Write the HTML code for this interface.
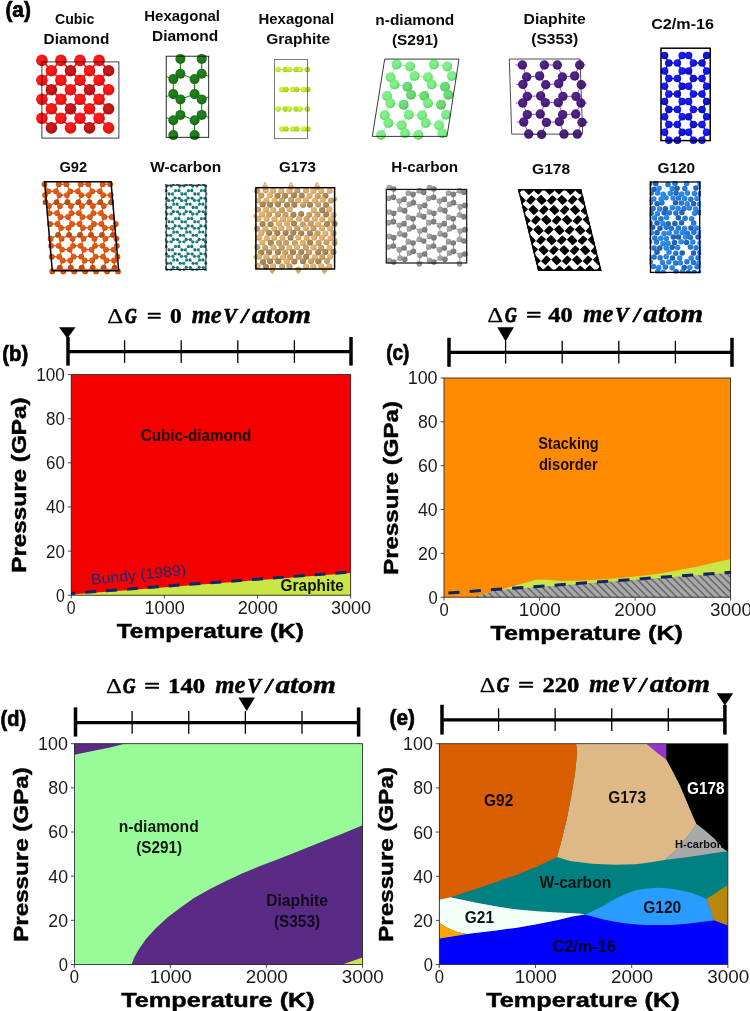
<!DOCTYPE html>
<html lang="en"><head><meta charset="utf-8"><title>Carbon phase diagrams</title>
<style>html,body{margin:0;padding:0;background:#fff;}svg{display:block;will-change:transform;}</style></head><body>
<svg width="750" height="1011" viewBox="0 0 750 1011">
<rect width="750" height="1011" fill="#fff"/>
<defs>
<pattern id="hatch" width="5.2" height="5.2" patternUnits="userSpaceOnUse" patternTransform="rotate(45)"><rect width="5.2" height="5.2" fill="#a9a9a9"/><rect x="0" y="0" width="5.2" height="1.5" fill="#666"/></pattern>
<radialGradient id="g0" cx="0.42" cy="0.38" r="0.62"><stop offset="0" stop-color="#fb2222"/><stop offset="0.55" stop-color="#fb1414"/><stop offset="1" stop-color="#d21010"/></radialGradient><radialGradient id="g1" cx="0.42" cy="0.38" r="0.62"><stop offset="0" stop-color="#c72222"/><stop offset="0.55" stop-color="#c41414"/><stop offset="1" stop-color="#a41010"/></radialGradient><radialGradient id="g2" cx="0.42" cy="0.38" r="0.62"><stop offset="0" stop-color="#298124"/><stop offset="0.55" stop-color="#1c7a17"/><stop offset="1" stop-color="#176613"/></radialGradient><radialGradient id="g3" cx="0.42" cy="0.38" r="0.62"><stop offset="0" stop-color="#c9f536"/><stop offset="0.55" stop-color="#c6f52a"/><stop offset="1" stop-color="#a6cd23"/></radialGradient><radialGradient id="g4" cx="0.42" cy="0.38" r="0.62"><stop offset="0" stop-color="#b8e130"/><stop offset="0.55" stop-color="#b4e023"/><stop offset="1" stop-color="#97bc1d"/></radialGradient><radialGradient id="g5" cx="0.42" cy="0.38" r="0.62"><stop offset="0" stop-color="#7cef84"/><stop offset="0.55" stop-color="#74ee7d"/><stop offset="1" stop-color="#61c769"/></radialGradient><radialGradient id="g6" cx="0.42" cy="0.38" r="0.62"><stop offset="0" stop-color="#68db73"/><stop offset="0.55" stop-color="#5fd96b"/><stop offset="1" stop-color="#4fb659"/></radialGradient><radialGradient id="g7" cx="0.42" cy="0.38" r="0.62"><stop offset="0" stop-color="#562a89"/><stop offset="0.55" stop-color="#4c1d82"/><stop offset="1" stop-color="#3f186d"/></radialGradient><radialGradient id="g8" cx="0.42" cy="0.38" r="0.62"><stop offset="0" stop-color="#1d1dd2"/><stop offset="0.55" stop-color="#0f0fd0"/><stop offset="1" stop-color="#0c0cae"/></radialGradient><radialGradient id="g9" cx="0.42" cy="0.38" r="0.62"><stop offset="0" stop-color="#2222f0"/><stop offset="0.55" stop-color="#1414f0"/><stop offset="1" stop-color="#1010c9"/></radialGradient><radialGradient id="g10" cx="0.42" cy="0.38" r="0.62"><stop offset="0" stop-color="#e3601a"/><stop offset="0.55" stop-color="#e2560c"/><stop offset="1" stop-color="#bd480a"/></radialGradient><radialGradient id="g11" cx="0.42" cy="0.38" r="0.62"><stop offset="0" stop-color="#c05420"/><stop offset="0.55" stop-color="#bd4a12"/><stop offset="1" stop-color="#9e3e0f"/></radialGradient><radialGradient id="g12" cx="0.42" cy="0.38" r="0.62"><stop offset="0" stop-color="#197678"/><stop offset="0.55" stop-color="#0b6e70"/><stop offset="1" stop-color="#095c5e"/></radialGradient><radialGradient id="g13" cx="0.42" cy="0.38" r="0.62"><stop offset="0" stop-color="#208786"/><stop offset="0.55" stop-color="#12807f"/><stop offset="1" stop-color="#0f6b6a"/></radialGradient><radialGradient id="g14" cx="0.42" cy="0.38" r="0.62"><stop offset="0" stop-color="#cca56c"/><stop offset="0.55" stop-color="#c9a063"/><stop offset="1" stop-color="#a88653"/></radialGradient><radialGradient id="g15" cx="0.42" cy="0.38" r="0.62"><stop offset="0" stop-color="#e4b472"/><stop offset="0.55" stop-color="#e3b06a"/><stop offset="1" stop-color="#be9359"/></radialGradient><radialGradient id="g16" cx="0.42" cy="0.38" r="0.62"><stop offset="0" stop-color="#ae8c5d"/><stop offset="0.55" stop-color="#a98553"/><stop offset="1" stop-color="#8d6f45"/></radialGradient><radialGradient id="g17" cx="0.42" cy="0.38" r="0.62"><stop offset="0" stop-color="#a5a5a5"/><stop offset="0.55" stop-color="#a0a0a0"/><stop offset="1" stop-color="#868686"/></radialGradient><radialGradient id="g18" cx="0.42" cy="0.38" r="0.62"><stop offset="0" stop-color="#878787"/><stop offset="0.55" stop-color="#808080"/><stop offset="1" stop-color="#6b6b6b"/></radialGradient><radialGradient id="g19" cx="0.42" cy="0.38" r="0.62"><stop offset="0" stop-color="#2e7fda"/><stop offset="0.55" stop-color="#2177d8"/><stop offset="1" stop-color="#1b63b5"/></radialGradient><radialGradient id="g20" cx="0.42" cy="0.38" r="0.62"><stop offset="0" stop-color="#296cbc"/><stop offset="0.55" stop-color="#1c63b8"/><stop offset="1" stop-color="#17539a"/></radialGradient><radialGradient id="g21" cx="0.42" cy="0.38" r="0.62"><stop offset="0" stop-color="#338def"/><stop offset="0.55" stop-color="#2686ee"/><stop offset="1" stop-color="#1f70c7"/></radialGradient>
</defs>
<text x="5.4" y="16.5" font-family="'Liberation Sans', sans-serif" font-size="22" font-weight="bold" font-style="normal" fill="#000" textLength="25.45" lengthAdjust="spacingAndGlyphs" stroke="#000" stroke-width="0.7">(a)</text>
<text x="55" y="24" font-family="'Liberation Sans', sans-serif" font-size="15.5" font-weight="bold" font-style="normal" fill="#0a0a0a" textLength="39.27" lengthAdjust="spacingAndGlyphs">Cubic</text>
<text x="43.6" y="44.3" font-family="'Liberation Sans', sans-serif" font-size="15.5" font-weight="bold" font-style="normal" fill="#0a0a0a" textLength="65.67" lengthAdjust="spacingAndGlyphs">Diamond</text>
<text x="144.3" y="20.7" font-family="'Liberation Sans', sans-serif" font-size="15.5" font-weight="bold" font-style="normal" fill="#0a0a0a" textLength="75.73" lengthAdjust="spacingAndGlyphs">Hexagonal</text>
<text x="152" y="41" font-family="'Liberation Sans', sans-serif" font-size="15.5" font-weight="bold" font-style="normal" fill="#0a0a0a" textLength="66.27" lengthAdjust="spacingAndGlyphs">Diamond</text>
<text x="258.5" y="24" font-family="'Liberation Sans', sans-serif" font-size="15.5" font-weight="bold" font-style="normal" fill="#0a0a0a" textLength="75.53" lengthAdjust="spacingAndGlyphs">Hexagonal</text>
<text x="266.2" y="44.3" font-family="'Liberation Sans', sans-serif" font-size="15.5" font-weight="bold" font-style="normal" fill="#0a0a0a" textLength="63.83" lengthAdjust="spacingAndGlyphs">Graphite</text>
<text x="375.3" y="25" font-family="'Liberation Sans', sans-serif" font-size="15.5" font-weight="bold" font-style="normal" fill="#0a0a0a" textLength="79.01" lengthAdjust="spacingAndGlyphs">n-diamond</text>
<text x="391.9" y="45" font-family="'Liberation Sans', sans-serif" font-size="15.5" font-weight="bold" font-style="normal" fill="#0a0a0a" textLength="46.33" lengthAdjust="spacingAndGlyphs">(S291)</text>
<text x="523.6" y="24" font-family="'Liberation Sans', sans-serif" font-size="15.5" font-weight="bold" font-style="normal" fill="#0a0a0a" textLength="62.1" lengthAdjust="spacingAndGlyphs">Diaphite</text>
<text x="531.2" y="44.3" font-family="'Liberation Sans', sans-serif" font-size="15.5" font-weight="bold" font-style="normal" fill="#0a0a0a" textLength="47.03" lengthAdjust="spacingAndGlyphs">(S353)</text>
<text x="651.2" y="29.3" font-family="'Liberation Sans', sans-serif" font-size="15.5" font-weight="bold" font-style="normal" fill="#0a0a0a" textLength="62.81" lengthAdjust="spacingAndGlyphs">C2/m-16</text>
<text x="59.4" y="172" font-family="'Liberation Sans', sans-serif" font-size="15.5" font-weight="bold" font-style="normal" fill="#0a0a0a" textLength="27.8" lengthAdjust="spacingAndGlyphs">G92</text>
<text x="150.2" y="172" font-family="'Liberation Sans', sans-serif" font-size="15.5" font-weight="bold" font-style="normal" fill="#0a0a0a" textLength="71.01" lengthAdjust="spacingAndGlyphs">W-carbon</text>
<text x="279" y="172" font-family="'Liberation Sans', sans-serif" font-size="15.5" font-weight="bold" font-style="normal" fill="#0a0a0a" textLength="37.02" lengthAdjust="spacingAndGlyphs">G173</text>
<text x="391.3" y="172" font-family="'Liberation Sans', sans-serif" font-size="15.5" font-weight="bold" font-style="normal" fill="#0a0a0a" textLength="66.89" lengthAdjust="spacingAndGlyphs">H-carbon</text>
<text x="532" y="174" font-family="'Liberation Sans', sans-serif" font-size="15.5" font-weight="bold" font-style="normal" fill="#0a0a0a" textLength="38.22" lengthAdjust="spacingAndGlyphs">G178</text>
<text x="657.5" y="172.5" font-family="'Liberation Sans', sans-serif" font-size="15.5" font-weight="bold" font-style="normal" fill="#0a0a0a" textLength="37.52" lengthAdjust="spacingAndGlyphs">G120</text>
<g id="cubic-diamond">
<line x1="41.9" y1="60.4" x2="51.4" y2="70.7" stroke="#ee1c1c" stroke-width="1.7"/>
<line x1="60.9" y1="60.4" x2="51.4" y2="70.7" stroke="#ee1c1c" stroke-width="1.7"/>
<line x1="60.9" y1="60.4" x2="70.5" y2="70.7" stroke="#ee1c1c" stroke-width="1.7"/>
<line x1="80" y1="60.4" x2="70.5" y2="70.7" stroke="#ee1c1c" stroke-width="1.7"/>
<line x1="80" y1="60.4" x2="89.5" y2="70.7" stroke="#ee1c1c" stroke-width="1.7"/>
<line x1="99.1" y1="60.4" x2="89.5" y2="70.7" stroke="#ee1c1c" stroke-width="1.7"/>
<line x1="99.1" y1="60.4" x2="108.6" y2="70.7" stroke="#ee1c1c" stroke-width="1.7"/>
<line x1="51.4" y1="70.7" x2="41.9" y2="80.2" stroke="#ee1c1c" stroke-width="1.7"/>
<line x1="51.4" y1="70.7" x2="60.9" y2="80.2" stroke="#ee1c1c" stroke-width="1.7"/>
<line x1="70.5" y1="70.7" x2="60.9" y2="80.2" stroke="#ee1c1c" stroke-width="1.7"/>
<line x1="70.5" y1="70.7" x2="80" y2="80.2" stroke="#ee1c1c" stroke-width="1.7"/>
<line x1="89.5" y1="70.7" x2="80" y2="80.2" stroke="#ee1c1c" stroke-width="1.7"/>
<line x1="89.5" y1="70.7" x2="99.1" y2="80.2" stroke="#ee1c1c" stroke-width="1.7"/>
<line x1="108.6" y1="70.7" x2="99.1" y2="80.2" stroke="#ee1c1c" stroke-width="1.7"/>
<line x1="41.9" y1="80.2" x2="51.4" y2="89.7" stroke="#ee1c1c" stroke-width="1.7"/>
<line x1="60.9" y1="80.2" x2="51.4" y2="89.7" stroke="#ee1c1c" stroke-width="1.7"/>
<line x1="60.9" y1="80.2" x2="70.5" y2="89.7" stroke="#ee1c1c" stroke-width="1.7"/>
<line x1="80" y1="80.2" x2="70.5" y2="89.7" stroke="#ee1c1c" stroke-width="1.7"/>
<line x1="80" y1="80.2" x2="89.5" y2="89.7" stroke="#ee1c1c" stroke-width="1.7"/>
<line x1="99.1" y1="80.2" x2="89.5" y2="89.7" stroke="#ee1c1c" stroke-width="1.7"/>
<line x1="99.1" y1="80.2" x2="108.6" y2="89.7" stroke="#ee1c1c" stroke-width="1.7"/>
<line x1="51.4" y1="89.7" x2="41.9" y2="99.3" stroke="#ee1c1c" stroke-width="1.7"/>
<line x1="51.4" y1="89.7" x2="60.9" y2="99.3" stroke="#ee1c1c" stroke-width="1.7"/>
<line x1="70.5" y1="89.7" x2="60.9" y2="99.3" stroke="#ee1c1c" stroke-width="1.7"/>
<line x1="70.5" y1="89.7" x2="80" y2="99.3" stroke="#ee1c1c" stroke-width="1.7"/>
<line x1="89.5" y1="89.7" x2="80" y2="99.3" stroke="#ee1c1c" stroke-width="1.7"/>
<line x1="89.5" y1="89.7" x2="99.1" y2="99.3" stroke="#ee1c1c" stroke-width="1.7"/>
<line x1="108.6" y1="89.7" x2="99.1" y2="99.3" stroke="#ee1c1c" stroke-width="1.7"/>
<line x1="41.9" y1="99.3" x2="51.4" y2="108.8" stroke="#ee1c1c" stroke-width="1.7"/>
<line x1="60.9" y1="99.3" x2="51.4" y2="108.8" stroke="#ee1c1c" stroke-width="1.7"/>
<line x1="60.9" y1="99.3" x2="70.5" y2="108.8" stroke="#ee1c1c" stroke-width="1.7"/>
<line x1="80" y1="99.3" x2="70.5" y2="108.8" stroke="#ee1c1c" stroke-width="1.7"/>
<line x1="80" y1="99.3" x2="89.5" y2="108.8" stroke="#ee1c1c" stroke-width="1.7"/>
<line x1="99.1" y1="99.3" x2="89.5" y2="108.8" stroke="#ee1c1c" stroke-width="1.7"/>
<line x1="99.1" y1="99.3" x2="108.6" y2="108.8" stroke="#ee1c1c" stroke-width="1.7"/>
<line x1="51.4" y1="108.8" x2="41.9" y2="118.3" stroke="#ee1c1c" stroke-width="1.7"/>
<line x1="51.4" y1="108.8" x2="60.9" y2="118.3" stroke="#ee1c1c" stroke-width="1.7"/>
<line x1="70.5" y1="108.8" x2="60.9" y2="118.3" stroke="#ee1c1c" stroke-width="1.7"/>
<line x1="70.5" y1="108.8" x2="80" y2="118.3" stroke="#ee1c1c" stroke-width="1.7"/>
<line x1="89.5" y1="108.8" x2="80" y2="118.3" stroke="#ee1c1c" stroke-width="1.7"/>
<line x1="89.5" y1="108.8" x2="99.1" y2="118.3" stroke="#ee1c1c" stroke-width="1.7"/>
<line x1="108.6" y1="108.8" x2="99.1" y2="118.3" stroke="#ee1c1c" stroke-width="1.7"/>
<line x1="41.9" y1="118.3" x2="51.4" y2="127.9" stroke="#ee1c1c" stroke-width="1.7"/>
<line x1="60.9" y1="118.3" x2="51.4" y2="127.9" stroke="#ee1c1c" stroke-width="1.7"/>
<line x1="60.9" y1="118.3" x2="70.5" y2="127.9" stroke="#ee1c1c" stroke-width="1.7"/>
<line x1="80" y1="118.3" x2="70.5" y2="127.9" stroke="#ee1c1c" stroke-width="1.7"/>
<line x1="80" y1="118.3" x2="89.5" y2="127.9" stroke="#ee1c1c" stroke-width="1.7"/>
<line x1="99.1" y1="118.3" x2="89.5" y2="127.9" stroke="#ee1c1c" stroke-width="1.7"/>
<line x1="99.1" y1="118.3" x2="108.6" y2="127.9" stroke="#ee1c1c" stroke-width="1.7"/>
<circle cx="41.9" cy="60.4" r="5.8" fill="url(#g0)"/>
<circle cx="60.9" cy="60.4" r="5.8" fill="url(#g0)"/>
<circle cx="80" cy="60.4" r="5.8" fill="url(#g0)"/>
<circle cx="99.1" cy="60.4" r="5.8" fill="url(#g0)"/>
<circle cx="51.4" cy="70.7" r="5.8" fill="url(#g0)"/>
<circle cx="70.5" cy="70.7" r="5.8" fill="url(#g1)"/>
<circle cx="89.5" cy="70.7" r="5.8" fill="url(#g0)"/>
<circle cx="108.6" cy="70.7" r="5.8" fill="url(#g1)"/>
<circle cx="41.9" cy="80.2" r="5.8" fill="url(#g0)"/>
<circle cx="60.9" cy="80.2" r="5.8" fill="url(#g0)"/>
<circle cx="80" cy="80.2" r="5.8" fill="url(#g0)"/>
<circle cx="99.1" cy="80.2" r="5.8" fill="url(#g0)"/>
<circle cx="51.4" cy="89.7" r="5.8" fill="url(#g1)"/>
<circle cx="70.5" cy="89.7" r="5.8" fill="url(#g0)"/>
<circle cx="89.5" cy="89.7" r="5.8" fill="url(#g1)"/>
<circle cx="108.6" cy="89.7" r="5.8" fill="url(#g0)"/>
<circle cx="41.9" cy="99.3" r="5.8" fill="url(#g0)"/>
<circle cx="60.9" cy="99.3" r="5.8" fill="url(#g0)"/>
<circle cx="80" cy="99.3" r="5.8" fill="url(#g0)"/>
<circle cx="99.1" cy="99.3" r="5.8" fill="url(#g0)"/>
<circle cx="51.4" cy="108.8" r="5.8" fill="url(#g0)"/>
<circle cx="70.5" cy="108.8" r="5.8" fill="url(#g1)"/>
<circle cx="89.5" cy="108.8" r="5.8" fill="url(#g0)"/>
<circle cx="108.6" cy="108.8" r="5.8" fill="url(#g1)"/>
<circle cx="41.9" cy="118.3" r="5.8" fill="url(#g0)"/>
<circle cx="60.9" cy="118.3" r="5.8" fill="url(#g0)"/>
<circle cx="80" cy="118.3" r="5.8" fill="url(#g0)"/>
<circle cx="99.1" cy="118.3" r="5.8" fill="url(#g0)"/>
<circle cx="51.4" cy="127.9" r="5.8" fill="url(#g1)"/>
<circle cx="70.5" cy="127.9" r="5.8" fill="url(#g0)"/>
<circle cx="89.5" cy="127.9" r="5.8" fill="url(#g1)"/>
<circle cx="108.6" cy="127.9" r="5.8" fill="url(#g0)"/>
<rect x="41.9" y="61.9" width="77" height="76.2" fill="none" stroke="#111" stroke-width="0.9" stroke-opacity="0.9"/>
</g>
<g id="hex-diamond">
<line x1="180.4" y1="58.9" x2="180.4" y2="73.8" stroke="#1c7a17" stroke-width="1.1"/>
<line x1="201.7" y1="58.9" x2="201.7" y2="73.8" stroke="#1c7a17" stroke-width="1.1"/>
<line x1="173.3" y1="79.1" x2="173.3" y2="94.1" stroke="#1c7a17" stroke-width="1.1"/>
<line x1="194.6" y1="79.1" x2="194.6" y2="94.1" stroke="#1c7a17" stroke-width="1.1"/>
<line x1="180.4" y1="99.4" x2="180.4" y2="114.9" stroke="#1c7a17" stroke-width="1.1"/>
<line x1="201.7" y1="99.4" x2="201.7" y2="114.9" stroke="#1c7a17" stroke-width="1.1"/>
<line x1="173.3" y1="120.2" x2="173.3" y2="135.1" stroke="#1c7a17" stroke-width="1.1"/>
<line x1="194.6" y1="120.2" x2="194.6" y2="135.1" stroke="#1c7a17" stroke-width="1.1"/>
<line x1="180.4" y1="73.8" x2="173.3" y2="79.1" stroke="#1c7a17" stroke-width="1"/>
<line x1="180.4" y1="73.8" x2="194.6" y2="79.1" stroke="#1c7a17" stroke-width="1"/>
<line x1="201.7" y1="73.8" x2="194.6" y2="79.1" stroke="#1c7a17" stroke-width="1"/>
<line x1="173.3" y1="94.1" x2="180.4" y2="99.4" stroke="#1c7a17" stroke-width="1"/>
<line x1="194.6" y1="94.1" x2="180.4" y2="99.4" stroke="#1c7a17" stroke-width="1"/>
<line x1="194.6" y1="94.1" x2="201.7" y2="99.4" stroke="#1c7a17" stroke-width="1"/>
<line x1="180.4" y1="114.9" x2="173.3" y2="120.2" stroke="#1c7a17" stroke-width="1"/>
<line x1="180.4" y1="114.9" x2="194.6" y2="120.2" stroke="#1c7a17" stroke-width="1"/>
<line x1="201.7" y1="114.9" x2="194.6" y2="120.2" stroke="#1c7a17" stroke-width="1"/>
<line x1="201.7" y1="73.8" x2="208.7" y2="76.3" stroke="#1c7a17" stroke-width="1"/>
<line x1="166.2" y1="76.6" x2="173.3" y2="79.1" stroke="#1c7a17" stroke-width="1"/>
<line x1="201.7" y1="114.9" x2="208.7" y2="117.4" stroke="#1c7a17" stroke-width="1"/>
<line x1="166.2" y1="117.7" x2="173.3" y2="120.2" stroke="#1c7a17" stroke-width="1"/>
<line x1="166.2" y1="96.6" x2="173.3" y2="94.1" stroke="#1c7a17" stroke-width="1"/>
<line x1="201.7" y1="99.4" x2="208.7" y2="96.9" stroke="#1c7a17" stroke-width="1"/>
<circle cx="180.4" cy="58.9" r="5" fill="url(#g2)"/>
<circle cx="201.7" cy="58.9" r="5" fill="url(#g2)"/>
<circle cx="180.4" cy="73.8" r="5" fill="url(#g2)"/>
<circle cx="201.7" cy="73.8" r="5" fill="url(#g2)"/>
<circle cx="173.3" cy="79.1" r="5" fill="url(#g2)"/>
<circle cx="194.6" cy="79.1" r="5" fill="url(#g2)"/>
<circle cx="173.3" cy="94.1" r="5" fill="url(#g2)"/>
<circle cx="194.6" cy="94.1" r="5" fill="url(#g2)"/>
<circle cx="180.4" cy="99.4" r="5" fill="url(#g2)"/>
<circle cx="201.7" cy="99.4" r="5" fill="url(#g2)"/>
<circle cx="180.4" cy="114.9" r="5" fill="url(#g2)"/>
<circle cx="201.7" cy="114.9" r="5" fill="url(#g2)"/>
<circle cx="173.3" cy="120.2" r="5" fill="url(#g2)"/>
<circle cx="194.6" cy="120.2" r="5" fill="url(#g2)"/>
<circle cx="173.3" cy="135.1" r="5" fill="url(#g2)"/>
<circle cx="194.6" cy="135.1" r="5" fill="url(#g2)"/>
<rect x="166.2" y="56.2" width="42.5" height="81.1" fill="none" stroke="#111" stroke-width="0.9"/>
</g>
<g id="hex-graphite">
<line x1="278.1" y1="69.5" x2="307.3" y2="69.5" stroke="#b7e62a" stroke-width="0.8"/>
<circle cx="278.1" cy="69.5" r="2.65" fill="url(#g3)"/>
<circle cx="285.3" cy="69.5" r="2.65" fill="url(#g4)"/>
<circle cx="289.3" cy="69.5" r="2.65" fill="url(#g3)"/>
<circle cx="296.1" cy="69.5" r="2.65" fill="url(#g4)"/>
<circle cx="300" cy="69.5" r="2.65" fill="url(#g3)"/>
<circle cx="307.3" cy="69.5" r="2.65" fill="url(#g4)"/>
<line x1="281.7" y1="89.5" x2="307.8" y2="89.5" stroke="#b7e62a" stroke-width="0.8"/>
<circle cx="281.7" cy="89.5" r="2.65" fill="url(#g3)"/>
<circle cx="285.9" cy="89.5" r="2.65" fill="url(#g4)"/>
<circle cx="292.5" cy="89.5" r="2.65" fill="url(#g3)"/>
<circle cx="296.6" cy="89.5" r="2.65" fill="url(#g4)"/>
<circle cx="303.5" cy="89.5" r="2.65" fill="url(#g3)"/>
<circle cx="307.8" cy="89.5" r="2.65" fill="url(#g4)"/>
<line x1="278.1" y1="109" x2="307.3" y2="109" stroke="#b7e62a" stroke-width="0.8"/>
<circle cx="278.1" cy="109" r="2.65" fill="url(#g3)"/>
<circle cx="285.3" cy="109" r="2.65" fill="url(#g4)"/>
<circle cx="289.3" cy="109" r="2.65" fill="url(#g3)"/>
<circle cx="296.1" cy="109" r="2.65" fill="url(#g4)"/>
<circle cx="300" cy="109" r="2.65" fill="url(#g3)"/>
<circle cx="307.3" cy="109" r="2.65" fill="url(#g4)"/>
<line x1="281.7" y1="128.9" x2="307.8" y2="128.9" stroke="#b7e62a" stroke-width="0.8"/>
<circle cx="281.7" cy="128.9" r="2.65" fill="url(#g3)"/>
<circle cx="285.9" cy="128.9" r="2.65" fill="url(#g4)"/>
<circle cx="292.5" cy="128.9" r="2.65" fill="url(#g3)"/>
<circle cx="296.6" cy="128.9" r="2.65" fill="url(#g4)"/>
<circle cx="303.5" cy="128.9" r="2.65" fill="url(#g3)"/>
<circle cx="307.8" cy="128.9" r="2.65" fill="url(#g4)"/>
<rect x="274.4" y="59.4" width="33.1" height="79.3" fill="none" stroke="#444" stroke-width="0.7"/>
</g>
<g id="n-diamond">
<line x1="396.6" y1="64.4" x2="410.07" y2="66.4" stroke="#8fe89a" stroke-width="0.8"/>
<line x1="396.6" y1="64.4" x2="390.6" y2="77.33" stroke="#8fe89a" stroke-width="0.8"/>
<line x1="410.07" y1="66.4" x2="414.6" y2="76" stroke="#8fe89a" stroke-width="0.8"/>
<line x1="433.93" y1="64.4" x2="447.27" y2="66.4" stroke="#8fe89a" stroke-width="0.8"/>
<line x1="433.93" y1="64.4" x2="427.93" y2="77.33" stroke="#8fe89a" stroke-width="0.8"/>
<line x1="447.27" y1="66.4" x2="451.93" y2="76" stroke="#8fe89a" stroke-width="0.8"/>
<line x1="414.6" y1="76" x2="427.93" y2="77.33" stroke="#8fe89a" stroke-width="0.8"/>
<line x1="414.6" y1="76" x2="407.4" y2="86.67" stroke="#8fe89a" stroke-width="0.8"/>
<line x1="451.93" y1="76" x2="445" y2="86.67" stroke="#8fe89a" stroke-width="0.8"/>
<line x1="394.6" y1="84.4" x2="407.4" y2="86.67" stroke="#8fe89a" stroke-width="0.8"/>
<line x1="394.6" y1="84.4" x2="387" y2="96" stroke="#8fe89a" stroke-width="0.8"/>
<line x1="431.67" y1="84.4" x2="445" y2="86.67" stroke="#8fe89a" stroke-width="0.8"/>
<line x1="431.67" y1="84.4" x2="424.33" y2="96" stroke="#8fe89a" stroke-width="0.8"/>
<line x1="411" y1="94.67" x2="424.33" y2="96" stroke="#8fe89a" stroke-width="0.8"/>
<line x1="411" y1="94.67" x2="403.67" y2="104.67" stroke="#8fe89a" stroke-width="0.8"/>
<line x1="448.33" y1="94.67" x2="441" y2="104.67" stroke="#8fe89a" stroke-width="0.8"/>
<line x1="390.33" y1="103.33" x2="403.67" y2="104.67" stroke="#8fe89a" stroke-width="0.8"/>
<line x1="390.33" y1="103.33" x2="384.73" y2="115.33" stroke="#8fe89a" stroke-width="0.8"/>
<line x1="403.67" y1="104.67" x2="408.73" y2="114.67" stroke="#8fe89a" stroke-width="0.8"/>
<line x1="427.93" y1="103.33" x2="441" y2="104.67" stroke="#8fe89a" stroke-width="0.8"/>
<line x1="427.93" y1="103.33" x2="422.07" y2="115.33" stroke="#8fe89a" stroke-width="0.8"/>
<line x1="441" y1="104.67" x2="446.07" y2="114.67" stroke="#8fe89a" stroke-width="0.8"/>
<line x1="408.73" y1="114.67" x2="422.07" y2="115.33" stroke="#8fe89a" stroke-width="0.8"/>
<line x1="408.73" y1="114.67" x2="401.67" y2="125.33" stroke="#8fe89a" stroke-width="0.8"/>
<line x1="446.07" y1="114.67" x2="439" y2="125.33" stroke="#8fe89a" stroke-width="0.8"/>
<line x1="388.33" y1="123.07" x2="401.67" y2="125.33" stroke="#8fe89a" stroke-width="0.8"/>
<line x1="388.33" y1="123.07" x2="381" y2="135.07" stroke="#8fe89a" stroke-width="0.8"/>
<line x1="425.67" y1="123.07" x2="439" y2="125.33" stroke="#8fe89a" stroke-width="0.8"/>
<line x1="425.67" y1="123.07" x2="418.33" y2="135.07" stroke="#8fe89a" stroke-width="0.8"/>
<line x1="405" y1="133.33" x2="418.33" y2="135.07" stroke="#8fe89a" stroke-width="0.8"/>
<circle cx="396.6" cy="64.4" r="5" fill="url(#g5)" fill-opacity="0.95"/>
<circle cx="410.07" cy="66.4" r="5" fill="url(#g5)" fill-opacity="0.95"/>
<circle cx="433.93" cy="64.4" r="5" fill="url(#g5)" fill-opacity="0.95"/>
<circle cx="447.27" cy="66.4" r="5" fill="url(#g5)" fill-opacity="0.95"/>
<circle cx="390.6" cy="77.33" r="5" fill="url(#g5)" fill-opacity="0.95"/>
<circle cx="414.6" cy="76" r="5" fill="url(#g5)" fill-opacity="0.95"/>
<circle cx="427.93" cy="77.33" r="5" fill="url(#g5)" fill-opacity="0.95"/>
<circle cx="451.93" cy="76" r="5" fill="url(#g5)" fill-opacity="0.95"/>
<circle cx="394.6" cy="84.4" r="5" fill="url(#g5)" fill-opacity="0.95"/>
<circle cx="407.4" cy="86.67" r="5" fill="url(#g6)" fill-opacity="0.95"/>
<circle cx="431.67" cy="84.4" r="5" fill="url(#g5)" fill-opacity="0.95"/>
<circle cx="445" cy="86.67" r="5" fill="url(#g6)" fill-opacity="0.95"/>
<circle cx="387" cy="96" r="5" fill="url(#g5)" fill-opacity="0.95"/>
<circle cx="411" cy="94.67" r="5" fill="url(#g6)" fill-opacity="0.95"/>
<circle cx="424.33" cy="96" r="5" fill="url(#g6)" fill-opacity="0.95"/>
<circle cx="448.33" cy="94.67" r="5" fill="url(#g6)" fill-opacity="0.95"/>
<circle cx="390.33" cy="103.33" r="5" fill="url(#g5)" fill-opacity="0.95"/>
<circle cx="403.67" cy="104.67" r="5" fill="url(#g6)" fill-opacity="0.95"/>
<circle cx="427.93" cy="103.33" r="5" fill="url(#g5)" fill-opacity="0.95"/>
<circle cx="441" cy="104.67" r="5" fill="url(#g6)" fill-opacity="0.95"/>
<circle cx="384.73" cy="115.33" r="5" fill="url(#g5)" fill-opacity="0.95"/>
<circle cx="408.73" cy="114.67" r="5" fill="url(#g5)" fill-opacity="0.95"/>
<circle cx="422.07" cy="115.33" r="5" fill="url(#g5)" fill-opacity="0.95"/>
<circle cx="446.07" cy="114.67" r="5" fill="url(#g5)" fill-opacity="0.95"/>
<circle cx="388.33" cy="123.07" r="5" fill="url(#g5)" fill-opacity="0.95"/>
<circle cx="401.67" cy="125.33" r="5" fill="url(#g5)" fill-opacity="0.95"/>
<circle cx="425.67" cy="123.07" r="5" fill="url(#g5)" fill-opacity="0.95"/>
<circle cx="439" cy="125.33" r="5" fill="url(#g5)" fill-opacity="0.95"/>
<circle cx="381" cy="135.07" r="5" fill="url(#g5)" fill-opacity="0.95"/>
<circle cx="405" cy="133.33" r="5" fill="url(#g5)" fill-opacity="0.95"/>
<circle cx="418.33" cy="135.07" r="5" fill="url(#g5)" fill-opacity="0.95"/>
<circle cx="442.33" cy="133.33" r="5" fill="url(#g5)" fill-opacity="0.95"/>
<polygon points="384.7,59.1 459,59.1 447,136.4 372.3,136.4" fill="none" stroke="#222" stroke-width="0.9"/>
</g>
<g id="diaphite">
<line x1="522.4" y1="65" x2="526.67" y2="77" stroke="#6a3aa8" stroke-width="0.8"/>
<line x1="544.4" y1="65" x2="557.33" y2="65" stroke="#6a3aa8" stroke-width="0.8"/>
<line x1="544.4" y1="65" x2="539.6" y2="75.93" stroke="#6a3aa8" stroke-width="0.8"/>
<line x1="557.33" y1="65" x2="562.4" y2="77" stroke="#6a3aa8" stroke-width="0.8"/>
<line x1="579.73" y1="65" x2="574.67" y2="75.93" stroke="#6a3aa8" stroke-width="0.8"/>
<line x1="526.67" y1="77" x2="539.6" y2="75.93" stroke="#6a3aa8" stroke-width="0.8"/>
<line x1="539.6" y1="75.93" x2="545.73" y2="84.73" stroke="#6a3aa8" stroke-width="0.8"/>
<line x1="562.4" y1="77" x2="574.67" y2="75.93" stroke="#6a3aa8" stroke-width="0.8"/>
<line x1="574.67" y1="75.93" x2="581.33" y2="84.73" stroke="#6a3aa8" stroke-width="0.8"/>
<line x1="522.93" y1="84.33" x2="527.33" y2="96.33" stroke="#6a3aa8" stroke-width="0.8"/>
<line x1="545.73" y1="84.73" x2="558.67" y2="83.67" stroke="#6a3aa8" stroke-width="0.8"/>
<line x1="545.73" y1="84.73" x2="540.67" y2="95.93" stroke="#6a3aa8" stroke-width="0.8"/>
<line x1="558.67" y1="83.67" x2="562.93" y2="96.33" stroke="#6a3aa8" stroke-width="0.8"/>
<line x1="581.33" y1="84.73" x2="576" y2="96.33" stroke="#6a3aa8" stroke-width="0.8"/>
<line x1="527.33" y1="96.33" x2="540.67" y2="95.93" stroke="#6a3aa8" stroke-width="0.8"/>
<line x1="562.93" y1="96.33" x2="576" y2="96.33" stroke="#6a3aa8" stroke-width="0.8"/>
<line x1="522.67" y1="103" x2="527.33" y2="114.6" stroke="#6a3aa8" stroke-width="0.8"/>
<line x1="545.33" y1="102.6" x2="558.27" y2="102.6" stroke="#6a3aa8" stroke-width="0.8"/>
<line x1="545.33" y1="102.6" x2="540.27" y2="114.07" stroke="#6a3aa8" stroke-width="0.8"/>
<line x1="558.27" y1="102.6" x2="562.67" y2="114.6" stroke="#6a3aa8" stroke-width="0.8"/>
<line x1="580.93" y1="103" x2="575.73" y2="114.07" stroke="#6a3aa8" stroke-width="0.8"/>
<line x1="527.33" y1="114.6" x2="540.27" y2="114.07" stroke="#6a3aa8" stroke-width="0.8"/>
<line x1="540.27" y1="114.07" x2="546.4" y2="122.33" stroke="#6a3aa8" stroke-width="0.8"/>
<line x1="562.67" y1="114.6" x2="575.73" y2="114.07" stroke="#6a3aa8" stroke-width="0.8"/>
<line x1="575.73" y1="114.07" x2="582" y2="122.33" stroke="#6a3aa8" stroke-width="0.8"/>
<line x1="523.73" y1="122.07" x2="528.67" y2="134.07" stroke="#6a3aa8" stroke-width="0.8"/>
<line x1="546.4" y1="122.33" x2="559.33" y2="121.67" stroke="#6a3aa8" stroke-width="0.8"/>
<line x1="546.4" y1="122.33" x2="541.6" y2="134.33" stroke="#6a3aa8" stroke-width="0.8"/>
<line x1="559.33" y1="121.67" x2="564" y2="134.07" stroke="#6a3aa8" stroke-width="0.8"/>
<line x1="582" y1="122.33" x2="577.33" y2="134.07" stroke="#6a3aa8" stroke-width="0.8"/>
<line x1="528.67" y1="134.07" x2="541.6" y2="134.33" stroke="#6a3aa8" stroke-width="0.8"/>
<line x1="564" y1="134.07" x2="577.33" y2="134.07" stroke="#6a3aa8" stroke-width="0.8"/>
<line x1="515.4" y1="65" x2="522.4" y2="65" stroke="#6a3aa8" stroke-width="0.8"/>
<line x1="579.73" y1="65" x2="585.73" y2="65" stroke="#6a3aa8" stroke-width="0.8"/>
<line x1="515.93" y1="84.33" x2="522.93" y2="84.33" stroke="#6a3aa8" stroke-width="0.8"/>
<line x1="581.33" y1="84.73" x2="587.33" y2="84.73" stroke="#6a3aa8" stroke-width="0.8"/>
<line x1="515.67" y1="103" x2="522.67" y2="103" stroke="#6a3aa8" stroke-width="0.8"/>
<line x1="580.93" y1="103" x2="586.93" y2="103" stroke="#6a3aa8" stroke-width="0.8"/>
<line x1="516.73" y1="122.07" x2="523.73" y2="122.07" stroke="#6a3aa8" stroke-width="0.8"/>
<line x1="582" y1="122.33" x2="588" y2="122.33" stroke="#6a3aa8" stroke-width="0.8"/>
<circle cx="522.4" cy="65" r="4.7" fill="url(#g7)"/>
<circle cx="544.4" cy="65" r="4.7" fill="url(#g7)"/>
<circle cx="557.33" cy="65" r="4.7" fill="url(#g7)"/>
<circle cx="579.73" cy="65" r="4.7" fill="url(#g7)"/>
<circle cx="526.67" cy="77" r="4.7" fill="url(#g7)"/>
<circle cx="539.6" cy="75.93" r="4.7" fill="url(#g7)"/>
<circle cx="562.4" cy="77" r="4.7" fill="url(#g7)"/>
<circle cx="574.67" cy="75.93" r="4.7" fill="url(#g7)"/>
<circle cx="522.93" cy="84.33" r="4.7" fill="url(#g7)"/>
<circle cx="545.73" cy="84.73" r="4.7" fill="url(#g7)"/>
<circle cx="558.67" cy="83.67" r="4.7" fill="url(#g7)"/>
<circle cx="581.33" cy="84.73" r="4.7" fill="url(#g7)"/>
<circle cx="527.33" cy="96.33" r="4.7" fill="url(#g7)"/>
<circle cx="540.67" cy="95.93" r="4.7" fill="url(#g7)"/>
<circle cx="562.93" cy="96.33" r="4.7" fill="url(#g7)"/>
<circle cx="576" cy="96.33" r="4.7" fill="url(#g7)"/>
<circle cx="522.67" cy="103" r="4.7" fill="url(#g7)"/>
<circle cx="545.33" cy="102.6" r="4.7" fill="url(#g7)"/>
<circle cx="558.27" cy="102.6" r="4.7" fill="url(#g7)"/>
<circle cx="580.93" cy="103" r="4.7" fill="url(#g7)"/>
<circle cx="527.33" cy="114.6" r="4.7" fill="url(#g7)"/>
<circle cx="540.27" cy="114.07" r="4.7" fill="url(#g7)"/>
<circle cx="562.67" cy="114.6" r="4.7" fill="url(#g7)"/>
<circle cx="575.73" cy="114.07" r="4.7" fill="url(#g7)"/>
<circle cx="523.73" cy="122.07" r="4.7" fill="url(#g7)"/>
<circle cx="546.4" cy="122.33" r="4.7" fill="url(#g7)"/>
<circle cx="559.33" cy="121.67" r="4.7" fill="url(#g7)"/>
<circle cx="582" cy="122.33" r="4.7" fill="url(#g7)"/>
<circle cx="528.67" cy="134.07" r="4.7" fill="url(#g7)"/>
<circle cx="541.6" cy="134.33" r="4.7" fill="url(#g7)"/>
<circle cx="564" cy="134.07" r="4.7" fill="url(#g7)"/>
<circle cx="577.33" cy="134.07" r="4.7" fill="url(#g7)"/>
<polygon points="509.3,59 580,59 582.7,134.1 511.7,134.1" fill="none" stroke="#222" stroke-width="0.8"/>
</g>
<g id="c2m16">
<line x1="664.6" y1="55.4" x2="668.8" y2="63" stroke="#1515e0" stroke-width="1.5"/>
<line x1="682.2" y1="55.4" x2="688.6" y2="55.4" stroke="#1515e0" stroke-width="1.5"/>
<line x1="682.2" y1="55.4" x2="677.4" y2="63" stroke="#1515e0" stroke-width="1.5"/>
<line x1="688.6" y1="55.4" x2="693.4" y2="63" stroke="#1515e0" stroke-width="1.5"/>
<line x1="706.6" y1="55.4" x2="702" y2="63" stroke="#1515e0" stroke-width="1.5"/>
<line x1="664.6" y1="71" x2="668.8" y2="63" stroke="#1515e0" stroke-width="1.5"/>
<line x1="664.6" y1="71" x2="668.8" y2="78.6" stroke="#1515e0" stroke-width="1.5"/>
<line x1="682.2" y1="71" x2="688.6" y2="71" stroke="#1515e0" stroke-width="1.5"/>
<line x1="682.2" y1="71" x2="677.4" y2="63" stroke="#1515e0" stroke-width="1.5"/>
<line x1="682.2" y1="71" x2="677.4" y2="78.6" stroke="#1515e0" stroke-width="1.5"/>
<line x1="688.6" y1="71" x2="693.4" y2="63" stroke="#1515e0" stroke-width="1.5"/>
<line x1="688.6" y1="71" x2="693.4" y2="78.6" stroke="#1515e0" stroke-width="1.5"/>
<line x1="706.6" y1="71" x2="702" y2="63" stroke="#1515e0" stroke-width="1.5"/>
<line x1="706.6" y1="71" x2="702" y2="78.6" stroke="#1515e0" stroke-width="1.5"/>
<line x1="664.6" y1="86.2" x2="668.8" y2="78.6" stroke="#1515e0" stroke-width="1.5"/>
<line x1="664.6" y1="86.2" x2="668.8" y2="94" stroke="#1515e0" stroke-width="1.5"/>
<line x1="682.2" y1="86.2" x2="688.6" y2="86.2" stroke="#1515e0" stroke-width="1.5"/>
<line x1="682.2" y1="86.2" x2="677.4" y2="78.6" stroke="#1515e0" stroke-width="1.5"/>
<line x1="682.2" y1="86.2" x2="677.4" y2="94" stroke="#1515e0" stroke-width="1.5"/>
<line x1="688.6" y1="86.2" x2="693.4" y2="78.6" stroke="#1515e0" stroke-width="1.5"/>
<line x1="688.6" y1="86.2" x2="693.4" y2="94" stroke="#1515e0" stroke-width="1.5"/>
<line x1="706.6" y1="86.2" x2="702" y2="78.6" stroke="#1515e0" stroke-width="1.5"/>
<line x1="706.6" y1="86.2" x2="702" y2="94" stroke="#1515e0" stroke-width="1.5"/>
<line x1="664.6" y1="101.4" x2="668.8" y2="94" stroke="#1515e0" stroke-width="1.5"/>
<line x1="664.6" y1="101.4" x2="668.8" y2="109.4" stroke="#1515e0" stroke-width="1.5"/>
<line x1="682.2" y1="101.4" x2="688.6" y2="101.4" stroke="#1515e0" stroke-width="1.5"/>
<line x1="682.2" y1="101.4" x2="677.4" y2="94" stroke="#1515e0" stroke-width="1.5"/>
<line x1="682.2" y1="101.4" x2="677.4" y2="109.4" stroke="#1515e0" stroke-width="1.5"/>
<line x1="688.6" y1="101.4" x2="693.4" y2="94" stroke="#1515e0" stroke-width="1.5"/>
<line x1="688.6" y1="101.4" x2="693.4" y2="109.4" stroke="#1515e0" stroke-width="1.5"/>
<line x1="706.6" y1="101.4" x2="702" y2="94" stroke="#1515e0" stroke-width="1.5"/>
<line x1="706.6" y1="101.4" x2="702" y2="109.4" stroke="#1515e0" stroke-width="1.5"/>
<line x1="664.6" y1="116.8" x2="668.8" y2="109.4" stroke="#1515e0" stroke-width="1.5"/>
<line x1="664.6" y1="116.8" x2="668.8" y2="124.6" stroke="#1515e0" stroke-width="1.5"/>
<line x1="682.2" y1="116.8" x2="688.6" y2="116.8" stroke="#1515e0" stroke-width="1.5"/>
<line x1="682.2" y1="116.8" x2="677.4" y2="109.4" stroke="#1515e0" stroke-width="1.5"/>
<line x1="682.2" y1="116.8" x2="677.4" y2="124.6" stroke="#1515e0" stroke-width="1.5"/>
<line x1="688.6" y1="116.8" x2="693.4" y2="109.4" stroke="#1515e0" stroke-width="1.5"/>
<line x1="688.6" y1="116.8" x2="693.4" y2="124.6" stroke="#1515e0" stroke-width="1.5"/>
<line x1="706.6" y1="116.8" x2="702" y2="109.4" stroke="#1515e0" stroke-width="1.5"/>
<line x1="706.6" y1="116.8" x2="702" y2="124.6" stroke="#1515e0" stroke-width="1.5"/>
<line x1="664.6" y1="132.2" x2="668.8" y2="124.6" stroke="#1515e0" stroke-width="1.5"/>
<line x1="664.6" y1="132.2" x2="668.8" y2="140.2" stroke="#1515e0" stroke-width="1.5"/>
<line x1="682.2" y1="132.2" x2="688.6" y2="132.2" stroke="#1515e0" stroke-width="1.5"/>
<line x1="682.2" y1="132.2" x2="677.4" y2="124.6" stroke="#1515e0" stroke-width="1.5"/>
<line x1="682.2" y1="132.2" x2="677.4" y2="140.2" stroke="#1515e0" stroke-width="1.5"/>
<line x1="688.6" y1="132.2" x2="693.4" y2="124.6" stroke="#1515e0" stroke-width="1.5"/>
<line x1="688.6" y1="132.2" x2="693.4" y2="140.2" stroke="#1515e0" stroke-width="1.5"/>
<line x1="706.6" y1="132.2" x2="702" y2="124.6" stroke="#1515e0" stroke-width="1.5"/>
<line x1="706.6" y1="132.2" x2="702" y2="140.2" stroke="#1515e0" stroke-width="1.5"/>
<line x1="668.8" y1="63" x2="677.4" y2="63" stroke="#1515e0" stroke-width="1.5"/>
<line x1="693.4" y1="63" x2="702" y2="63" stroke="#1515e0" stroke-width="1.5"/>
<line x1="668.8" y1="78.6" x2="677.4" y2="78.6" stroke="#1515e0" stroke-width="1.5"/>
<line x1="693.4" y1="78.6" x2="702" y2="78.6" stroke="#1515e0" stroke-width="1.5"/>
<line x1="668.8" y1="94" x2="677.4" y2="94" stroke="#1515e0" stroke-width="1.5"/>
<line x1="693.4" y1="94" x2="702" y2="94" stroke="#1515e0" stroke-width="1.5"/>
<line x1="668.8" y1="109.4" x2="677.4" y2="109.4" stroke="#1515e0" stroke-width="1.5"/>
<line x1="693.4" y1="109.4" x2="702" y2="109.4" stroke="#1515e0" stroke-width="1.5"/>
<line x1="668.8" y1="124.6" x2="677.4" y2="124.6" stroke="#1515e0" stroke-width="1.5"/>
<line x1="693.4" y1="124.6" x2="702" y2="124.6" stroke="#1515e0" stroke-width="1.5"/>
<line x1="668.8" y1="140.2" x2="677.4" y2="140.2" stroke="#1515e0" stroke-width="1.5"/>
<line x1="693.4" y1="140.2" x2="702" y2="140.2" stroke="#1515e0" stroke-width="1.5"/>
<circle cx="664.6" cy="55.4" r="3.75" fill="url(#g8)"/>
<circle cx="682.2" cy="55.4" r="3.75" fill="url(#g9)"/>
<circle cx="688.6" cy="55.4" r="3.75" fill="url(#g9)"/>
<circle cx="706.6" cy="55.4" r="3.75" fill="url(#g8)"/>
<circle cx="664.6" cy="71" r="3.75" fill="url(#g9)"/>
<circle cx="682.2" cy="71" r="3.75" fill="url(#g9)"/>
<circle cx="688.6" cy="71" r="3.75" fill="url(#g8)"/>
<circle cx="706.6" cy="71" r="3.75" fill="url(#g9)"/>
<circle cx="664.6" cy="86.2" r="3.75" fill="url(#g9)"/>
<circle cx="682.2" cy="86.2" r="3.75" fill="url(#g8)"/>
<circle cx="688.6" cy="86.2" r="3.75" fill="url(#g9)"/>
<circle cx="706.6" cy="86.2" r="3.75" fill="url(#g9)"/>
<circle cx="664.6" cy="101.4" r="3.75" fill="url(#g8)"/>
<circle cx="682.2" cy="101.4" r="3.75" fill="url(#g9)"/>
<circle cx="688.6" cy="101.4" r="3.75" fill="url(#g9)"/>
<circle cx="706.6" cy="101.4" r="3.75" fill="url(#g8)"/>
<circle cx="664.6" cy="116.8" r="3.75" fill="url(#g9)"/>
<circle cx="682.2" cy="116.8" r="3.75" fill="url(#g9)"/>
<circle cx="688.6" cy="116.8" r="3.75" fill="url(#g8)"/>
<circle cx="706.6" cy="116.8" r="3.75" fill="url(#g9)"/>
<circle cx="664.6" cy="132.2" r="3.75" fill="url(#g9)"/>
<circle cx="682.2" cy="132.2" r="3.75" fill="url(#g8)"/>
<circle cx="688.6" cy="132.2" r="3.75" fill="url(#g9)"/>
<circle cx="706.6" cy="132.2" r="3.75" fill="url(#g9)"/>
<circle cx="668.8" cy="63" r="3.75" fill="url(#g8)"/>
<circle cx="677.4" cy="63" r="3.75" fill="url(#g9)"/>
<circle cx="693.4" cy="63" r="3.75" fill="url(#g9)"/>
<circle cx="702" cy="63" r="3.75" fill="url(#g8)"/>
<circle cx="668.8" cy="78.6" r="3.75" fill="url(#g9)"/>
<circle cx="677.4" cy="78.6" r="3.75" fill="url(#g9)"/>
<circle cx="693.4" cy="78.6" r="3.75" fill="url(#g8)"/>
<circle cx="702" cy="78.6" r="3.75" fill="url(#g9)"/>
<circle cx="668.8" cy="94" r="3.75" fill="url(#g9)"/>
<circle cx="677.4" cy="94" r="3.75" fill="url(#g8)"/>
<circle cx="693.4" cy="94" r="3.75" fill="url(#g9)"/>
<circle cx="702" cy="94" r="3.75" fill="url(#g9)"/>
<circle cx="668.8" cy="109.4" r="3.75" fill="url(#g8)"/>
<circle cx="677.4" cy="109.4" r="3.75" fill="url(#g9)"/>
<circle cx="693.4" cy="109.4" r="3.75" fill="url(#g9)"/>
<circle cx="702" cy="109.4" r="3.75" fill="url(#g8)"/>
<circle cx="668.8" cy="124.6" r="3.75" fill="url(#g9)"/>
<circle cx="677.4" cy="124.6" r="3.75" fill="url(#g9)"/>
<circle cx="693.4" cy="124.6" r="3.75" fill="url(#g8)"/>
<circle cx="702" cy="124.6" r="3.75" fill="url(#g9)"/>
<circle cx="668.8" cy="140.2" r="3.75" fill="url(#g9)"/>
<circle cx="677.4" cy="140.2" r="3.75" fill="url(#g8)"/>
<circle cx="693.4" cy="140.2" r="3.75" fill="url(#g9)"/>
<circle cx="702" cy="140.2" r="3.75" fill="url(#g9)"/>
<rect x="661" y="48.2" width="49.2" height="92.4" fill="none" stroke="#000" stroke-width="1.5"/>
</g>
<g id="g92">
<line x1="44.44" y1="184.2" x2="48.39" y2="191.3" stroke="#d9570f" stroke-width="1.3"/>
<line x1="58.8" y1="184.2" x2="66.36" y2="184.2" stroke="#d9570f" stroke-width="1.3"/>
<line x1="58.8" y1="184.2" x2="55.95" y2="191.3" stroke="#d9570f" stroke-width="1.3"/>
<line x1="66.36" y1="184.2" x2="70.31" y2="191.3" stroke="#d9570f" stroke-width="1.3"/>
<line x1="80.72" y1="184.2" x2="88.28" y2="184.2" stroke="#d9570f" stroke-width="1.3"/>
<line x1="80.72" y1="184.2" x2="77.87" y2="191.3" stroke="#d9570f" stroke-width="1.3"/>
<line x1="88.28" y1="184.2" x2="92.23" y2="191.3" stroke="#d9570f" stroke-width="1.3"/>
<line x1="102.64" y1="184.2" x2="110.2" y2="184.2" stroke="#d9570f" stroke-width="1.3"/>
<line x1="102.64" y1="184.2" x2="99.79" y2="191.3" stroke="#d9570f" stroke-width="1.3"/>
<line x1="48.39" y1="191.3" x2="55.95" y2="191.3" stroke="#d9570f" stroke-width="1.3"/>
<line x1="44.99" y1="195.1" x2="45.54" y2="202.2" stroke="#d9570f" stroke-width="1.3"/>
<line x1="59.35" y1="195.1" x2="66.91" y2="195.1" stroke="#d9570f" stroke-width="1.3"/>
<line x1="59.35" y1="195.1" x2="56.5" y2="202.2" stroke="#d9570f" stroke-width="1.3"/>
<line x1="70.31" y1="191.3" x2="77.87" y2="191.3" stroke="#d9570f" stroke-width="1.3"/>
<line x1="66.91" y1="195.1" x2="67.46" y2="202.2" stroke="#d9570f" stroke-width="1.3"/>
<line x1="81.27" y1="195.1" x2="88.83" y2="195.1" stroke="#d9570f" stroke-width="1.3"/>
<line x1="81.27" y1="195.1" x2="78.42" y2="202.2" stroke="#d9570f" stroke-width="1.3"/>
<line x1="92.23" y1="191.3" x2="99.79" y2="191.3" stroke="#d9570f" stroke-width="1.3"/>
<line x1="88.83" y1="195.1" x2="89.38" y2="202.2" stroke="#d9570f" stroke-width="1.3"/>
<line x1="103.19" y1="195.1" x2="110.75" y2="195.1" stroke="#d9570f" stroke-width="1.3"/>
<line x1="103.19" y1="195.1" x2="100.34" y2="202.2" stroke="#d9570f" stroke-width="1.3"/>
<line x1="110.75" y1="195.1" x2="111.3" y2="202.2" stroke="#d9570f" stroke-width="1.3"/>
<line x1="48.94" y1="206" x2="56.5" y2="202.2" stroke="#d9570f" stroke-width="1.3"/>
<line x1="48.94" y1="206" x2="49.49" y2="213.1" stroke="#d9570f" stroke-width="1.3"/>
<line x1="59.9" y1="206" x2="67.46" y2="202.2" stroke="#d9570f" stroke-width="1.3"/>
<line x1="59.9" y1="206" x2="57.05" y2="213.1" stroke="#d9570f" stroke-width="1.3"/>
<line x1="70.86" y1="206" x2="78.42" y2="202.2" stroke="#d9570f" stroke-width="1.3"/>
<line x1="70.86" y1="206" x2="71.41" y2="213.1" stroke="#d9570f" stroke-width="1.3"/>
<line x1="81.82" y1="206" x2="89.38" y2="202.2" stroke="#d9570f" stroke-width="1.3"/>
<line x1="81.82" y1="206" x2="78.97" y2="213.1" stroke="#d9570f" stroke-width="1.3"/>
<line x1="92.78" y1="206" x2="100.34" y2="202.2" stroke="#d9570f" stroke-width="1.3"/>
<line x1="92.78" y1="206" x2="93.33" y2="213.1" stroke="#d9570f" stroke-width="1.3"/>
<line x1="103.74" y1="206" x2="111.3" y2="202.2" stroke="#d9570f" stroke-width="1.3"/>
<line x1="103.74" y1="206" x2="100.89" y2="213.1" stroke="#d9570f" stroke-width="1.3"/>
<line x1="49.49" y1="213.1" x2="57.05" y2="213.1" stroke="#d9570f" stroke-width="1.3"/>
<line x1="60.45" y1="216.9" x2="68.01" y2="216.9" stroke="#d9570f" stroke-width="1.3"/>
<line x1="60.45" y1="216.9" x2="57.6" y2="224" stroke="#d9570f" stroke-width="1.3"/>
<line x1="71.41" y1="213.1" x2="78.97" y2="213.1" stroke="#d9570f" stroke-width="1.3"/>
<line x1="68.01" y1="216.9" x2="71.96" y2="224" stroke="#d9570f" stroke-width="1.3"/>
<line x1="82.37" y1="216.9" x2="89.93" y2="216.9" stroke="#d9570f" stroke-width="1.3"/>
<line x1="82.37" y1="216.9" x2="79.52" y2="224" stroke="#d9570f" stroke-width="1.3"/>
<line x1="93.33" y1="213.1" x2="100.89" y2="213.1" stroke="#d9570f" stroke-width="1.3"/>
<line x1="89.93" y1="216.9" x2="93.88" y2="224" stroke="#d9570f" stroke-width="1.3"/>
<line x1="104.29" y1="216.9" x2="111.85" y2="216.9" stroke="#d9570f" stroke-width="1.3"/>
<line x1="104.29" y1="216.9" x2="101.44" y2="224" stroke="#d9570f" stroke-width="1.3"/>
<line x1="111.85" y1="216.9" x2="115.8" y2="224" stroke="#d9570f" stroke-width="1.3"/>
<line x1="50.04" y1="224" x2="57.6" y2="224" stroke="#d9570f" stroke-width="1.3"/>
<line x1="61" y1="227.8" x2="68.56" y2="227.8" stroke="#d9570f" stroke-width="1.3"/>
<line x1="61" y1="227.8" x2="58.15" y2="234.9" stroke="#d9570f" stroke-width="1.3"/>
<line x1="71.96" y1="224" x2="79.52" y2="224" stroke="#d9570f" stroke-width="1.3"/>
<line x1="68.56" y1="227.8" x2="69.11" y2="234.9" stroke="#d9570f" stroke-width="1.3"/>
<line x1="82.92" y1="227.8" x2="90.48" y2="227.8" stroke="#d9570f" stroke-width="1.3"/>
<line x1="82.92" y1="227.8" x2="80.07" y2="234.9" stroke="#d9570f" stroke-width="1.3"/>
<line x1="93.88" y1="224" x2="101.44" y2="224" stroke="#d9570f" stroke-width="1.3"/>
<line x1="90.48" y1="227.8" x2="91.03" y2="234.9" stroke="#d9570f" stroke-width="1.3"/>
<line x1="104.84" y1="227.8" x2="112.4" y2="227.8" stroke="#d9570f" stroke-width="1.3"/>
<line x1="104.84" y1="227.8" x2="101.99" y2="234.9" stroke="#d9570f" stroke-width="1.3"/>
<line x1="112.4" y1="227.8" x2="112.95" y2="234.9" stroke="#d9570f" stroke-width="1.3"/>
<line x1="50.59" y1="238.7" x2="58.15" y2="234.9" stroke="#d9570f" stroke-width="1.3"/>
<line x1="50.59" y1="238.7" x2="51.14" y2="245.8" stroke="#d9570f" stroke-width="1.3"/>
<line x1="61.55" y1="238.7" x2="69.11" y2="234.9" stroke="#d9570f" stroke-width="1.3"/>
<line x1="61.55" y1="238.7" x2="58.7" y2="245.8" stroke="#d9570f" stroke-width="1.3"/>
<line x1="72.51" y1="238.7" x2="80.07" y2="234.9" stroke="#d9570f" stroke-width="1.3"/>
<line x1="72.51" y1="238.7" x2="73.06" y2="245.8" stroke="#d9570f" stroke-width="1.3"/>
<line x1="83.47" y1="238.7" x2="91.03" y2="234.9" stroke="#d9570f" stroke-width="1.3"/>
<line x1="83.47" y1="238.7" x2="80.62" y2="245.8" stroke="#d9570f" stroke-width="1.3"/>
<line x1="94.43" y1="238.7" x2="101.99" y2="234.9" stroke="#d9570f" stroke-width="1.3"/>
<line x1="94.43" y1="238.7" x2="94.98" y2="245.8" stroke="#d9570f" stroke-width="1.3"/>
<line x1="105.39" y1="238.7" x2="112.95" y2="234.9" stroke="#d9570f" stroke-width="1.3"/>
<line x1="105.39" y1="238.7" x2="102.54" y2="245.8" stroke="#d9570f" stroke-width="1.3"/>
<line x1="116.35" y1="238.7" x2="116.9" y2="245.8" stroke="#d9570f" stroke-width="1.3"/>
<line x1="51.14" y1="245.8" x2="58.7" y2="245.8" stroke="#d9570f" stroke-width="1.3"/>
<line x1="62.1" y1="249.6" x2="69.66" y2="249.6" stroke="#d9570f" stroke-width="1.3"/>
<line x1="62.1" y1="249.6" x2="59.25" y2="256.7" stroke="#d9570f" stroke-width="1.3"/>
<line x1="73.06" y1="245.8" x2="80.62" y2="245.8" stroke="#d9570f" stroke-width="1.3"/>
<line x1="69.66" y1="249.6" x2="73.61" y2="256.7" stroke="#d9570f" stroke-width="1.3"/>
<line x1="84.02" y1="249.6" x2="91.58" y2="249.6" stroke="#d9570f" stroke-width="1.3"/>
<line x1="84.02" y1="249.6" x2="81.17" y2="256.7" stroke="#d9570f" stroke-width="1.3"/>
<line x1="94.98" y1="245.8" x2="102.54" y2="245.8" stroke="#d9570f" stroke-width="1.3"/>
<line x1="91.58" y1="249.6" x2="95.53" y2="256.7" stroke="#d9570f" stroke-width="1.3"/>
<line x1="105.94" y1="249.6" x2="113.5" y2="249.6" stroke="#d9570f" stroke-width="1.3"/>
<line x1="105.94" y1="249.6" x2="103.09" y2="256.7" stroke="#d9570f" stroke-width="1.3"/>
<line x1="113.5" y1="249.6" x2="117.45" y2="256.7" stroke="#d9570f" stroke-width="1.3"/>
<line x1="51.69" y1="256.7" x2="59.25" y2="256.7" stroke="#d9570f" stroke-width="1.3"/>
<line x1="62.65" y1="260.5" x2="70.21" y2="260.5" stroke="#d9570f" stroke-width="1.3"/>
<line x1="62.65" y1="260.5" x2="59.8" y2="267.6" stroke="#d9570f" stroke-width="1.3"/>
<line x1="73.61" y1="256.7" x2="81.17" y2="256.7" stroke="#d9570f" stroke-width="1.3"/>
<line x1="70.21" y1="260.5" x2="70.76" y2="267.6" stroke="#d9570f" stroke-width="1.3"/>
<line x1="84.57" y1="260.5" x2="92.13" y2="260.5" stroke="#d9570f" stroke-width="1.3"/>
<line x1="84.57" y1="260.5" x2="81.72" y2="267.6" stroke="#d9570f" stroke-width="1.3"/>
<line x1="95.53" y1="256.7" x2="103.09" y2="256.7" stroke="#d9570f" stroke-width="1.3"/>
<line x1="92.13" y1="260.5" x2="92.68" y2="267.6" stroke="#d9570f" stroke-width="1.3"/>
<line x1="106.49" y1="260.5" x2="114.05" y2="260.5" stroke="#d9570f" stroke-width="1.3"/>
<line x1="106.49" y1="260.5" x2="103.64" y2="267.6" stroke="#d9570f" stroke-width="1.3"/>
<line x1="114.05" y1="260.5" x2="114.6" y2="267.6" stroke="#d9570f" stroke-width="1.3"/>
<line x1="52.24" y1="271.4" x2="59.8" y2="267.6" stroke="#d9570f" stroke-width="1.3"/>
<line x1="63.2" y1="271.4" x2="70.76" y2="267.6" stroke="#d9570f" stroke-width="1.3"/>
<line x1="74.16" y1="271.4" x2="81.72" y2="267.6" stroke="#d9570f" stroke-width="1.3"/>
<line x1="85.12" y1="271.4" x2="92.68" y2="267.6" stroke="#d9570f" stroke-width="1.3"/>
<line x1="96.08" y1="271.4" x2="103.64" y2="267.6" stroke="#d9570f" stroke-width="1.3"/>
<line x1="107.04" y1="271.4" x2="114.6" y2="267.6" stroke="#d9570f" stroke-width="1.3"/>
<circle cx="44.44" cy="184.2" r="2.9" fill="url(#g10)"/>
<circle cx="58.8" cy="184.2" r="2.9" fill="url(#g10)"/>
<circle cx="66.36" cy="184.2" r="2.9" fill="url(#g10)"/>
<circle cx="80.72" cy="184.2" r="2.9" fill="url(#g10)"/>
<circle cx="88.28" cy="184.2" r="2.9" fill="url(#g10)"/>
<circle cx="102.64" cy="184.2" r="2.9" fill="url(#g10)"/>
<circle cx="110.2" cy="184.2" r="2.9" fill="url(#g10)"/>
<circle cx="48.39" cy="191.3" r="2.9" fill="url(#g10)"/>
<circle cx="44.99" cy="195.1" r="2.9" fill="url(#g10)"/>
<circle cx="55.95" cy="191.3" r="2.9" fill="url(#g10)"/>
<circle cx="59.35" cy="195.1" r="2.9" fill="url(#g10)"/>
<circle cx="70.31" cy="191.3" r="2.9" fill="url(#g10)"/>
<circle cx="66.91" cy="195.1" r="2.9" fill="url(#g10)"/>
<circle cx="77.87" cy="191.3" r="2.9" fill="url(#g10)"/>
<circle cx="81.27" cy="195.1" r="2.9" fill="url(#g10)"/>
<circle cx="92.23" cy="191.3" r="2.9" fill="url(#g10)"/>
<circle cx="88.83" cy="195.1" r="2.9" fill="url(#g10)"/>
<circle cx="99.79" cy="191.3" r="2.9" fill="url(#g10)"/>
<circle cx="103.19" cy="195.1" r="2.9" fill="url(#g10)"/>
<circle cx="110.75" cy="195.1" r="2.9" fill="url(#g10)"/>
<circle cx="45.54" cy="202.2" r="2.9" fill="url(#g11)"/>
<circle cx="48.94" cy="206" r="2.9" fill="url(#g10)"/>
<circle cx="56.5" cy="202.2" r="2.9" fill="url(#g11)"/>
<circle cx="59.9" cy="206" r="2.9" fill="url(#g10)"/>
<circle cx="67.46" cy="202.2" r="2.9" fill="url(#g11)"/>
<circle cx="70.86" cy="206" r="2.9" fill="url(#g10)"/>
<circle cx="78.42" cy="202.2" r="2.9" fill="url(#g11)"/>
<circle cx="81.82" cy="206" r="2.9" fill="url(#g10)"/>
<circle cx="89.38" cy="202.2" r="2.9" fill="url(#g11)"/>
<circle cx="92.78" cy="206" r="2.9" fill="url(#g10)"/>
<circle cx="100.34" cy="202.2" r="2.9" fill="url(#g11)"/>
<circle cx="103.74" cy="206" r="2.9" fill="url(#g10)"/>
<circle cx="111.3" cy="202.2" r="2.9" fill="url(#g11)"/>
<circle cx="49.49" cy="213.1" r="2.9" fill="url(#g10)"/>
<circle cx="57.05" cy="213.1" r="2.9" fill="url(#g10)"/>
<circle cx="60.45" cy="216.9" r="2.9" fill="url(#g10)"/>
<circle cx="71.41" cy="213.1" r="2.9" fill="url(#g10)"/>
<circle cx="68.01" cy="216.9" r="2.9" fill="url(#g10)"/>
<circle cx="78.97" cy="213.1" r="2.9" fill="url(#g10)"/>
<circle cx="82.37" cy="216.9" r="2.9" fill="url(#g10)"/>
<circle cx="93.33" cy="213.1" r="2.9" fill="url(#g10)"/>
<circle cx="89.93" cy="216.9" r="2.9" fill="url(#g10)"/>
<circle cx="100.89" cy="213.1" r="2.9" fill="url(#g10)"/>
<circle cx="104.29" cy="216.9" r="2.9" fill="url(#g10)"/>
<circle cx="111.85" cy="216.9" r="2.9" fill="url(#g10)"/>
<circle cx="50.04" cy="224" r="2.9" fill="url(#g10)"/>
<circle cx="57.6" cy="224" r="2.9" fill="url(#g10)"/>
<circle cx="61" cy="227.8" r="2.9" fill="url(#g10)"/>
<circle cx="71.96" cy="224" r="2.9" fill="url(#g10)"/>
<circle cx="68.56" cy="227.8" r="2.9" fill="url(#g10)"/>
<circle cx="79.52" cy="224" r="2.9" fill="url(#g10)"/>
<circle cx="82.92" cy="227.8" r="2.9" fill="url(#g10)"/>
<circle cx="93.88" cy="224" r="2.9" fill="url(#g10)"/>
<circle cx="90.48" cy="227.8" r="2.9" fill="url(#g10)"/>
<circle cx="101.44" cy="224" r="2.9" fill="url(#g10)"/>
<circle cx="104.84" cy="227.8" r="2.9" fill="url(#g10)"/>
<circle cx="115.8" cy="224" r="2.9" fill="url(#g10)"/>
<circle cx="112.4" cy="227.8" r="2.9" fill="url(#g10)"/>
<circle cx="50.59" cy="238.7" r="2.9" fill="url(#g10)"/>
<circle cx="58.15" cy="234.9" r="2.9" fill="url(#g11)"/>
<circle cx="61.55" cy="238.7" r="2.9" fill="url(#g10)"/>
<circle cx="69.11" cy="234.9" r="2.9" fill="url(#g11)"/>
<circle cx="72.51" cy="238.7" r="2.9" fill="url(#g10)"/>
<circle cx="80.07" cy="234.9" r="2.9" fill="url(#g11)"/>
<circle cx="83.47" cy="238.7" r="2.9" fill="url(#g10)"/>
<circle cx="91.03" cy="234.9" r="2.9" fill="url(#g11)"/>
<circle cx="94.43" cy="238.7" r="2.9" fill="url(#g10)"/>
<circle cx="101.99" cy="234.9" r="2.9" fill="url(#g11)"/>
<circle cx="105.39" cy="238.7" r="2.9" fill="url(#g10)"/>
<circle cx="112.95" cy="234.9" r="2.9" fill="url(#g11)"/>
<circle cx="116.35" cy="238.7" r="2.9" fill="url(#g10)"/>
<circle cx="51.14" cy="245.8" r="2.9" fill="url(#g10)"/>
<circle cx="58.7" cy="245.8" r="2.9" fill="url(#g10)"/>
<circle cx="62.1" cy="249.6" r="2.9" fill="url(#g10)"/>
<circle cx="73.06" cy="245.8" r="2.9" fill="url(#g10)"/>
<circle cx="69.66" cy="249.6" r="2.9" fill="url(#g10)"/>
<circle cx="80.62" cy="245.8" r="2.9" fill="url(#g10)"/>
<circle cx="84.02" cy="249.6" r="2.9" fill="url(#g10)"/>
<circle cx="94.98" cy="245.8" r="2.9" fill="url(#g10)"/>
<circle cx="91.58" cy="249.6" r="2.9" fill="url(#g10)"/>
<circle cx="102.54" cy="245.8" r="2.9" fill="url(#g10)"/>
<circle cx="105.94" cy="249.6" r="2.9" fill="url(#g10)"/>
<circle cx="116.9" cy="245.8" r="2.9" fill="url(#g10)"/>
<circle cx="113.5" cy="249.6" r="2.9" fill="url(#g10)"/>
<circle cx="51.69" cy="256.7" r="2.9" fill="url(#g10)"/>
<circle cx="59.25" cy="256.7" r="2.9" fill="url(#g10)"/>
<circle cx="62.65" cy="260.5" r="2.9" fill="url(#g10)"/>
<circle cx="73.61" cy="256.7" r="2.9" fill="url(#g10)"/>
<circle cx="70.21" cy="260.5" r="2.9" fill="url(#g10)"/>
<circle cx="81.17" cy="256.7" r="2.9" fill="url(#g10)"/>
<circle cx="84.57" cy="260.5" r="2.9" fill="url(#g10)"/>
<circle cx="95.53" cy="256.7" r="2.9" fill="url(#g10)"/>
<circle cx="92.13" cy="260.5" r="2.9" fill="url(#g10)"/>
<circle cx="103.09" cy="256.7" r="2.9" fill="url(#g10)"/>
<circle cx="106.49" cy="260.5" r="2.9" fill="url(#g10)"/>
<circle cx="117.45" cy="256.7" r="2.9" fill="url(#g10)"/>
<circle cx="114.05" cy="260.5" r="2.9" fill="url(#g10)"/>
<circle cx="52.24" cy="271.4" r="2.9" fill="url(#g10)"/>
<circle cx="59.8" cy="267.6" r="2.9" fill="url(#g11)"/>
<circle cx="63.2" cy="271.4" r="2.9" fill="url(#g10)"/>
<circle cx="70.76" cy="267.6" r="2.9" fill="url(#g11)"/>
<circle cx="74.16" cy="271.4" r="2.9" fill="url(#g10)"/>
<circle cx="81.72" cy="267.6" r="2.9" fill="url(#g11)"/>
<circle cx="85.12" cy="271.4" r="2.9" fill="url(#g10)"/>
<circle cx="92.68" cy="267.6" r="2.9" fill="url(#g11)"/>
<circle cx="96.08" cy="271.4" r="2.9" fill="url(#g10)"/>
<circle cx="103.64" cy="267.6" r="2.9" fill="url(#g11)"/>
<circle cx="107.04" cy="271.4" r="2.9" fill="url(#g10)"/>
<circle cx="114.6" cy="267.6" r="2.9" fill="url(#g11)"/>
<circle cx="118" cy="271.4" r="2.9" fill="url(#g10)"/>
<polygon points="44.6,181.7 111,181.7 118.7,270.7 52.3,270.7" fill="none" stroke="#000" stroke-width="1.5"/>
</g>
<g id="w-carbon">
<clipPath id="cw"><rect x="164.9" y="183.9" width="42.3" height="86.9"/></clipPath>
<g clip-path="url(#cw)">
<line x1="166.84" y1="186" x2="171.14" y2="186" stroke="#1a8584" stroke-width="0.6"/>
<line x1="166.84" y1="186" x2="165.95" y2="190.6" stroke="#1a8584" stroke-width="0.6"/>
<line x1="173.34" y1="183.6" x2="177.54" y2="183.8" stroke="#1a8584" stroke-width="0.6"/>
<line x1="179.74" y1="186" x2="184.04" y2="186" stroke="#1a8584" stroke-width="0.6"/>
<line x1="179.74" y1="186" x2="178.85" y2="190.6" stroke="#1a8584" stroke-width="0.6"/>
<line x1="186.24" y1="183.6" x2="190.44" y2="183.8" stroke="#1a8584" stroke-width="0.6"/>
<line x1="192.64" y1="186" x2="196.94" y2="186" stroke="#1a8584" stroke-width="0.6"/>
<line x1="192.64" y1="186" x2="191.75" y2="190.6" stroke="#1a8584" stroke-width="0.6"/>
<line x1="199.14" y1="183.6" x2="203.34" y2="183.8" stroke="#1a8584" stroke-width="0.6"/>
<line x1="205.54" y1="186" x2="204.65" y2="190.6" stroke="#1a8584" stroke-width="0.6"/>
<line x1="165.95" y1="190.6" x2="169.1" y2="193.9" stroke="#1a8584" stroke-width="0.6"/>
<line x1="168.6" y1="200.4" x2="172.9" y2="200.4" stroke="#1a8584" stroke-width="0.6"/>
<line x1="175.55" y1="190.6" x2="172.4" y2="193.9" stroke="#1a8584" stroke-width="0.6"/>
<line x1="178.85" y1="190.6" x2="182" y2="193.9" stroke="#1a8584" stroke-width="0.6"/>
<line x1="172.4" y1="193.9" x2="175.1" y2="198" stroke="#1a8584" stroke-width="0.6"/>
<line x1="172.9" y1="200.4" x2="173.79" y2="204.1" stroke="#1a8584" stroke-width="0.6"/>
<line x1="175.1" y1="198" x2="179.3" y2="198.2" stroke="#1a8584" stroke-width="0.6"/>
<line x1="181.5" y1="200.4" x2="185.8" y2="200.4" stroke="#1a8584" stroke-width="0.6"/>
<line x1="188.45" y1="190.6" x2="185.3" y2="193.9" stroke="#1a8584" stroke-width="0.6"/>
<line x1="191.75" y1="190.6" x2="194.9" y2="193.9" stroke="#1a8584" stroke-width="0.6"/>
<line x1="185.3" y1="193.9" x2="188" y2="198" stroke="#1a8584" stroke-width="0.6"/>
<line x1="185.8" y1="200.4" x2="186.69" y2="204.1" stroke="#1a8584" stroke-width="0.6"/>
<line x1="188" y1="198" x2="192.2" y2="198.2" stroke="#1a8584" stroke-width="0.6"/>
<line x1="194.4" y1="200.4" x2="198.7" y2="200.4" stroke="#1a8584" stroke-width="0.6"/>
<line x1="201.35" y1="190.6" x2="198.2" y2="193.9" stroke="#1a8584" stroke-width="0.6"/>
<line x1="204.65" y1="190.6" x2="207.8" y2="193.9" stroke="#1a8584" stroke-width="0.6"/>
<line x1="198.2" y1="193.9" x2="200.9" y2="198" stroke="#1a8584" stroke-width="0.6"/>
<line x1="198.7" y1="200.4" x2="199.59" y2="204.1" stroke="#1a8584" stroke-width="0.6"/>
<line x1="200.9" y1="198" x2="205.1" y2="198.2" stroke="#1a8584" stroke-width="0.6"/>
<line x1="164.19" y1="204.1" x2="167.34" y2="207.4" stroke="#1a8584" stroke-width="0.6"/>
<line x1="166.84" y1="213.9" x2="171.14" y2="213.9" stroke="#1a8584" stroke-width="0.6"/>
<line x1="166.84" y1="213.9" x2="165.95" y2="218.5" stroke="#1a8584" stroke-width="0.6"/>
<line x1="173.79" y1="204.1" x2="170.64" y2="207.4" stroke="#1a8584" stroke-width="0.6"/>
<line x1="177.09" y1="204.1" x2="180.24" y2="207.4" stroke="#1a8584" stroke-width="0.6"/>
<line x1="170.64" y1="207.4" x2="173.34" y2="211.5" stroke="#1a8584" stroke-width="0.6"/>
<line x1="173.34" y1="211.5" x2="177.54" y2="211.7" stroke="#1a8584" stroke-width="0.6"/>
<line x1="179.74" y1="213.9" x2="184.04" y2="213.9" stroke="#1a8584" stroke-width="0.6"/>
<line x1="179.74" y1="213.9" x2="178.85" y2="218.5" stroke="#1a8584" stroke-width="0.6"/>
<line x1="186.69" y1="204.1" x2="183.54" y2="207.4" stroke="#1a8584" stroke-width="0.6"/>
<line x1="189.99" y1="204.1" x2="193.14" y2="207.4" stroke="#1a8584" stroke-width="0.6"/>
<line x1="183.54" y1="207.4" x2="186.24" y2="211.5" stroke="#1a8584" stroke-width="0.6"/>
<line x1="186.24" y1="211.5" x2="190.44" y2="211.7" stroke="#1a8584" stroke-width="0.6"/>
<line x1="192.64" y1="213.9" x2="196.94" y2="213.9" stroke="#1a8584" stroke-width="0.6"/>
<line x1="192.64" y1="213.9" x2="191.75" y2="218.5" stroke="#1a8584" stroke-width="0.6"/>
<line x1="199.59" y1="204.1" x2="196.44" y2="207.4" stroke="#1a8584" stroke-width="0.6"/>
<line x1="202.89" y1="204.1" x2="206.04" y2="207.4" stroke="#1a8584" stroke-width="0.6"/>
<line x1="196.44" y1="207.4" x2="199.14" y2="211.5" stroke="#1a8584" stroke-width="0.6"/>
<line x1="199.14" y1="211.5" x2="203.34" y2="211.7" stroke="#1a8584" stroke-width="0.6"/>
<line x1="205.54" y1="213.9" x2="204.65" y2="218.5" stroke="#1a8584" stroke-width="0.6"/>
<line x1="165.95" y1="218.5" x2="169.1" y2="221.8" stroke="#1a8584" stroke-width="0.6"/>
<line x1="168.6" y1="228.3" x2="172.9" y2="228.3" stroke="#1a8584" stroke-width="0.6"/>
<line x1="175.55" y1="218.5" x2="172.4" y2="221.8" stroke="#1a8584" stroke-width="0.6"/>
<line x1="178.85" y1="218.5" x2="182" y2="221.8" stroke="#1a8584" stroke-width="0.6"/>
<line x1="172.4" y1="221.8" x2="175.1" y2="225.9" stroke="#1a8584" stroke-width="0.6"/>
<line x1="172.9" y1="228.3" x2="173.79" y2="232" stroke="#1a8584" stroke-width="0.6"/>
<line x1="175.1" y1="225.9" x2="179.3" y2="226.1" stroke="#1a8584" stroke-width="0.6"/>
<line x1="181.5" y1="228.3" x2="185.8" y2="228.3" stroke="#1a8584" stroke-width="0.6"/>
<line x1="188.45" y1="218.5" x2="185.3" y2="221.8" stroke="#1a8584" stroke-width="0.6"/>
<line x1="191.75" y1="218.5" x2="194.9" y2="221.8" stroke="#1a8584" stroke-width="0.6"/>
<line x1="185.3" y1="221.8" x2="188" y2="225.9" stroke="#1a8584" stroke-width="0.6"/>
<line x1="185.8" y1="228.3" x2="186.69" y2="232" stroke="#1a8584" stroke-width="0.6"/>
<line x1="188" y1="225.9" x2="192.2" y2="226.1" stroke="#1a8584" stroke-width="0.6"/>
<line x1="194.4" y1="228.3" x2="198.7" y2="228.3" stroke="#1a8584" stroke-width="0.6"/>
<line x1="201.35" y1="218.5" x2="198.2" y2="221.8" stroke="#1a8584" stroke-width="0.6"/>
<line x1="204.65" y1="218.5" x2="207.8" y2="221.8" stroke="#1a8584" stroke-width="0.6"/>
<line x1="198.2" y1="221.8" x2="200.9" y2="225.9" stroke="#1a8584" stroke-width="0.6"/>
<line x1="198.7" y1="228.3" x2="199.59" y2="232" stroke="#1a8584" stroke-width="0.6"/>
<line x1="200.9" y1="225.9" x2="205.1" y2="226.1" stroke="#1a8584" stroke-width="0.6"/>
<line x1="164.19" y1="232" x2="167.34" y2="235.3" stroke="#1a8584" stroke-width="0.6"/>
<line x1="166.84" y1="241.8" x2="171.14" y2="241.8" stroke="#1a8584" stroke-width="0.6"/>
<line x1="166.84" y1="241.8" x2="165.95" y2="246.4" stroke="#1a8584" stroke-width="0.6"/>
<line x1="173.79" y1="232" x2="170.64" y2="235.3" stroke="#1a8584" stroke-width="0.6"/>
<line x1="177.09" y1="232" x2="180.24" y2="235.3" stroke="#1a8584" stroke-width="0.6"/>
<line x1="170.64" y1="235.3" x2="173.34" y2="239.4" stroke="#1a8584" stroke-width="0.6"/>
<line x1="173.34" y1="239.4" x2="177.54" y2="239.6" stroke="#1a8584" stroke-width="0.6"/>
<line x1="179.74" y1="241.8" x2="184.04" y2="241.8" stroke="#1a8584" stroke-width="0.6"/>
<line x1="179.74" y1="241.8" x2="178.85" y2="246.4" stroke="#1a8584" stroke-width="0.6"/>
<line x1="186.69" y1="232" x2="183.54" y2="235.3" stroke="#1a8584" stroke-width="0.6"/>
<line x1="189.99" y1="232" x2="193.14" y2="235.3" stroke="#1a8584" stroke-width="0.6"/>
<line x1="183.54" y1="235.3" x2="186.24" y2="239.4" stroke="#1a8584" stroke-width="0.6"/>
<line x1="186.24" y1="239.4" x2="190.44" y2="239.6" stroke="#1a8584" stroke-width="0.6"/>
<line x1="192.64" y1="241.8" x2="196.94" y2="241.8" stroke="#1a8584" stroke-width="0.6"/>
<line x1="192.64" y1="241.8" x2="191.75" y2="246.4" stroke="#1a8584" stroke-width="0.6"/>
<line x1="199.59" y1="232" x2="196.44" y2="235.3" stroke="#1a8584" stroke-width="0.6"/>
<line x1="202.89" y1="232" x2="206.04" y2="235.3" stroke="#1a8584" stroke-width="0.6"/>
<line x1="196.44" y1="235.3" x2="199.14" y2="239.4" stroke="#1a8584" stroke-width="0.6"/>
<line x1="199.14" y1="239.4" x2="203.34" y2="239.6" stroke="#1a8584" stroke-width="0.6"/>
<line x1="205.54" y1="241.8" x2="204.65" y2="246.4" stroke="#1a8584" stroke-width="0.6"/>
<line x1="165.95" y1="246.4" x2="169.1" y2="249.7" stroke="#1a8584" stroke-width="0.6"/>
<line x1="168.6" y1="256.2" x2="172.9" y2="256.2" stroke="#1a8584" stroke-width="0.6"/>
<line x1="175.55" y1="246.4" x2="172.4" y2="249.7" stroke="#1a8584" stroke-width="0.6"/>
<line x1="178.85" y1="246.4" x2="182" y2="249.7" stroke="#1a8584" stroke-width="0.6"/>
<line x1="172.4" y1="249.7" x2="175.1" y2="253.8" stroke="#1a8584" stroke-width="0.6"/>
<line x1="172.9" y1="256.2" x2="173.79" y2="259.9" stroke="#1a8584" stroke-width="0.6"/>
<line x1="175.1" y1="253.8" x2="179.3" y2="254" stroke="#1a8584" stroke-width="0.6"/>
<line x1="181.5" y1="256.2" x2="185.8" y2="256.2" stroke="#1a8584" stroke-width="0.6"/>
<line x1="188.45" y1="246.4" x2="185.3" y2="249.7" stroke="#1a8584" stroke-width="0.6"/>
<line x1="191.75" y1="246.4" x2="194.9" y2="249.7" stroke="#1a8584" stroke-width="0.6"/>
<line x1="185.3" y1="249.7" x2="188" y2="253.8" stroke="#1a8584" stroke-width="0.6"/>
<line x1="185.8" y1="256.2" x2="186.69" y2="259.9" stroke="#1a8584" stroke-width="0.6"/>
<line x1="188" y1="253.8" x2="192.2" y2="254" stroke="#1a8584" stroke-width="0.6"/>
<line x1="194.4" y1="256.2" x2="198.7" y2="256.2" stroke="#1a8584" stroke-width="0.6"/>
<line x1="201.35" y1="246.4" x2="198.2" y2="249.7" stroke="#1a8584" stroke-width="0.6"/>
<line x1="204.65" y1="246.4" x2="207.8" y2="249.7" stroke="#1a8584" stroke-width="0.6"/>
<line x1="198.2" y1="249.7" x2="200.9" y2="253.8" stroke="#1a8584" stroke-width="0.6"/>
<line x1="198.7" y1="256.2" x2="199.59" y2="259.9" stroke="#1a8584" stroke-width="0.6"/>
<line x1="200.9" y1="253.8" x2="205.1" y2="254" stroke="#1a8584" stroke-width="0.6"/>
<line x1="164.19" y1="259.9" x2="167.34" y2="263.2" stroke="#1a8584" stroke-width="0.6"/>
<line x1="166.84" y1="269.7" x2="171.14" y2="269.7" stroke="#1a8584" stroke-width="0.6"/>
<line x1="173.79" y1="259.9" x2="170.64" y2="263.2" stroke="#1a8584" stroke-width="0.6"/>
<line x1="177.09" y1="259.9" x2="180.24" y2="263.2" stroke="#1a8584" stroke-width="0.6"/>
<line x1="170.64" y1="263.2" x2="173.34" y2="267.3" stroke="#1a8584" stroke-width="0.6"/>
<line x1="173.34" y1="267.3" x2="177.54" y2="267.5" stroke="#1a8584" stroke-width="0.6"/>
<line x1="179.74" y1="269.7" x2="184.04" y2="269.7" stroke="#1a8584" stroke-width="0.6"/>
<line x1="186.69" y1="259.9" x2="183.54" y2="263.2" stroke="#1a8584" stroke-width="0.6"/>
<line x1="189.99" y1="259.9" x2="193.14" y2="263.2" stroke="#1a8584" stroke-width="0.6"/>
<line x1="183.54" y1="263.2" x2="186.24" y2="267.3" stroke="#1a8584" stroke-width="0.6"/>
<line x1="186.24" y1="267.3" x2="190.44" y2="267.5" stroke="#1a8584" stroke-width="0.6"/>
<line x1="192.64" y1="269.7" x2="196.94" y2="269.7" stroke="#1a8584" stroke-width="0.6"/>
<line x1="199.59" y1="259.9" x2="196.44" y2="263.2" stroke="#1a8584" stroke-width="0.6"/>
<line x1="202.89" y1="259.9" x2="206.04" y2="263.2" stroke="#1a8584" stroke-width="0.6"/>
<line x1="196.44" y1="263.2" x2="199.14" y2="267.3" stroke="#1a8584" stroke-width="0.6"/>
<line x1="199.14" y1="267.3" x2="203.34" y2="267.5" stroke="#1a8584" stroke-width="0.6"/>
<circle cx="164.64" cy="183.8" r="1.55" fill="url(#g12)"/>
<circle cx="166.84" cy="186" r="1.55" fill="url(#g13)"/>
<circle cx="171.14" cy="186" r="1.55" fill="url(#g13)"/>
<circle cx="173.34" cy="183.6" r="1.55" fill="url(#g12)"/>
<circle cx="177.54" cy="183.8" r="1.55" fill="url(#g12)"/>
<circle cx="179.74" cy="186" r="1.55" fill="url(#g13)"/>
<circle cx="184.04" cy="186" r="1.55" fill="url(#g13)"/>
<circle cx="186.24" cy="183.6" r="1.55" fill="url(#g12)"/>
<circle cx="190.44" cy="183.8" r="1.55" fill="url(#g12)"/>
<circle cx="192.64" cy="186" r="1.55" fill="url(#g13)"/>
<circle cx="196.94" cy="186" r="1.55" fill="url(#g13)"/>
<circle cx="199.14" cy="183.6" r="1.55" fill="url(#g12)"/>
<circle cx="203.34" cy="183.8" r="1.55" fill="url(#g12)"/>
<circle cx="205.54" cy="186" r="1.55" fill="url(#g13)"/>
<circle cx="165.95" cy="190.6" r="1.55" fill="url(#g12)"/>
<circle cx="166.4" cy="198.2" r="1.55" fill="url(#g12)"/>
<circle cx="168.6" cy="200.4" r="1.55" fill="url(#g13)"/>
<circle cx="175.55" cy="190.6" r="1.55" fill="url(#g13)"/>
<circle cx="178.85" cy="190.6" r="1.55" fill="url(#g12)"/>
<circle cx="169.1" cy="193.9" r="1.55" fill="url(#g12)"/>
<circle cx="172.4" cy="193.9" r="1.55" fill="url(#g13)"/>
<circle cx="172.9" cy="200.4" r="1.55" fill="url(#g13)"/>
<circle cx="175.1" cy="198" r="1.55" fill="url(#g12)"/>
<circle cx="179.3" cy="198.2" r="1.55" fill="url(#g12)"/>
<circle cx="181.5" cy="200.4" r="1.55" fill="url(#g13)"/>
<circle cx="188.45" cy="190.6" r="1.55" fill="url(#g13)"/>
<circle cx="191.75" cy="190.6" r="1.55" fill="url(#g12)"/>
<circle cx="182" cy="193.9" r="1.55" fill="url(#g12)"/>
<circle cx="185.3" cy="193.9" r="1.55" fill="url(#g13)"/>
<circle cx="185.8" cy="200.4" r="1.55" fill="url(#g13)"/>
<circle cx="188" cy="198" r="1.55" fill="url(#g12)"/>
<circle cx="192.2" cy="198.2" r="1.55" fill="url(#g12)"/>
<circle cx="194.4" cy="200.4" r="1.55" fill="url(#g13)"/>
<circle cx="201.35" cy="190.6" r="1.55" fill="url(#g13)"/>
<circle cx="204.65" cy="190.6" r="1.55" fill="url(#g12)"/>
<circle cx="194.9" cy="193.9" r="1.55" fill="url(#g12)"/>
<circle cx="198.2" cy="193.9" r="1.55" fill="url(#g13)"/>
<circle cx="198.7" cy="200.4" r="1.55" fill="url(#g13)"/>
<circle cx="200.9" cy="198" r="1.55" fill="url(#g12)"/>
<circle cx="205.1" cy="198.2" r="1.55" fill="url(#g12)"/>
<circle cx="207.3" cy="200.4" r="1.55" fill="url(#g13)"/>
<circle cx="207.8" cy="193.9" r="1.55" fill="url(#g12)"/>
<circle cx="164.19" cy="204.1" r="1.55" fill="url(#g12)"/>
<circle cx="164.64" cy="211.7" r="1.55" fill="url(#g12)"/>
<circle cx="166.84" cy="213.9" r="1.55" fill="url(#g13)"/>
<circle cx="173.79" cy="204.1" r="1.55" fill="url(#g13)"/>
<circle cx="177.09" cy="204.1" r="1.55" fill="url(#g12)"/>
<circle cx="167.34" cy="207.4" r="1.55" fill="url(#g12)"/>
<circle cx="170.64" cy="207.4" r="1.55" fill="url(#g13)"/>
<circle cx="171.14" cy="213.9" r="1.55" fill="url(#g13)"/>
<circle cx="173.34" cy="211.5" r="1.55" fill="url(#g12)"/>
<circle cx="177.54" cy="211.7" r="1.55" fill="url(#g12)"/>
<circle cx="179.74" cy="213.9" r="1.55" fill="url(#g13)"/>
<circle cx="186.69" cy="204.1" r="1.55" fill="url(#g13)"/>
<circle cx="189.99" cy="204.1" r="1.55" fill="url(#g12)"/>
<circle cx="180.24" cy="207.4" r="1.55" fill="url(#g12)"/>
<circle cx="183.54" cy="207.4" r="1.55" fill="url(#g13)"/>
<circle cx="184.04" cy="213.9" r="1.55" fill="url(#g13)"/>
<circle cx="186.24" cy="211.5" r="1.55" fill="url(#g12)"/>
<circle cx="190.44" cy="211.7" r="1.55" fill="url(#g12)"/>
<circle cx="192.64" cy="213.9" r="1.55" fill="url(#g13)"/>
<circle cx="199.59" cy="204.1" r="1.55" fill="url(#g13)"/>
<circle cx="202.89" cy="204.1" r="1.55" fill="url(#g12)"/>
<circle cx="193.14" cy="207.4" r="1.55" fill="url(#g12)"/>
<circle cx="196.44" cy="207.4" r="1.55" fill="url(#g13)"/>
<circle cx="196.94" cy="213.9" r="1.55" fill="url(#g13)"/>
<circle cx="199.14" cy="211.5" r="1.55" fill="url(#g12)"/>
<circle cx="203.34" cy="211.7" r="1.55" fill="url(#g12)"/>
<circle cx="205.54" cy="213.9" r="1.55" fill="url(#g13)"/>
<circle cx="206.04" cy="207.4" r="1.55" fill="url(#g12)"/>
<circle cx="165.95" cy="218.5" r="1.55" fill="url(#g12)"/>
<circle cx="166.4" cy="226.1" r="1.55" fill="url(#g12)"/>
<circle cx="168.6" cy="228.3" r="1.55" fill="url(#g13)"/>
<circle cx="175.55" cy="218.5" r="1.55" fill="url(#g13)"/>
<circle cx="178.85" cy="218.5" r="1.55" fill="url(#g12)"/>
<circle cx="169.1" cy="221.8" r="1.55" fill="url(#g12)"/>
<circle cx="172.4" cy="221.8" r="1.55" fill="url(#g13)"/>
<circle cx="172.9" cy="228.3" r="1.55" fill="url(#g13)"/>
<circle cx="175.1" cy="225.9" r="1.55" fill="url(#g12)"/>
<circle cx="179.3" cy="226.1" r="1.55" fill="url(#g12)"/>
<circle cx="181.5" cy="228.3" r="1.55" fill="url(#g13)"/>
<circle cx="188.45" cy="218.5" r="1.55" fill="url(#g13)"/>
<circle cx="191.75" cy="218.5" r="1.55" fill="url(#g12)"/>
<circle cx="182" cy="221.8" r="1.55" fill="url(#g12)"/>
<circle cx="185.3" cy="221.8" r="1.55" fill="url(#g13)"/>
<circle cx="185.8" cy="228.3" r="1.55" fill="url(#g13)"/>
<circle cx="188" cy="225.9" r="1.55" fill="url(#g12)"/>
<circle cx="192.2" cy="226.1" r="1.55" fill="url(#g12)"/>
<circle cx="194.4" cy="228.3" r="1.55" fill="url(#g13)"/>
<circle cx="201.35" cy="218.5" r="1.55" fill="url(#g13)"/>
<circle cx="204.65" cy="218.5" r="1.55" fill="url(#g12)"/>
<circle cx="194.9" cy="221.8" r="1.55" fill="url(#g12)"/>
<circle cx="198.2" cy="221.8" r="1.55" fill="url(#g13)"/>
<circle cx="198.7" cy="228.3" r="1.55" fill="url(#g13)"/>
<circle cx="200.9" cy="225.9" r="1.55" fill="url(#g12)"/>
<circle cx="205.1" cy="226.1" r="1.55" fill="url(#g12)"/>
<circle cx="207.3" cy="228.3" r="1.55" fill="url(#g13)"/>
<circle cx="207.8" cy="221.8" r="1.55" fill="url(#g12)"/>
<circle cx="164.19" cy="232" r="1.55" fill="url(#g12)"/>
<circle cx="164.64" cy="239.6" r="1.55" fill="url(#g12)"/>
<circle cx="166.84" cy="241.8" r="1.55" fill="url(#g13)"/>
<circle cx="173.79" cy="232" r="1.55" fill="url(#g13)"/>
<circle cx="177.09" cy="232" r="1.55" fill="url(#g12)"/>
<circle cx="167.34" cy="235.3" r="1.55" fill="url(#g12)"/>
<circle cx="170.64" cy="235.3" r="1.55" fill="url(#g13)"/>
<circle cx="171.14" cy="241.8" r="1.55" fill="url(#g13)"/>
<circle cx="173.34" cy="239.4" r="1.55" fill="url(#g12)"/>
<circle cx="177.54" cy="239.6" r="1.55" fill="url(#g12)"/>
<circle cx="179.74" cy="241.8" r="1.55" fill="url(#g13)"/>
<circle cx="186.69" cy="232" r="1.55" fill="url(#g13)"/>
<circle cx="189.99" cy="232" r="1.55" fill="url(#g12)"/>
<circle cx="180.24" cy="235.3" r="1.55" fill="url(#g12)"/>
<circle cx="183.54" cy="235.3" r="1.55" fill="url(#g13)"/>
<circle cx="184.04" cy="241.8" r="1.55" fill="url(#g13)"/>
<circle cx="186.24" cy="239.4" r="1.55" fill="url(#g12)"/>
<circle cx="190.44" cy="239.6" r="1.55" fill="url(#g12)"/>
<circle cx="192.64" cy="241.8" r="1.55" fill="url(#g13)"/>
<circle cx="199.59" cy="232" r="1.55" fill="url(#g13)"/>
<circle cx="202.89" cy="232" r="1.55" fill="url(#g12)"/>
<circle cx="193.14" cy="235.3" r="1.55" fill="url(#g12)"/>
<circle cx="196.44" cy="235.3" r="1.55" fill="url(#g13)"/>
<circle cx="196.94" cy="241.8" r="1.55" fill="url(#g13)"/>
<circle cx="199.14" cy="239.4" r="1.55" fill="url(#g12)"/>
<circle cx="203.34" cy="239.6" r="1.55" fill="url(#g12)"/>
<circle cx="205.54" cy="241.8" r="1.55" fill="url(#g13)"/>
<circle cx="206.04" cy="235.3" r="1.55" fill="url(#g12)"/>
<circle cx="165.95" cy="246.4" r="1.55" fill="url(#g12)"/>
<circle cx="166.4" cy="254" r="1.55" fill="url(#g12)"/>
<circle cx="168.6" cy="256.2" r="1.55" fill="url(#g13)"/>
<circle cx="175.55" cy="246.4" r="1.55" fill="url(#g13)"/>
<circle cx="178.85" cy="246.4" r="1.55" fill="url(#g12)"/>
<circle cx="169.1" cy="249.7" r="1.55" fill="url(#g12)"/>
<circle cx="172.4" cy="249.7" r="1.55" fill="url(#g13)"/>
<circle cx="172.9" cy="256.2" r="1.55" fill="url(#g13)"/>
<circle cx="175.1" cy="253.8" r="1.55" fill="url(#g12)"/>
<circle cx="179.3" cy="254" r="1.55" fill="url(#g12)"/>
<circle cx="181.5" cy="256.2" r="1.55" fill="url(#g13)"/>
<circle cx="188.45" cy="246.4" r="1.55" fill="url(#g13)"/>
<circle cx="191.75" cy="246.4" r="1.55" fill="url(#g12)"/>
<circle cx="182" cy="249.7" r="1.55" fill="url(#g12)"/>
<circle cx="185.3" cy="249.7" r="1.55" fill="url(#g13)"/>
<circle cx="185.8" cy="256.2" r="1.55" fill="url(#g13)"/>
<circle cx="188" cy="253.8" r="1.55" fill="url(#g12)"/>
<circle cx="192.2" cy="254" r="1.55" fill="url(#g12)"/>
<circle cx="194.4" cy="256.2" r="1.55" fill="url(#g13)"/>
<circle cx="201.35" cy="246.4" r="1.55" fill="url(#g13)"/>
<circle cx="204.65" cy="246.4" r="1.55" fill="url(#g12)"/>
<circle cx="194.9" cy="249.7" r="1.55" fill="url(#g12)"/>
<circle cx="198.2" cy="249.7" r="1.55" fill="url(#g13)"/>
<circle cx="198.7" cy="256.2" r="1.55" fill="url(#g13)"/>
<circle cx="200.9" cy="253.8" r="1.55" fill="url(#g12)"/>
<circle cx="205.1" cy="254" r="1.55" fill="url(#g12)"/>
<circle cx="207.3" cy="256.2" r="1.55" fill="url(#g13)"/>
<circle cx="207.8" cy="249.7" r="1.55" fill="url(#g12)"/>
<circle cx="164.19" cy="259.9" r="1.55" fill="url(#g12)"/>
<circle cx="164.64" cy="267.5" r="1.55" fill="url(#g12)"/>
<circle cx="166.84" cy="269.7" r="1.55" fill="url(#g13)"/>
<circle cx="173.79" cy="259.9" r="1.55" fill="url(#g13)"/>
<circle cx="177.09" cy="259.9" r="1.55" fill="url(#g12)"/>
<circle cx="167.34" cy="263.2" r="1.55" fill="url(#g12)"/>
<circle cx="170.64" cy="263.2" r="1.55" fill="url(#g13)"/>
<circle cx="171.14" cy="269.7" r="1.55" fill="url(#g13)"/>
<circle cx="173.34" cy="267.3" r="1.55" fill="url(#g12)"/>
<circle cx="177.54" cy="267.5" r="1.55" fill="url(#g12)"/>
<circle cx="179.74" cy="269.7" r="1.55" fill="url(#g13)"/>
<circle cx="186.69" cy="259.9" r="1.55" fill="url(#g13)"/>
<circle cx="189.99" cy="259.9" r="1.55" fill="url(#g12)"/>
<circle cx="180.24" cy="263.2" r="1.55" fill="url(#g12)"/>
<circle cx="183.54" cy="263.2" r="1.55" fill="url(#g13)"/>
<circle cx="184.04" cy="269.7" r="1.55" fill="url(#g13)"/>
<circle cx="186.24" cy="267.3" r="1.55" fill="url(#g12)"/>
<circle cx="190.44" cy="267.5" r="1.55" fill="url(#g12)"/>
<circle cx="192.64" cy="269.7" r="1.55" fill="url(#g13)"/>
<circle cx="199.59" cy="259.9" r="1.55" fill="url(#g13)"/>
<circle cx="202.89" cy="259.9" r="1.55" fill="url(#g12)"/>
<circle cx="193.14" cy="263.2" r="1.55" fill="url(#g12)"/>
<circle cx="196.44" cy="263.2" r="1.55" fill="url(#g13)"/>
<circle cx="196.94" cy="269.7" r="1.55" fill="url(#g13)"/>
<circle cx="199.14" cy="267.3" r="1.55" fill="url(#g12)"/>
<circle cx="203.34" cy="267.5" r="1.55" fill="url(#g12)"/>
<circle cx="205.54" cy="269.7" r="1.55" fill="url(#g13)"/>
<circle cx="206.04" cy="263.2" r="1.55" fill="url(#g12)"/>
</g>
<rect x="166.2" y="185.2" width="39.7" height="84.3" fill="none" stroke="#111" stroke-width="1.0"/>
</g>
<g id="g173">
<circle cx="257.09" cy="190.84" r="3.05" fill="url(#g14)"/>
<circle cx="265.61" cy="190.34" r="3.05" fill="url(#g15)"/>
<circle cx="273.11" cy="190.72" r="3.05" fill="url(#g15)"/>
<circle cx="281.27" cy="190.93" r="3.05" fill="url(#g15)"/>
<circle cx="289.48" cy="191.28" r="3.05" fill="url(#g15)"/>
<circle cx="297.35" cy="190.44" r="3.05" fill="url(#g14)"/>
<circle cx="305.98" cy="190.48" r="3.05" fill="url(#g15)"/>
<circle cx="313.45" cy="190.85" r="3.05" fill="url(#g15)"/>
<circle cx="321.25" cy="190.98" r="3.05" fill="url(#g15)"/>
<circle cx="329.7" cy="190.75" r="3.05" fill="url(#g15)"/>
<circle cx="261.29" cy="195.59" r="3.05" fill="url(#g14)"/>
<circle cx="269.88" cy="195.31" r="3.05" fill="url(#g15)"/>
<circle cx="277.5" cy="195.78" r="3.05" fill="url(#g16)"/>
<circle cx="285.05" cy="195.69" r="3.05" fill="url(#g16)"/>
<circle cx="294.05" cy="195.33" r="3.05" fill="url(#g16)"/>
<circle cx="301.7" cy="195.48" r="3.05" fill="url(#g16)"/>
<circle cx="309.57" cy="195.68" r="3.05" fill="url(#g15)"/>
<circle cx="317.78" cy="196.01" r="3.05" fill="url(#g14)"/>
<circle cx="325.46" cy="195.69" r="3.05" fill="url(#g16)"/>
<circle cx="257.97" cy="200.51" r="3.05" fill="url(#g15)"/>
<circle cx="266.37" cy="200.61" r="3.05" fill="url(#g15)"/>
<circle cx="274.56" cy="200.62" r="3.05" fill="url(#g15)"/>
<circle cx="282.23" cy="200.16" r="3.05" fill="url(#g14)"/>
<circle cx="291.05" cy="199.89" r="3.05" fill="url(#g14)"/>
<circle cx="298.18" cy="200.22" r="3.05" fill="url(#g15)"/>
<circle cx="305.9" cy="200.16" r="3.05" fill="url(#g15)"/>
<circle cx="315.04" cy="200.43" r="3.05" fill="url(#g15)"/>
<circle cx="322.71" cy="199.79" r="3.05" fill="url(#g15)"/>
<circle cx="330.95" cy="200.54" r="3.05" fill="url(#g14)"/>
<circle cx="262.66" cy="204.52" r="3.05" fill="url(#g16)"/>
<circle cx="270.09" cy="204.8" r="3.05" fill="url(#g16)"/>
<circle cx="278.08" cy="204.56" r="3.05" fill="url(#g16)"/>
<circle cx="286.95" cy="205.07" r="3.05" fill="url(#g16)"/>
<circle cx="294.32" cy="204.82" r="3.05" fill="url(#g16)"/>
<circle cx="303.09" cy="204.93" r="3.05" fill="url(#g14)"/>
<circle cx="310.02" cy="204.8" r="3.05" fill="url(#g16)"/>
<circle cx="318.09" cy="204.48" r="3.05" fill="url(#g14)"/>
<circle cx="326.08" cy="205" r="3.05" fill="url(#g16)"/>
<circle cx="257.84" cy="209.44" r="3.05" fill="url(#g14)"/>
<circle cx="265.93" cy="209.71" r="3.05" fill="url(#g15)"/>
<circle cx="273.27" cy="209.99" r="3.05" fill="url(#g15)"/>
<circle cx="281.97" cy="210" r="3.05" fill="url(#g14)"/>
<circle cx="289.62" cy="209.54" r="3.05" fill="url(#g15)"/>
<circle cx="313.83" cy="210.14" r="3.05" fill="url(#g15)"/>
<circle cx="322.19" cy="210.14" r="3.05" fill="url(#g16)"/>
<circle cx="329.27" cy="209.38" r="3.05" fill="url(#g15)"/>
<circle cx="262.01" cy="214.38" r="3.05" fill="url(#g15)"/>
<circle cx="269.1" cy="214.56" r="3.05" fill="url(#g14)"/>
<circle cx="277.9" cy="214.38" r="3.05" fill="url(#g14)"/>
<circle cx="285.4" cy="214.7" r="3.05" fill="url(#g14)"/>
<circle cx="293.48" cy="214.85" r="3.05" fill="url(#g16)"/>
<circle cx="301.15" cy="214.05" r="3.05" fill="url(#g16)"/>
<circle cx="309.18" cy="214.73" r="3.05" fill="url(#g14)"/>
<circle cx="317.42" cy="214.45" r="3.05" fill="url(#g14)"/>
<circle cx="326.17" cy="214.55" r="3.05" fill="url(#g16)"/>
<circle cx="333.52" cy="214.77" r="3.05" fill="url(#g15)"/>
<circle cx="258.25" cy="218.86" r="3.05" fill="url(#g15)"/>
<circle cx="266.4" cy="218.75" r="3.05" fill="url(#g15)"/>
<circle cx="274.45" cy="219.2" r="3.05" fill="url(#g15)"/>
<circle cx="283" cy="219.12" r="3.05" fill="url(#g15)"/>
<circle cx="289.92" cy="219.06" r="3.05" fill="url(#g15)"/>
<circle cx="298.86" cy="218.79" r="3.05" fill="url(#g15)"/>
<circle cx="306.57" cy="218.95" r="3.05" fill="url(#g14)"/>
<circle cx="314.84" cy="218.73" r="3.05" fill="url(#g15)"/>
<circle cx="322.23" cy="219.39" r="3.05" fill="url(#g15)"/>
<circle cx="330.81" cy="219.53" r="3.05" fill="url(#g15)"/>
<circle cx="262.51" cy="224.03" r="3.05" fill="url(#g16)"/>
<circle cx="270.47" cy="224.28" r="3.05" fill="url(#g16)"/>
<circle cx="279.03" cy="223.6" r="3.05" fill="url(#g15)"/>
<circle cx="286.91" cy="223.48" r="3.05" fill="url(#g15)"/>
<circle cx="293.99" cy="223.58" r="3.05" fill="url(#g16)"/>
<circle cx="302.84" cy="224.24" r="3.05" fill="url(#g14)"/>
<circle cx="310.69" cy="223.48" r="3.05" fill="url(#g14)"/>
<circle cx="318.16" cy="224.29" r="3.05" fill="url(#g15)"/>
<circle cx="327.09" cy="224.17" r="3.05" fill="url(#g16)"/>
<circle cx="334.52" cy="223.68" r="3.05" fill="url(#g16)"/>
<circle cx="257.02" cy="228.61" r="3.05" fill="url(#g14)"/>
<circle cx="265.4" cy="228.68" r="3.05" fill="url(#g15)"/>
<circle cx="274.18" cy="228.85" r="3.05" fill="url(#g15)"/>
<circle cx="281.32" cy="228.1" r="3.05" fill="url(#g15)"/>
<circle cx="289.16" cy="228.48" r="3.05" fill="url(#g15)"/>
<circle cx="297.31" cy="228.21" r="3.05" fill="url(#g14)"/>
<circle cx="305.84" cy="228.15" r="3.05" fill="url(#g15)"/>
<circle cx="313.51" cy="228.13" r="3.05" fill="url(#g14)"/>
<circle cx="321.96" cy="228.14" r="3.05" fill="url(#g15)"/>
<circle cx="330.04" cy="228.51" r="3.05" fill="url(#g15)"/>
<circle cx="261.32" cy="232.91" r="3.05" fill="url(#g15)"/>
<circle cx="269.13" cy="232.94" r="3.05" fill="url(#g16)"/>
<circle cx="277.37" cy="233.09" r="3.05" fill="url(#g16)"/>
<circle cx="285.6" cy="232.96" r="3.05" fill="url(#g16)"/>
<circle cx="293.3" cy="232.8" r="3.05" fill="url(#g16)"/>
<circle cx="301.23" cy="233.25" r="3.05" fill="url(#g16)"/>
<circle cx="309.98" cy="233.21" r="3.05" fill="url(#g16)"/>
<circle cx="317.47" cy="233.29" r="3.05" fill="url(#g14)"/>
<circle cx="325.41" cy="233.61" r="3.05" fill="url(#g15)"/>
<circle cx="333.49" cy="233.13" r="3.05" fill="url(#g14)"/>
<circle cx="258.79" cy="237.76" r="3.05" fill="url(#g15)"/>
<circle cx="266.91" cy="238.37" r="3.05" fill="url(#g15)"/>
<circle cx="274.19" cy="237.79" r="3.05" fill="url(#g15)"/>
<circle cx="282.43" cy="237.76" r="3.05" fill="url(#g15)"/>
<circle cx="290.56" cy="237.74" r="3.05" fill="url(#g16)"/>
<circle cx="298.33" cy="237.5" r="3.05" fill="url(#g15)"/>
<circle cx="306.5" cy="237.7" r="3.05" fill="url(#g15)"/>
<circle cx="314.22" cy="237.59" r="3.05" fill="url(#g15)"/>
<circle cx="321.93" cy="237.8" r="3.05" fill="url(#g15)"/>
<circle cx="330.54" cy="238.25" r="3.05" fill="url(#g15)"/>
<circle cx="262.37" cy="242.55" r="3.05" fill="url(#g15)"/>
<circle cx="270.77" cy="242.86" r="3.05" fill="url(#g16)"/>
<circle cx="278.97" cy="242.85" r="3.05" fill="url(#g14)"/>
<circle cx="286.07" cy="242.74" r="3.05" fill="url(#g14)"/>
<circle cx="294.87" cy="243.05" r="3.05" fill="url(#g14)"/>
<circle cx="302.72" cy="242.91" r="3.05" fill="url(#g15)"/>
<circle cx="310.06" cy="242.58" r="3.05" fill="url(#g16)"/>
<circle cx="318.57" cy="242.85" r="3.05" fill="url(#g14)"/>
<circle cx="326.49" cy="242.22" r="3.05" fill="url(#g14)"/>
<circle cx="334.5" cy="242.76" r="3.05" fill="url(#g14)"/>
<circle cx="257.3" cy="247.01" r="3.05" fill="url(#g14)"/>
<circle cx="265.25" cy="247.68" r="3.05" fill="url(#g14)"/>
<circle cx="273.46" cy="247.42" r="3.05" fill="url(#g15)"/>
<circle cx="281.74" cy="247.58" r="3.05" fill="url(#g14)"/>
<circle cx="289.3" cy="247.68" r="3.05" fill="url(#g15)"/>
<circle cx="297.01" cy="247" r="3.05" fill="url(#g15)"/>
<circle cx="305.83" cy="247.62" r="3.05" fill="url(#g14)"/>
<circle cx="313.56" cy="247.41" r="3.05" fill="url(#g15)"/>
<circle cx="321.24" cy="247.92" r="3.05" fill="url(#g14)"/>
<circle cx="329.55" cy="247.76" r="3.05" fill="url(#g15)"/>
<circle cx="261.25" cy="252.61" r="3.05" fill="url(#g16)"/>
<circle cx="269.17" cy="252.18" r="3.05" fill="url(#g16)"/>
<circle cx="277.98" cy="252.17" r="3.05" fill="url(#g16)"/>
<circle cx="285.28" cy="252.56" r="3.05" fill="url(#g14)"/>
<circle cx="293" cy="252.15" r="3.05" fill="url(#g16)"/>
<circle cx="301.17" cy="252" r="3.05" fill="url(#g16)"/>
<circle cx="309" cy="252.41" r="3.05" fill="url(#g14)"/>
<circle cx="318.11" cy="252.37" r="3.05" fill="url(#g16)"/>
<circle cx="325.45" cy="252.05" r="3.05" fill="url(#g16)"/>
<circle cx="333.43" cy="252.09" r="3.05" fill="url(#g16)"/>
<circle cx="258.9" cy="256.67" r="3.05" fill="url(#g15)"/>
<circle cx="266.22" cy="256.89" r="3.05" fill="url(#g15)"/>
<circle cx="275.05" cy="257.26" r="3.05" fill="url(#g15)"/>
<circle cx="283" cy="257.32" r="3.05" fill="url(#g15)"/>
<circle cx="289.96" cy="257.11" r="3.05" fill="url(#g14)"/>
<circle cx="298.67" cy="256.67" r="3.05" fill="url(#g14)"/>
<circle cx="306.05" cy="256.85" r="3.05" fill="url(#g16)"/>
<circle cx="314.79" cy="257.36" r="3.05" fill="url(#g15)"/>
<circle cx="322.26" cy="256.94" r="3.05" fill="url(#g14)"/>
<circle cx="330.09" cy="256.59" r="3.05" fill="url(#g15)"/>
<circle cx="262.99" cy="262.1" r="3.05" fill="url(#g16)"/>
<circle cx="270.13" cy="261.19" r="3.05" fill="url(#g16)"/>
<circle cx="278.19" cy="261.36" r="3.05" fill="url(#g16)"/>
<circle cx="286.8" cy="261.51" r="3.05" fill="url(#g15)"/>
<circle cx="294.35" cy="261.44" r="3.05" fill="url(#g16)"/>
<circle cx="303.06" cy="261.23" r="3.05" fill="url(#g16)"/>
<circle cx="310.94" cy="261.32" r="3.05" fill="url(#g14)"/>
<circle cx="318.38" cy="261.55" r="3.05" fill="url(#g16)"/>
<circle cx="326.95" cy="261.12" r="3.05" fill="url(#g14)"/>
<circle cx="257.7" cy="265.82" r="3.05" fill="url(#g15)"/>
<circle cx="265.99" cy="266.68" r="3.05" fill="url(#g16)"/>
<circle cx="273.13" cy="265.97" r="3.05" fill="url(#g15)"/>
<circle cx="282.13" cy="266.54" r="3.05" fill="url(#g14)"/>
<circle cx="289.55" cy="266.37" r="3.05" fill="url(#g14)"/>
<circle cx="306.1" cy="266.47" r="3.05" fill="url(#g15)"/>
<circle cx="313.3" cy="266.46" r="3.05" fill="url(#g15)"/>
<circle cx="321.08" cy="266.34" r="3.05" fill="url(#g15)"/>
<circle cx="329.27" cy="266.42" r="3.05" fill="url(#g15)"/>
<circle cx="265" cy="187.2" r="2.8" fill="url(#g15)"/>
<path d="M262.8 184.6 l2.2 -2.8 l2.2 2.8z" fill="#e3b06a"/>
<circle cx="291" cy="187.2" r="2.8" fill="url(#g15)"/>
<path d="M288.8 184.6 l2.2 -2.8 l2.2 2.8z" fill="#e3b06a"/>
<circle cx="317" cy="187.2" r="2.8" fill="url(#g15)"/>
<path d="M314.8 184.6 l2.2 -2.8 l2.2 2.8z" fill="#e3b06a"/>
<circle cx="272.3" cy="269.4" r="2.8" fill="url(#g15)"/>
<path d="M270.1 272 l2.2 2.6 l2.2 -2.6z" fill="#e3b06a"/>
<circle cx="298.3" cy="269.4" r="2.8" fill="url(#g15)"/>
<path d="M296.1 272 l2.2 2.6 l2.2 -2.6z" fill="#e3b06a"/>
<circle cx="324.3" cy="269.4" r="2.8" fill="url(#g15)"/>
<path d="M322.1 272 l2.2 2.6 l2.2 -2.6z" fill="#e3b06a"/>
<circle cx="255.3" cy="216" r="2" fill="url(#g15)"/>
<circle cx="255.3" cy="257" r="2" fill="url(#g15)"/>
<circle cx="335.4" cy="199" r="2" fill="url(#g15)"/>
<circle cx="335.4" cy="240" r="2" fill="url(#g15)"/>
<rect x="255.9" y="187.7" width="78.7" height="81.3" fill="none" stroke="#000" stroke-width="1.5"/>
</g>
<g id="h-carbon">
<line x1="393.67" y1="189" x2="393.33" y2="197.33" stroke="#8e8e8e" stroke-width="0.9"/>
<line x1="408.33" y1="193" x2="404" y2="199.33" stroke="#8e8e8e" stroke-width="0.9"/>
<line x1="413" y1="194.33" x2="419.33" y2="190.67" stroke="#8e8e8e" stroke-width="0.9"/>
<line x1="413" y1="194.33" x2="413.33" y2="202.67" stroke="#8e8e8e" stroke-width="0.9"/>
<line x1="423.67" y1="192.33" x2="429.53" y2="187.67" stroke="#8e8e8e" stroke-width="0.9"/>
<line x1="423.67" y1="192.33" x2="428.87" y2="198.33" stroke="#8e8e8e" stroke-width="0.9"/>
<line x1="433.87" y1="189" x2="433.53" y2="197.33" stroke="#8e8e8e" stroke-width="0.9"/>
<line x1="448.53" y1="193" x2="444.2" y2="199.33" stroke="#8e8e8e" stroke-width="0.9"/>
<line x1="453.2" y1="194.33" x2="459.53" y2="190.67" stroke="#8e8e8e" stroke-width="0.9"/>
<line x1="453.2" y1="194.33" x2="453.53" y2="202.67" stroke="#8e8e8e" stroke-width="0.9"/>
<line x1="393.33" y1="197.33" x2="399.33" y2="201" stroke="#8e8e8e" stroke-width="0.9"/>
<line x1="399.33" y1="201" x2="400" y2="209.33" stroke="#8e8e8e" stroke-width="0.9"/>
<line x1="404" y1="199.33" x2="409.33" y2="204.33" stroke="#8e8e8e" stroke-width="0.9"/>
<line x1="409.33" y1="204.33" x2="404.67" y2="210.67" stroke="#8e8e8e" stroke-width="0.9"/>
<line x1="413.33" y1="202.67" x2="420" y2="206.67" stroke="#8e8e8e" stroke-width="0.9"/>
<line x1="420" y1="206.67" x2="419.33" y2="215" stroke="#8e8e8e" stroke-width="0.9"/>
<line x1="424.67" y1="205.33" x2="428.87" y2="198.33" stroke="#8e8e8e" stroke-width="0.9"/>
<line x1="424.67" y1="205.33" x2="429.53" y2="212" stroke="#8e8e8e" stroke-width="0.9"/>
<line x1="393.67" y1="213.33" x2="400" y2="209.33" stroke="#8e8e8e" stroke-width="0.9"/>
<line x1="393.67" y1="213.33" x2="393.33" y2="221.67" stroke="#8e8e8e" stroke-width="0.9"/>
<line x1="404.67" y1="210.67" x2="408.33" y2="217.33" stroke="#8e8e8e" stroke-width="0.9"/>
<line x1="408.33" y1="217.33" x2="404" y2="223.67" stroke="#8e8e8e" stroke-width="0.9"/>
<line x1="413" y1="218.67" x2="419.33" y2="215" stroke="#8e8e8e" stroke-width="0.9"/>
<line x1="413" y1="218.67" x2="413.33" y2="227" stroke="#8e8e8e" stroke-width="0.9"/>
<line x1="423.67" y1="216.67" x2="429.53" y2="212" stroke="#8e8e8e" stroke-width="0.9"/>
<line x1="423.67" y1="216.67" x2="428.87" y2="222.67" stroke="#8e8e8e" stroke-width="0.9"/>
<line x1="433.53" y1="197.33" x2="439.53" y2="201" stroke="#8e8e8e" stroke-width="0.9"/>
<line x1="439.53" y1="201" x2="440.2" y2="209.33" stroke="#8e8e8e" stroke-width="0.9"/>
<line x1="444.2" y1="199.33" x2="449.53" y2="204.33" stroke="#8e8e8e" stroke-width="0.9"/>
<line x1="449.53" y1="204.33" x2="444.87" y2="210.67" stroke="#8e8e8e" stroke-width="0.9"/>
<line x1="453.53" y1="202.67" x2="460.2" y2="206.67" stroke="#8e8e8e" stroke-width="0.9"/>
<line x1="460.2" y1="206.67" x2="459.53" y2="215" stroke="#8e8e8e" stroke-width="0.9"/>
<line x1="433.87" y1="213.33" x2="440.2" y2="209.33" stroke="#8e8e8e" stroke-width="0.9"/>
<line x1="433.87" y1="213.33" x2="433.53" y2="221.67" stroke="#8e8e8e" stroke-width="0.9"/>
<line x1="444.87" y1="210.67" x2="448.53" y2="217.33" stroke="#8e8e8e" stroke-width="0.9"/>
<line x1="448.53" y1="217.33" x2="444.2" y2="223.67" stroke="#8e8e8e" stroke-width="0.9"/>
<line x1="453.2" y1="218.67" x2="459.53" y2="215" stroke="#8e8e8e" stroke-width="0.9"/>
<line x1="453.2" y1="218.67" x2="453.53" y2="227" stroke="#8e8e8e" stroke-width="0.9"/>
<line x1="393.33" y1="221.67" x2="399.33" y2="225.33" stroke="#8e8e8e" stroke-width="0.9"/>
<line x1="399.33" y1="225.33" x2="400" y2="233.67" stroke="#8e8e8e" stroke-width="0.9"/>
<line x1="404" y1="223.67" x2="409.33" y2="228.67" stroke="#8e8e8e" stroke-width="0.9"/>
<line x1="409.33" y1="228.67" x2="404.67" y2="235" stroke="#8e8e8e" stroke-width="0.9"/>
<line x1="413.33" y1="227" x2="420" y2="231" stroke="#8e8e8e" stroke-width="0.9"/>
<line x1="420" y1="231" x2="419.33" y2="239.33" stroke="#8e8e8e" stroke-width="0.9"/>
<line x1="424.67" y1="229.67" x2="428.87" y2="222.67" stroke="#8e8e8e" stroke-width="0.9"/>
<line x1="424.67" y1="229.67" x2="429.53" y2="236.33" stroke="#8e8e8e" stroke-width="0.9"/>
<line x1="393.67" y1="237.67" x2="400" y2="233.67" stroke="#8e8e8e" stroke-width="0.9"/>
<line x1="393.67" y1="237.67" x2="393.33" y2="246" stroke="#8e8e8e" stroke-width="0.9"/>
<line x1="404.67" y1="235" x2="408.33" y2="241.67" stroke="#8e8e8e" stroke-width="0.9"/>
<line x1="408.33" y1="241.67" x2="404" y2="248" stroke="#8e8e8e" stroke-width="0.9"/>
<line x1="413" y1="243" x2="419.33" y2="239.33" stroke="#8e8e8e" stroke-width="0.9"/>
<line x1="413" y1="243" x2="413.33" y2="251.33" stroke="#8e8e8e" stroke-width="0.9"/>
<line x1="423.67" y1="241" x2="429.53" y2="236.33" stroke="#8e8e8e" stroke-width="0.9"/>
<line x1="423.67" y1="241" x2="428.87" y2="247" stroke="#8e8e8e" stroke-width="0.9"/>
<line x1="433.53" y1="221.67" x2="439.53" y2="225.33" stroke="#8e8e8e" stroke-width="0.9"/>
<line x1="439.53" y1="225.33" x2="440.2" y2="233.67" stroke="#8e8e8e" stroke-width="0.9"/>
<line x1="444.2" y1="223.67" x2="449.53" y2="228.67" stroke="#8e8e8e" stroke-width="0.9"/>
<line x1="449.53" y1="228.67" x2="444.87" y2="235" stroke="#8e8e8e" stroke-width="0.9"/>
<line x1="453.53" y1="227" x2="460.2" y2="231" stroke="#8e8e8e" stroke-width="0.9"/>
<line x1="460.2" y1="231" x2="459.53" y2="239.33" stroke="#8e8e8e" stroke-width="0.9"/>
<line x1="433.87" y1="237.67" x2="440.2" y2="233.67" stroke="#8e8e8e" stroke-width="0.9"/>
<line x1="433.87" y1="237.67" x2="433.53" y2="246" stroke="#8e8e8e" stroke-width="0.9"/>
<line x1="444.87" y1="235" x2="448.53" y2="241.67" stroke="#8e8e8e" stroke-width="0.9"/>
<line x1="448.53" y1="241.67" x2="444.2" y2="248" stroke="#8e8e8e" stroke-width="0.9"/>
<line x1="453.2" y1="243" x2="459.53" y2="239.33" stroke="#8e8e8e" stroke-width="0.9"/>
<line x1="453.2" y1="243" x2="453.53" y2="251.33" stroke="#8e8e8e" stroke-width="0.9"/>
<line x1="393.33" y1="246" x2="399.33" y2="249.67" stroke="#8e8e8e" stroke-width="0.9"/>
<line x1="399.33" y1="249.67" x2="400" y2="258" stroke="#8e8e8e" stroke-width="0.9"/>
<line x1="404" y1="248" x2="409.33" y2="253" stroke="#8e8e8e" stroke-width="0.9"/>
<line x1="409.33" y1="253" x2="404.67" y2="259.33" stroke="#8e8e8e" stroke-width="0.9"/>
<line x1="413.33" y1="251.33" x2="420" y2="255.33" stroke="#8e8e8e" stroke-width="0.9"/>
<line x1="420" y1="255.33" x2="419.33" y2="263.67" stroke="#8e8e8e" stroke-width="0.9"/>
<line x1="424.67" y1="254" x2="428.87" y2="247" stroke="#8e8e8e" stroke-width="0.9"/>
<line x1="424.67" y1="254" x2="429.53" y2="260.67" stroke="#8e8e8e" stroke-width="0.9"/>
<line x1="393.67" y1="262" x2="400" y2="258" stroke="#8e8e8e" stroke-width="0.9"/>
<line x1="433.53" y1="246" x2="439.53" y2="249.67" stroke="#8e8e8e" stroke-width="0.9"/>
<line x1="439.53" y1="249.67" x2="440.2" y2="258" stroke="#8e8e8e" stroke-width="0.9"/>
<line x1="444.2" y1="248" x2="449.53" y2="253" stroke="#8e8e8e" stroke-width="0.9"/>
<line x1="449.53" y1="253" x2="444.87" y2="259.33" stroke="#8e8e8e" stroke-width="0.9"/>
<line x1="453.53" y1="251.33" x2="460.2" y2="255.33" stroke="#8e8e8e" stroke-width="0.9"/>
<line x1="460.2" y1="255.33" x2="459.53" y2="263.67" stroke="#8e8e8e" stroke-width="0.9"/>
<line x1="433.87" y1="262" x2="440.2" y2="258" stroke="#8e8e8e" stroke-width="0.9"/>
<circle cx="389.33" cy="187.67" r="2.8" fill="url(#g17)"/>
<circle cx="393.67" cy="189" r="2.8" fill="url(#g18)"/>
<circle cx="408.33" cy="193" r="2.8" fill="url(#g17)"/>
<circle cx="413" cy="194.33" r="2.8" fill="url(#g18)"/>
<circle cx="419.33" cy="190.67" r="2.8" fill="url(#g17)"/>
<circle cx="423.67" cy="192.33" r="2.8" fill="url(#g18)"/>
<circle cx="429.53" cy="187.67" r="2.8" fill="url(#g17)"/>
<circle cx="433.87" cy="189" r="2.8" fill="url(#g18)"/>
<circle cx="448.53" cy="193" r="2.8" fill="url(#g17)"/>
<circle cx="453.2" cy="194.33" r="2.8" fill="url(#g18)"/>
<circle cx="459.53" cy="190.67" r="2.8" fill="url(#g17)"/>
<circle cx="463.87" cy="192.33" r="2.8" fill="url(#g18)"/>
<circle cx="388.67" cy="198.33" r="2.8" fill="url(#g17)"/>
<circle cx="393.33" cy="197.33" r="2.8" fill="url(#g18)"/>
<circle cx="399.33" cy="201" r="2.8" fill="url(#g17)"/>
<circle cx="404" cy="199.33" r="2.8" fill="url(#g18)"/>
<circle cx="409.33" cy="204.33" r="2.8" fill="url(#g17)"/>
<circle cx="413.33" cy="202.67" r="2.8" fill="url(#g18)"/>
<circle cx="420" cy="206.67" r="2.8" fill="url(#g17)"/>
<circle cx="424.67" cy="205.33" r="2.8" fill="url(#g18)"/>
<circle cx="389.33" cy="212" r="2.8" fill="url(#g17)"/>
<circle cx="393.67" cy="213.33" r="2.8" fill="url(#g18)"/>
<circle cx="400" cy="209.33" r="2.8" fill="url(#g17)"/>
<circle cx="404.67" cy="210.67" r="2.8" fill="url(#g18)"/>
<circle cx="408.33" cy="217.33" r="2.8" fill="url(#g17)"/>
<circle cx="413" cy="218.67" r="2.8" fill="url(#g18)"/>
<circle cx="419.33" cy="215" r="2.8" fill="url(#g17)"/>
<circle cx="423.67" cy="216.67" r="2.8" fill="url(#g18)"/>
<circle cx="428.87" cy="198.33" r="2.8" fill="url(#g17)"/>
<circle cx="433.53" cy="197.33" r="2.8" fill="url(#g18)"/>
<circle cx="439.53" cy="201" r="2.8" fill="url(#g17)"/>
<circle cx="444.2" cy="199.33" r="2.8" fill="url(#g18)"/>
<circle cx="449.53" cy="204.33" r="2.8" fill="url(#g17)"/>
<circle cx="453.53" cy="202.67" r="2.8" fill="url(#g18)"/>
<circle cx="460.2" cy="206.67" r="2.8" fill="url(#g17)"/>
<circle cx="464.87" cy="205.33" r="2.8" fill="url(#g18)"/>
<circle cx="429.53" cy="212" r="2.8" fill="url(#g17)"/>
<circle cx="433.87" cy="213.33" r="2.8" fill="url(#g18)"/>
<circle cx="440.2" cy="209.33" r="2.8" fill="url(#g17)"/>
<circle cx="444.87" cy="210.67" r="2.8" fill="url(#g18)"/>
<circle cx="448.53" cy="217.33" r="2.8" fill="url(#g17)"/>
<circle cx="453.2" cy="218.67" r="2.8" fill="url(#g18)"/>
<circle cx="459.53" cy="215" r="2.8" fill="url(#g17)"/>
<circle cx="463.87" cy="216.67" r="2.8" fill="url(#g18)"/>
<circle cx="388.67" cy="222.67" r="2.8" fill="url(#g17)"/>
<circle cx="393.33" cy="221.67" r="2.8" fill="url(#g18)"/>
<circle cx="399.33" cy="225.33" r="2.8" fill="url(#g17)"/>
<circle cx="404" cy="223.67" r="2.8" fill="url(#g18)"/>
<circle cx="409.33" cy="228.67" r="2.8" fill="url(#g17)"/>
<circle cx="413.33" cy="227" r="2.8" fill="url(#g18)"/>
<circle cx="420" cy="231" r="2.8" fill="url(#g17)"/>
<circle cx="424.67" cy="229.67" r="2.8" fill="url(#g18)"/>
<circle cx="389.33" cy="236.33" r="2.8" fill="url(#g17)"/>
<circle cx="393.67" cy="237.67" r="2.8" fill="url(#g18)"/>
<circle cx="400" cy="233.67" r="2.8" fill="url(#g17)"/>
<circle cx="404.67" cy="235" r="2.8" fill="url(#g18)"/>
<circle cx="408.33" cy="241.67" r="2.8" fill="url(#g17)"/>
<circle cx="413" cy="243" r="2.8" fill="url(#g18)"/>
<circle cx="419.33" cy="239.33" r="2.8" fill="url(#g17)"/>
<circle cx="423.67" cy="241" r="2.8" fill="url(#g18)"/>
<circle cx="428.87" cy="222.67" r="2.8" fill="url(#g17)"/>
<circle cx="433.53" cy="221.67" r="2.8" fill="url(#g18)"/>
<circle cx="439.53" cy="225.33" r="2.8" fill="url(#g17)"/>
<circle cx="444.2" cy="223.67" r="2.8" fill="url(#g18)"/>
<circle cx="449.53" cy="228.67" r="2.8" fill="url(#g17)"/>
<circle cx="453.53" cy="227" r="2.8" fill="url(#g18)"/>
<circle cx="460.2" cy="231" r="2.8" fill="url(#g17)"/>
<circle cx="464.87" cy="229.67" r="2.8" fill="url(#g18)"/>
<circle cx="429.53" cy="236.33" r="2.8" fill="url(#g17)"/>
<circle cx="433.87" cy="237.67" r="2.8" fill="url(#g18)"/>
<circle cx="440.2" cy="233.67" r="2.8" fill="url(#g17)"/>
<circle cx="444.87" cy="235" r="2.8" fill="url(#g18)"/>
<circle cx="448.53" cy="241.67" r="2.8" fill="url(#g17)"/>
<circle cx="453.2" cy="243" r="2.8" fill="url(#g18)"/>
<circle cx="459.53" cy="239.33" r="2.8" fill="url(#g17)"/>
<circle cx="463.87" cy="241" r="2.8" fill="url(#g18)"/>
<circle cx="388.67" cy="247" r="2.8" fill="url(#g17)"/>
<circle cx="393.33" cy="246" r="2.8" fill="url(#g18)"/>
<circle cx="399.33" cy="249.67" r="2.8" fill="url(#g17)"/>
<circle cx="404" cy="248" r="2.8" fill="url(#g18)"/>
<circle cx="409.33" cy="253" r="2.8" fill="url(#g17)"/>
<circle cx="413.33" cy="251.33" r="2.8" fill="url(#g18)"/>
<circle cx="420" cy="255.33" r="2.8" fill="url(#g17)"/>
<circle cx="424.67" cy="254" r="2.8" fill="url(#g18)"/>
<circle cx="389.33" cy="260.67" r="2.8" fill="url(#g17)"/>
<circle cx="393.67" cy="262" r="2.8" fill="url(#g18)"/>
<circle cx="400" cy="258" r="2.8" fill="url(#g17)"/>
<circle cx="404.67" cy="259.33" r="2.8" fill="url(#g18)"/>
<circle cx="419.33" cy="263.67" r="2.8" fill="url(#g17)"/>
<circle cx="428.87" cy="247" r="2.8" fill="url(#g17)"/>
<circle cx="433.53" cy="246" r="2.8" fill="url(#g18)"/>
<circle cx="439.53" cy="249.67" r="2.8" fill="url(#g17)"/>
<circle cx="444.2" cy="248" r="2.8" fill="url(#g18)"/>
<circle cx="449.53" cy="253" r="2.8" fill="url(#g17)"/>
<circle cx="453.53" cy="251.33" r="2.8" fill="url(#g18)"/>
<circle cx="460.2" cy="255.33" r="2.8" fill="url(#g17)"/>
<circle cx="464.87" cy="254" r="2.8" fill="url(#g18)"/>
<circle cx="429.53" cy="260.67" r="2.8" fill="url(#g17)"/>
<circle cx="433.87" cy="262" r="2.8" fill="url(#g18)"/>
<circle cx="440.2" cy="258" r="2.8" fill="url(#g17)"/>
<circle cx="444.87" cy="259.33" r="2.8" fill="url(#g18)"/>
<circle cx="459.53" cy="263.67" r="2.8" fill="url(#g17)"/>
<rect x="386.3" y="189.4" width="80.4" height="73.6" fill="none" stroke="#151515" stroke-width="1.2"/>
</g>
<g id="g178">
<clipPath id="c178"><polygon points="517.9,189 581.3,189 601.6,271 538.1,271"/></clipPath>
<g clip-path="url(#c178)">
<polygon points="513.95,190.8 518.64,185.9 522.25,189 517.56,193.9" fill="#000" stroke="#000" stroke-width="1.25" stroke-linejoin="round"/>
<polygon points="524,189.3 528.14,185.55 533,190.5 528.86,194.25" fill="#000" stroke="#000" stroke-width="1.25" stroke-linejoin="round"/>
<polygon points="534.75,190.8 539.44,185.9 543.05,189 538.36,193.9" fill="#000" stroke="#000" stroke-width="1.25" stroke-linejoin="round"/>
<polygon points="544.8,189.3 548.94,185.55 553.8,190.5 549.66,194.25" fill="#000" stroke="#000" stroke-width="1.25" stroke-linejoin="round"/>
<polygon points="555.55,190.8 560.24,185.9 563.85,189 559.16,193.9" fill="#000" stroke="#000" stroke-width="1.25" stroke-linejoin="round"/>
<polygon points="565.6,189.3 569.74,185.55 574.6,190.5 570.46,194.25" fill="#000" stroke="#000" stroke-width="1.25" stroke-linejoin="round"/>
<polygon points="576.35,190.8 581.04,185.9 584.65,189 579.96,193.9" fill="#000" stroke="#000" stroke-width="1.25" stroke-linejoin="round"/>
<polygon points="516.1,199.35 520.24,195.6 525.1,200.55 520.96,204.3" fill="#000" stroke="#000" stroke-width="1.25" stroke-linejoin="round"/>
<polygon points="526.85,200.85 531.54,195.95 535.15,199.05 530.46,203.95" fill="#000" stroke="#000" stroke-width="1.25" stroke-linejoin="round"/>
<polygon points="536.9,199.35 541.04,195.6 545.9,200.55 541.76,204.3" fill="#000" stroke="#000" stroke-width="1.25" stroke-linejoin="round"/>
<polygon points="547.65,200.85 552.34,195.95 555.95,199.05 551.26,203.95" fill="#000" stroke="#000" stroke-width="1.25" stroke-linejoin="round"/>
<polygon points="557.7,199.35 561.84,195.6 566.7,200.55 562.56,204.3" fill="#000" stroke="#000" stroke-width="1.25" stroke-linejoin="round"/>
<polygon points="568.45,200.85 573.14,195.95 576.75,199.05 572.06,203.95" fill="#000" stroke="#000" stroke-width="1.25" stroke-linejoin="round"/>
<polygon points="578.5,199.35 582.64,195.6 587.5,200.55 583.36,204.3" fill="#000" stroke="#000" stroke-width="1.25" stroke-linejoin="round"/>
<polygon points="518.95,210.9 523.64,206 527.25,209.1 522.56,214" fill="#000" stroke="#000" stroke-width="1.25" stroke-linejoin="round"/>
<polygon points="529,209.4 533.14,205.65 538,210.6 533.86,214.35" fill="#000" stroke="#000" stroke-width="1.25" stroke-linejoin="round"/>
<polygon points="539.75,210.9 544.44,206 548.05,209.1 543.36,214" fill="#000" stroke="#000" stroke-width="1.25" stroke-linejoin="round"/>
<polygon points="549.8,209.4 553.94,205.65 558.8,210.6 554.66,214.35" fill="#000" stroke="#000" stroke-width="1.25" stroke-linejoin="round"/>
<polygon points="560.55,210.9 565.24,206 568.85,209.1 564.16,214" fill="#000" stroke="#000" stroke-width="1.25" stroke-linejoin="round"/>
<polygon points="570.6,209.4 574.74,205.65 579.6,210.6 575.46,214.35" fill="#000" stroke="#000" stroke-width="1.25" stroke-linejoin="round"/>
<polygon points="581.35,210.9 586.04,206 589.65,209.1 584.96,214" fill="#000" stroke="#000" stroke-width="1.25" stroke-linejoin="round"/>
<polygon points="521.1,219.45 525.24,215.7 530.1,220.65 525.96,224.4" fill="#000" stroke="#000" stroke-width="1.25" stroke-linejoin="round"/>
<polygon points="531.85,220.95 536.54,216.05 540.15,219.15 535.46,224.05" fill="#000" stroke="#000" stroke-width="1.25" stroke-linejoin="round"/>
<polygon points="541.9,219.45 546.04,215.7 550.9,220.65 546.76,224.4" fill="#000" stroke="#000" stroke-width="1.25" stroke-linejoin="round"/>
<polygon points="552.65,220.95 557.34,216.05 560.95,219.15 556.26,224.05" fill="#000" stroke="#000" stroke-width="1.25" stroke-linejoin="round"/>
<polygon points="562.7,219.45 566.84,215.7 571.7,220.65 567.56,224.4" fill="#000" stroke="#000" stroke-width="1.25" stroke-linejoin="round"/>
<polygon points="573.45,220.95 578.14,216.05 581.75,219.15 577.06,224.05" fill="#000" stroke="#000" stroke-width="1.25" stroke-linejoin="round"/>
<polygon points="583.5,219.45 587.64,215.7 592.5,220.65 588.36,224.4" fill="#000" stroke="#000" stroke-width="1.25" stroke-linejoin="round"/>
<polygon points="523.95,231 528.64,226.1 532.25,229.2 527.56,234.1" fill="#000" stroke="#000" stroke-width="1.25" stroke-linejoin="round"/>
<polygon points="534,229.5 538.14,225.75 543,230.7 538.86,234.45" fill="#000" stroke="#000" stroke-width="1.25" stroke-linejoin="round"/>
<polygon points="544.75,231 549.44,226.1 553.05,229.2 548.36,234.1" fill="#000" stroke="#000" stroke-width="1.25" stroke-linejoin="round"/>
<polygon points="554.8,229.5 558.94,225.75 563.8,230.7 559.66,234.45" fill="#000" stroke="#000" stroke-width="1.25" stroke-linejoin="round"/>
<polygon points="565.55,231 570.24,226.1 573.85,229.2 569.16,234.1" fill="#000" stroke="#000" stroke-width="1.25" stroke-linejoin="round"/>
<polygon points="575.6,229.5 579.74,225.75 584.6,230.7 580.46,234.45" fill="#000" stroke="#000" stroke-width="1.25" stroke-linejoin="round"/>
<polygon points="586.35,231 591.04,226.1 594.65,229.2 589.96,234.1" fill="#000" stroke="#000" stroke-width="1.25" stroke-linejoin="round"/>
<polygon points="526.1,239.55 530.24,235.8 535.1,240.75 530.96,244.5" fill="#000" stroke="#000" stroke-width="1.25" stroke-linejoin="round"/>
<polygon points="536.85,241.05 541.54,236.15 545.15,239.25 540.46,244.15" fill="#000" stroke="#000" stroke-width="1.25" stroke-linejoin="round"/>
<polygon points="546.9,239.55 551.04,235.8 555.9,240.75 551.76,244.5" fill="#000" stroke="#000" stroke-width="1.25" stroke-linejoin="round"/>
<polygon points="557.65,241.05 562.34,236.15 565.95,239.25 561.26,244.15" fill="#000" stroke="#000" stroke-width="1.25" stroke-linejoin="round"/>
<polygon points="567.7,239.55 571.84,235.8 576.7,240.75 572.56,244.5" fill="#000" stroke="#000" stroke-width="1.25" stroke-linejoin="round"/>
<polygon points="578.45,241.05 583.14,236.15 586.75,239.25 582.06,244.15" fill="#000" stroke="#000" stroke-width="1.25" stroke-linejoin="round"/>
<polygon points="588.5,239.55 592.64,235.8 597.5,240.75 593.36,244.5" fill="#000" stroke="#000" stroke-width="1.25" stroke-linejoin="round"/>
<polygon points="528.95,251.1 533.64,246.2 537.25,249.3 532.56,254.2" fill="#000" stroke="#000" stroke-width="1.25" stroke-linejoin="round"/>
<polygon points="539,249.6 543.14,245.85 548,250.8 543.86,254.55" fill="#000" stroke="#000" stroke-width="1.25" stroke-linejoin="round"/>
<polygon points="549.75,251.1 554.44,246.2 558.05,249.3 553.36,254.2" fill="#000" stroke="#000" stroke-width="1.25" stroke-linejoin="round"/>
<polygon points="559.8,249.6 563.94,245.85 568.8,250.8 564.66,254.55" fill="#000" stroke="#000" stroke-width="1.25" stroke-linejoin="round"/>
<polygon points="570.55,251.1 575.24,246.2 578.85,249.3 574.16,254.2" fill="#000" stroke="#000" stroke-width="1.25" stroke-linejoin="round"/>
<polygon points="580.6,249.6 584.74,245.85 589.6,250.8 585.46,254.55" fill="#000" stroke="#000" stroke-width="1.25" stroke-linejoin="round"/>
<polygon points="591.35,251.1 596.04,246.2 599.65,249.3 594.96,254.2" fill="#000" stroke="#000" stroke-width="1.25" stroke-linejoin="round"/>
<polygon points="531.1,259.65 535.24,255.9 540.1,260.85 535.96,264.6" fill="#000" stroke="#000" stroke-width="1.25" stroke-linejoin="round"/>
<polygon points="541.85,261.15 546.54,256.25 550.15,259.35 545.46,264.25" fill="#000" stroke="#000" stroke-width="1.25" stroke-linejoin="round"/>
<polygon points="551.9,259.65 556.04,255.9 560.9,260.85 556.76,264.6" fill="#000" stroke="#000" stroke-width="1.25" stroke-linejoin="round"/>
<polygon points="562.65,261.15 567.34,256.25 570.95,259.35 566.26,264.25" fill="#000" stroke="#000" stroke-width="1.25" stroke-linejoin="round"/>
<polygon points="572.7,259.65 576.84,255.9 581.7,260.85 577.56,264.6" fill="#000" stroke="#000" stroke-width="1.25" stroke-linejoin="round"/>
<polygon points="583.45,261.15 588.14,256.25 591.75,259.35 587.06,264.25" fill="#000" stroke="#000" stroke-width="1.25" stroke-linejoin="round"/>
<polygon points="593.5,259.65 597.64,255.9 602.5,260.85 598.36,264.6" fill="#000" stroke="#000" stroke-width="1.25" stroke-linejoin="round"/>
<polygon points="533.95,271.2 538.64,266.3 542.25,269.4 537.56,274.3" fill="#000" stroke="#000" stroke-width="1.25" stroke-linejoin="round"/>
<polygon points="544,269.7 548.14,265.95 553,270.9 548.86,274.65" fill="#000" stroke="#000" stroke-width="1.25" stroke-linejoin="round"/>
<polygon points="554.75,271.2 559.44,266.3 563.05,269.4 558.36,274.3" fill="#000" stroke="#000" stroke-width="1.25" stroke-linejoin="round"/>
<polygon points="564.8,269.7 568.94,265.95 573.8,270.9 569.66,274.65" fill="#000" stroke="#000" stroke-width="1.25" stroke-linejoin="round"/>
<polygon points="575.55,271.2 580.24,266.3 583.85,269.4 579.16,274.3" fill="#000" stroke="#000" stroke-width="1.25" stroke-linejoin="round"/>
<polygon points="585.6,269.7 589.74,265.95 594.6,270.9 590.46,274.65" fill="#000" stroke="#000" stroke-width="1.25" stroke-linejoin="round"/>
<polygon points="596.35,271.2 601.04,266.3 604.65,269.4 599.96,274.3" fill="#000" stroke="#000" stroke-width="1.25" stroke-linejoin="round"/>
</g>
<polygon points="518.7,189.7 580.7,189.7 600.7,270.3 538.7,270.3" fill="none" stroke="#000" stroke-width="1.4"/>
</g>
<g id="g120">
<clipPath id="cg"><rect x="649.4" y="181" width="51.6" height="92.4"/></clipPath>
<g clip-path="url(#cg)">
<circle cx="644.73" cy="183.75" r="2.75" fill="url(#g19)"/>
<circle cx="649.7" cy="183.82" r="2.75" fill="url(#g19)"/>
<circle cx="655.7" cy="183.49" r="2.75" fill="url(#g20)"/>
<circle cx="667.92" cy="184.57" r="2.75" fill="url(#g19)"/>
<circle cx="674.98" cy="183.25" r="2.75" fill="url(#g19)"/>
<circle cx="686.6" cy="183.39" r="2.75" fill="url(#g21)"/>
<circle cx="699.95" cy="183.83" r="2.75" fill="url(#g21)"/>
<circle cx="647.38" cy="188.63" r="2.75" fill="url(#g19)"/>
<circle cx="654.06" cy="189.24" r="2.75" fill="url(#g20)"/>
<circle cx="658.99" cy="188.36" r="2.75" fill="url(#g21)"/>
<circle cx="672.27" cy="188.52" r="2.75" fill="url(#g21)"/>
<circle cx="677.07" cy="188.24" r="2.75" fill="url(#g20)"/>
<circle cx="684.79" cy="188.54" r="2.75" fill="url(#g19)"/>
<circle cx="695.95" cy="188.04" r="2.75" fill="url(#g20)"/>
<circle cx="702.88" cy="188.09" r="2.75" fill="url(#g20)"/>
<circle cx="644.35" cy="194.08" r="2.75" fill="url(#g21)"/>
<circle cx="651.12" cy="193.11" r="2.75" fill="url(#g19)"/>
<circle cx="657.58" cy="192.99" r="2.75" fill="url(#g21)"/>
<circle cx="663.13" cy="194.35" r="2.75" fill="url(#g21)"/>
<circle cx="670.27" cy="193.14" r="2.75" fill="url(#g21)"/>
<circle cx="676.03" cy="192.96" r="2.75" fill="url(#g20)"/>
<circle cx="681.56" cy="194.04" r="2.75" fill="url(#g21)"/>
<circle cx="687.42" cy="192.94" r="2.75" fill="url(#g21)"/>
<circle cx="694.41" cy="193.39" r="2.75" fill="url(#g21)"/>
<circle cx="700.37" cy="193.72" r="2.75" fill="url(#g20)"/>
<circle cx="647.57" cy="199.15" r="2.75" fill="url(#g21)"/>
<circle cx="653.77" cy="198.88" r="2.75" fill="url(#g21)"/>
<circle cx="661.14" cy="199.11" r="2.75" fill="url(#g21)"/>
<circle cx="665.94" cy="197.76" r="2.75" fill="url(#g21)"/>
<circle cx="673.05" cy="198.11" r="2.75" fill="url(#g21)"/>
<circle cx="678.54" cy="197.98" r="2.75" fill="url(#g19)"/>
<circle cx="684.59" cy="198.59" r="2.75" fill="url(#g21)"/>
<circle cx="690.82" cy="199.17" r="2.75" fill="url(#g19)"/>
<circle cx="696.95" cy="198.41" r="2.75" fill="url(#g21)"/>
<circle cx="650.32" cy="202.81" r="2.75" fill="url(#g21)"/>
<circle cx="657.12" cy="203.65" r="2.75" fill="url(#g20)"/>
<circle cx="661.92" cy="202.66" r="2.75" fill="url(#g19)"/>
<circle cx="675.54" cy="202.63" r="2.75" fill="url(#g20)"/>
<circle cx="681.32" cy="203.11" r="2.75" fill="url(#g19)"/>
<circle cx="687.17" cy="203.78" r="2.75" fill="url(#g21)"/>
<circle cx="693.58" cy="203.87" r="2.75" fill="url(#g20)"/>
<circle cx="699.7" cy="204.04" r="2.75" fill="url(#g21)"/>
<circle cx="647.58" cy="208.88" r="2.75" fill="url(#g21)"/>
<circle cx="653.08" cy="208.43" r="2.75" fill="url(#g19)"/>
<circle cx="659.64" cy="209.09" r="2.75" fill="url(#g21)"/>
<circle cx="665.39" cy="208.68" r="2.75" fill="url(#g20)"/>
<circle cx="672.26" cy="207.63" r="2.75" fill="url(#g21)"/>
<circle cx="678.03" cy="208.27" r="2.75" fill="url(#g21)"/>
<circle cx="684.02" cy="208.48" r="2.75" fill="url(#g19)"/>
<circle cx="689.39" cy="207.98" r="2.75" fill="url(#g21)"/>
<circle cx="695.79" cy="208.95" r="2.75" fill="url(#g21)"/>
<circle cx="703.1" cy="208.02" r="2.75" fill="url(#g21)"/>
<circle cx="644.94" cy="213.69" r="2.75" fill="url(#g21)"/>
<circle cx="651.02" cy="213.33" r="2.75" fill="url(#g20)"/>
<circle cx="657.34" cy="213.74" r="2.75" fill="url(#g21)"/>
<circle cx="664.22" cy="212.84" r="2.75" fill="url(#g20)"/>
<circle cx="669.29" cy="212.74" r="2.75" fill="url(#g19)"/>
<circle cx="675.79" cy="212.9" r="2.75" fill="url(#g19)"/>
<circle cx="681.87" cy="212.52" r="2.75" fill="url(#g20)"/>
<circle cx="694.58" cy="213.31" r="2.75" fill="url(#g21)"/>
<circle cx="699.63" cy="212.62" r="2.75" fill="url(#g20)"/>
<circle cx="648.65" cy="217.68" r="2.75" fill="url(#g21)"/>
<circle cx="654.48" cy="218.01" r="2.75" fill="url(#g21)"/>
<circle cx="660.91" cy="218.83" r="2.75" fill="url(#g19)"/>
<circle cx="666.53" cy="217.59" r="2.75" fill="url(#g21)"/>
<circle cx="678.36" cy="217.74" r="2.75" fill="url(#g20)"/>
<circle cx="685.05" cy="218.28" r="2.75" fill="url(#g19)"/>
<circle cx="691.64" cy="218.75" r="2.75" fill="url(#g21)"/>
<circle cx="643.46" cy="222.93" r="2.75" fill="url(#g20)"/>
<circle cx="650" cy="223.11" r="2.75" fill="url(#g20)"/>
<circle cx="657.06" cy="222.94" r="2.75" fill="url(#g20)"/>
<circle cx="662.86" cy="223.51" r="2.75" fill="url(#g21)"/>
<circle cx="668.19" cy="223.64" r="2.75" fill="url(#g20)"/>
<circle cx="674.86" cy="223.47" r="2.75" fill="url(#g20)"/>
<circle cx="681.52" cy="222.76" r="2.75" fill="url(#g20)"/>
<circle cx="693.68" cy="222.98" r="2.75" fill="url(#g19)"/>
<circle cx="647.6" cy="227.38" r="2.75" fill="url(#g21)"/>
<circle cx="652.69" cy="227.34" r="2.75" fill="url(#g20)"/>
<circle cx="659.96" cy="228.2" r="2.75" fill="url(#g20)"/>
<circle cx="666.29" cy="227.24" r="2.75" fill="url(#g19)"/>
<circle cx="671.38" cy="228.27" r="2.75" fill="url(#g19)"/>
<circle cx="678.42" cy="228" r="2.75" fill="url(#g19)"/>
<circle cx="684.57" cy="228.54" r="2.75" fill="url(#g21)"/>
<circle cx="690.92" cy="227.94" r="2.75" fill="url(#g20)"/>
<circle cx="696.38" cy="227.91" r="2.75" fill="url(#g21)"/>
<circle cx="703.22" cy="227.93" r="2.75" fill="url(#g21)"/>
<circle cx="645.15" cy="232.79" r="2.75" fill="url(#g20)"/>
<circle cx="651.26" cy="232.66" r="2.75" fill="url(#g21)"/>
<circle cx="656.98" cy="232.76" r="2.75" fill="url(#g20)"/>
<circle cx="664.01" cy="233.44" r="2.75" fill="url(#g21)"/>
<circle cx="669.16" cy="232.99" r="2.75" fill="url(#g21)"/>
<circle cx="676.25" cy="232.04" r="2.75" fill="url(#g21)"/>
<circle cx="682.25" cy="232.52" r="2.75" fill="url(#g21)"/>
<circle cx="687.47" cy="233.17" r="2.75" fill="url(#g19)"/>
<circle cx="693.85" cy="232.32" r="2.75" fill="url(#g19)"/>
<circle cx="700.2" cy="232.66" r="2.75" fill="url(#g21)"/>
<circle cx="647.65" cy="237.91" r="2.75" fill="url(#g21)"/>
<circle cx="654.83" cy="237.88" r="2.75" fill="url(#g19)"/>
<circle cx="660.81" cy="238.2" r="2.75" fill="url(#g21)"/>
<circle cx="666.27" cy="238.38" r="2.75" fill="url(#g21)"/>
<circle cx="673.34" cy="237.11" r="2.75" fill="url(#g20)"/>
<circle cx="678.49" cy="237.06" r="2.75" fill="url(#g20)"/>
<circle cx="685.48" cy="237.1" r="2.75" fill="url(#g21)"/>
<circle cx="690.4" cy="237.22" r="2.75" fill="url(#g19)"/>
<circle cx="698.07" cy="237.08" r="2.75" fill="url(#g20)"/>
<circle cx="644.05" cy="242.9" r="2.75" fill="url(#g20)"/>
<circle cx="649.57" cy="241.86" r="2.75" fill="url(#g21)"/>
<circle cx="656.46" cy="242.03" r="2.75" fill="url(#g19)"/>
<circle cx="663.04" cy="243.38" r="2.75" fill="url(#g21)"/>
<circle cx="667.95" cy="243.32" r="2.75" fill="url(#g21)"/>
<circle cx="674.52" cy="242.55" r="2.75" fill="url(#g20)"/>
<circle cx="681.11" cy="241.82" r="2.75" fill="url(#g21)"/>
<circle cx="686.59" cy="242.53" r="2.75" fill="url(#g20)"/>
<circle cx="692.76" cy="242.06" r="2.75" fill="url(#g21)"/>
<circle cx="700.03" cy="243.08" r="2.75" fill="url(#g21)"/>
<circle cx="647.33" cy="247.35" r="2.75" fill="url(#g20)"/>
<circle cx="654.04" cy="247.99" r="2.75" fill="url(#g19)"/>
<circle cx="659.81" cy="247.94" r="2.75" fill="url(#g20)"/>
<circle cx="666.2" cy="248.11" r="2.75" fill="url(#g21)"/>
<circle cx="672.14" cy="247.35" r="2.75" fill="url(#g20)"/>
<circle cx="677.62" cy="247.45" r="2.75" fill="url(#g21)"/>
<circle cx="690.37" cy="247.07" r="2.75" fill="url(#g19)"/>
<circle cx="696.06" cy="247.76" r="2.75" fill="url(#g19)"/>
<circle cx="702.29" cy="248.3" r="2.75" fill="url(#g19)"/>
<circle cx="645.47" cy="253.17" r="2.75" fill="url(#g20)"/>
<circle cx="656.96" cy="252.24" r="2.75" fill="url(#g20)"/>
<circle cx="669.01" cy="252" r="2.75" fill="url(#g21)"/>
<circle cx="675.81" cy="253.15" r="2.75" fill="url(#g19)"/>
<circle cx="682.17" cy="252.9" r="2.75" fill="url(#g20)"/>
<circle cx="693.52" cy="253.09" r="2.75" fill="url(#g20)"/>
<circle cx="699.87" cy="252.39" r="2.75" fill="url(#g19)"/>
<circle cx="648.83" cy="257.17" r="2.75" fill="url(#g21)"/>
<circle cx="654.05" cy="256.96" r="2.75" fill="url(#g19)"/>
<circle cx="660.07" cy="257.65" r="2.75" fill="url(#g19)"/>
<circle cx="666.16" cy="256.57" r="2.75" fill="url(#g21)"/>
<circle cx="672.54" cy="257.94" r="2.75" fill="url(#g20)"/>
<circle cx="679.65" cy="258.01" r="2.75" fill="url(#g21)"/>
<circle cx="691.13" cy="258.06" r="2.75" fill="url(#g21)"/>
<circle cx="698.02" cy="257.66" r="2.75" fill="url(#g19)"/>
<circle cx="644.56" cy="262.37" r="2.75" fill="url(#g20)"/>
<circle cx="650.13" cy="261.73" r="2.75" fill="url(#g19)"/>
<circle cx="662.41" cy="262.47" r="2.75" fill="url(#g21)"/>
<circle cx="668.78" cy="262.07" r="2.75" fill="url(#g21)"/>
<circle cx="675.6" cy="262.92" r="2.75" fill="url(#g19)"/>
<circle cx="680.33" cy="262.83" r="2.75" fill="url(#g21)"/>
<circle cx="686.87" cy="261.83" r="2.75" fill="url(#g19)"/>
<circle cx="693.4" cy="262.41" r="2.75" fill="url(#g19)"/>
<circle cx="699" cy="262.97" r="2.75" fill="url(#g21)"/>
<circle cx="646.38" cy="266.4" r="2.75" fill="url(#g20)"/>
<circle cx="653.47" cy="266.46" r="2.75" fill="url(#g21)"/>
<circle cx="658.76" cy="267.38" r="2.75" fill="url(#g21)"/>
<circle cx="665.37" cy="267.07" r="2.75" fill="url(#g19)"/>
<circle cx="672.11" cy="267.64" r="2.75" fill="url(#g21)"/>
<circle cx="684.22" cy="267.53" r="2.75" fill="url(#g20)"/>
<circle cx="689.78" cy="267.6" r="2.75" fill="url(#g21)"/>
<circle cx="697.1" cy="266.82" r="2.75" fill="url(#g19)"/>
<circle cx="703.14" cy="266.98" r="2.75" fill="url(#g20)"/>
<circle cx="645.65" cy="271.33" r="2.75" fill="url(#g21)"/>
<circle cx="657.65" cy="271.68" r="2.75" fill="url(#g19)"/>
<circle cx="663.04" cy="272.26" r="2.75" fill="url(#g21)"/>
<circle cx="676.11" cy="271.65" r="2.75" fill="url(#g20)"/>
<circle cx="682.31" cy="271.79" r="2.75" fill="url(#g21)"/>
<circle cx="688.21" cy="272.67" r="2.75" fill="url(#g20)"/>
<circle cx="694.15" cy="272.48" r="2.75" fill="url(#g20)"/>
<circle cx="700.24" cy="272.7" r="2.75" fill="url(#g21)"/>
<circle cx="647.9" cy="276.68" r="2.75" fill="url(#g21)"/>
<circle cx="654.09" cy="276.41" r="2.75" fill="url(#g21)"/>
<circle cx="660.48" cy="277.44" r="2.75" fill="url(#g20)"/>
<circle cx="666.98" cy="277.51" r="2.75" fill="url(#g21)"/>
<circle cx="672.75" cy="276.97" r="2.75" fill="url(#g21)"/>
<circle cx="679.11" cy="277.39" r="2.75" fill="url(#g20)"/>
<circle cx="690.5" cy="276.23" r="2.75" fill="url(#g20)"/>
<circle cx="696.66" cy="277.11" r="2.75" fill="url(#g20)"/>
</g>
<rect x="650.5" y="182" width="49.2" height="90.4" fill="none" stroke="#000" stroke-width="1.3"/>
</g>
<g id="panel-b">
<rect x="71.2" y="374.6" width="279.5" height="220.6" fill="#f40000"/>
<path d="M71.2 594.6 L350.7 573 L350.7 595.2 L71.2 595.2Z" fill="#c8e645"/>
<line x1="71.4" y1="593.4" x2="350.7" y2="572.0" stroke="#0f2566" stroke-width="3" stroke-dasharray="11 9.9" stroke-dashoffset="7"/>
<text x="140.7" y="441.1" font-family="'Liberation Sans', sans-serif" font-size="15.8" font-weight="bold" font-style="normal" fill="#1a0000" textLength="110.56" lengthAdjust="spacingAndGlyphs">Cubic-diamond</text>
<text x="280.6" y="590.5" font-family="'Liberation Sans', sans-serif" font-size="15.8" font-weight="bold" font-style="normal" fill="#10140a" textLength="63.33" lengthAdjust="spacingAndGlyphs">Graphite</text>
<text x="0" y="0" font-family="'Liberation Sans', sans-serif" font-size="15.2" font-weight="normal" font-style="normal" fill="#1b2a78" textLength="95.49" lengthAdjust="spacingAndGlyphs" transform="translate(91.5 584.8) rotate(-6)">Bundy (1989)</text>
<g>
<line x1="71.2" y1="595.2" x2="71.2" y2="598.6" stroke="#222" stroke-width="0.8"/>
<text x="66.8" y="614" font-family="'Liberation Sans', sans-serif" font-size="17.8" font-weight="normal" font-style="normal" fill="#1a1a1a" textLength="8.82" lengthAdjust="spacingAndGlyphs">0</text>
<line x1="164.37" y1="595.2" x2="164.37" y2="598.6" stroke="#222" stroke-width="0.8"/>
<text x="144.57" y="614" font-family="'Liberation Sans', sans-serif" font-size="17.8" font-weight="normal" font-style="normal" fill="#1a1a1a" textLength="40.19" lengthAdjust="spacingAndGlyphs">1000</text>
<line x1="257.53" y1="595.2" x2="257.53" y2="598.6" stroke="#222" stroke-width="0.8"/>
<text x="237.73" y="614" font-family="'Liberation Sans', sans-serif" font-size="17.8" font-weight="normal" font-style="normal" fill="#1a1a1a" textLength="40.19" lengthAdjust="spacingAndGlyphs">2000</text>
<line x1="350.7" y1="595.2" x2="350.7" y2="598.6" stroke="#222" stroke-width="0.8"/>
<text x="330.9" y="614" font-family="'Liberation Sans', sans-serif" font-size="17.8" font-weight="normal" font-style="normal" fill="#1a1a1a" textLength="40.19" lengthAdjust="spacingAndGlyphs">3000</text>
<line x1="67.8" y1="595.2" x2="71.2" y2="595.2" stroke="#222" stroke-width="0.8"/>
<text x="56" y="601.65" font-family="'Liberation Sans', sans-serif" font-size="17.8" font-weight="normal" font-style="normal" fill="#1a1a1a" textLength="8.82" lengthAdjust="spacingAndGlyphs">0</text>
<line x1="67.8" y1="551.08" x2="71.2" y2="551.08" stroke="#222" stroke-width="0.8"/>
<text x="46" y="557.53" font-family="'Liberation Sans', sans-serif" font-size="17.8" font-weight="normal" font-style="normal" fill="#1a1a1a" textLength="18.84" lengthAdjust="spacingAndGlyphs">20</text>
<line x1="67.8" y1="506.96" x2="71.2" y2="506.96" stroke="#222" stroke-width="0.8"/>
<text x="46" y="513.41" font-family="'Liberation Sans', sans-serif" font-size="17.8" font-weight="normal" font-style="normal" fill="#1a1a1a" textLength="18.84" lengthAdjust="spacingAndGlyphs">40</text>
<line x1="67.8" y1="462.84" x2="71.2" y2="462.84" stroke="#222" stroke-width="0.8"/>
<text x="46" y="469.29" font-family="'Liberation Sans', sans-serif" font-size="17.8" font-weight="normal" font-style="normal" fill="#1a1a1a" textLength="18.84" lengthAdjust="spacingAndGlyphs">60</text>
<line x1="67.8" y1="418.72" x2="71.2" y2="418.72" stroke="#222" stroke-width="0.8"/>
<text x="46" y="425.17" font-family="'Liberation Sans', sans-serif" font-size="17.8" font-weight="normal" font-style="normal" fill="#1a1a1a" textLength="18.84" lengthAdjust="spacingAndGlyphs">80</text>
<line x1="67.8" y1="374.6" x2="71.2" y2="374.6" stroke="#222" stroke-width="0.8"/>
<text x="36.2" y="381.05" font-family="'Liberation Sans', sans-serif" font-size="17.8" font-weight="normal" font-style="normal" fill="#1a1a1a" textLength="28.57" lengthAdjust="spacingAndGlyphs">100</text>
<rect x="71.2" y="374.6" width="279.5" height="220.6" fill="none" stroke="#1c1c1c" stroke-width="0.8"/>
</g>
<g>
<line x1="68" y1="351.7" x2="351" y2="351.7" stroke="#000" stroke-width="3.2"/>
<line x1="68" y1="337" x2="68" y2="365.6" stroke="#000" stroke-width="3.5"/>
<line x1="351" y1="337" x2="351" y2="365.6" stroke="#000" stroke-width="3.5"/>
<line x1="124.6" y1="340.2" x2="124.6" y2="362.9" stroke="#000" stroke-width="1.3"/>
<line x1="181.2" y1="340.2" x2="181.2" y2="362.9" stroke="#000" stroke-width="1.3"/>
<line x1="237.8" y1="340.2" x2="237.8" y2="362.9" stroke="#000" stroke-width="1.3"/>
<line x1="294.4" y1="340.2" x2="294.4" y2="362.9" stroke="#000" stroke-width="1.3"/>
<polygon points="59,327.3 75.6,327.3 67.3,338.5" fill="#000" stroke="none" stroke-width="1"/>
</g>
<text x="107.3" y="322.6" font-family="'Liberation Serif', serif" font-size="22" font-weight="normal" font-style="normal" fill="#000" textLength="15.95" lengthAdjust="spacingAndGlyphs" stroke="#000" stroke-width="0.25" stroke-linejoin="round">Δ</text>
<text x="125" y="322.6" font-family="'Liberation Serif', serif" font-size="22" font-weight="bold" font-style="italic" fill="#000" textLength="11.74" lengthAdjust="spacingAndGlyphs" stroke="#000" stroke-width="0.95" stroke-linejoin="round">G</text>
<text x="146.7" y="322.6" font-family="'Liberation Serif', serif" font-size="22" font-weight="bold" font-style="normal" fill="#000" textLength="15" lengthAdjust="spacingAndGlyphs" stroke="#000" stroke-width="0.45" stroke-linejoin="round">=</text>
<text x="170" y="322.6" font-family="'Liberation Serif', serif" font-size="22" font-weight="bold" font-style="normal" fill="#000" textLength="11.7" lengthAdjust="spacingAndGlyphs" stroke="#000" stroke-width="0.45" stroke-linejoin="round">0</text>
<text x="191.7" y="322.6" font-family="'Liberation Serif', serif" font-size="25.5" font-weight="bold" font-style="italic" fill="#000" textLength="30" lengthAdjust="spacingAndGlyphs" stroke="#000" stroke-width="0.45" stroke-linejoin="round">me</text>
<text x="223.34" y="322.6" font-family="'Liberation Serif', serif" font-size="22" font-weight="bold" font-style="italic" fill="#000" textLength="13.58" lengthAdjust="spacingAndGlyphs" stroke="#000" stroke-width="0.7" stroke-linejoin="round">V</text>
<text x="241.55" y="322.6" font-family="'Liberation Serif', serif" font-size="22" font-weight="bold" font-style="italic" fill="#000" textLength="6.61" lengthAdjust="spacingAndGlyphs" stroke="#000" stroke-width="0.7" stroke-linejoin="round">/</text>
<text x="251.7" y="322.6" font-family="'Liberation Serif', serif" font-size="25.5" font-weight="bold" font-style="italic" fill="#000" textLength="59.32" lengthAdjust="spacingAndGlyphs" stroke="#000" stroke-width="0.45" stroke-linejoin="round">atom</text>
<text x="2.3" y="360.6" font-family="'Liberation Sans', sans-serif" font-size="22" font-weight="bold" font-style="normal" fill="#000" textLength="25.94" lengthAdjust="spacingAndGlyphs" stroke="#000" stroke-width="0.7">(b)</text>
<text x="0" y="0" font-family="'Liberation Sans', sans-serif" font-size="20.6" font-weight="bold" font-style="normal" fill="#000" textLength="175.42" lengthAdjust="spacingAndGlyphs" transform="translate(26 572.8) rotate(-90)" stroke="#000" stroke-width="0.45">Pressure (GPa)</text>
<text x="116.7" y="637.5" font-family="'Liberation Sans', sans-serif" font-size="20.6" font-weight="bold" font-style="normal" fill="#000" textLength="187.19" lengthAdjust="spacingAndGlyphs" stroke="#000" stroke-width="0.45">Temperature (K)</text>
</g>
<g id="panel-c">
<rect x="444" y="378" width="286.6" height="219.2" fill="#ff8c00"/>
<path d="M472 597.2 L502 589.2 L537 579.6 L548 579.8 L560 581 L584 580.6 L600 579.6 L620 578 L640 576 L660 573.4 L680 570 L700 566 L715 562.6 L730.6 559 L730.6 597.2Z" fill="#c8e645"/>
<path d="M472 597.2 L499 590 L505 589.43 L730.6 572.8 L730.6 597.2Z" fill="url(#hatch)"/>
<line x1="448.4" y1="593.0" x2="731.2" y2="572.16" stroke="#0f2566" stroke-width="3" stroke-dasharray="11.2 10.1" stroke-dashoffset="0"/>
<text x="538.2" y="448.7" font-family="'Liberation Sans', sans-serif" font-size="15.8" font-weight="bold" font-style="normal" fill="#1a0d00" textLength="60.47" lengthAdjust="spacingAndGlyphs">Stacking</text>
<text x="538.9" y="469.7" font-family="'Liberation Sans', sans-serif" font-size="15.8" font-weight="bold" font-style="normal" fill="#1a0d00" textLength="58.81" lengthAdjust="spacingAndGlyphs">disorder</text>
<g>
<line x1="444" y1="597.2" x2="444" y2="600.6" stroke="#222" stroke-width="0.8"/>
<text x="439.4" y="615.8" font-family="'Liberation Sans', sans-serif" font-size="17.8" font-weight="normal" font-style="normal" fill="#1a1a1a" textLength="9.22" lengthAdjust="spacingAndGlyphs">0</text>
<line x1="539.53" y1="597.2" x2="539.53" y2="600.6" stroke="#222" stroke-width="0.8"/>
<text x="518.83" y="615.8" font-family="'Liberation Sans', sans-serif" font-size="17.8" font-weight="normal" font-style="normal" fill="#1a1a1a" textLength="42" lengthAdjust="spacingAndGlyphs">1000</text>
<line x1="635.07" y1="597.2" x2="635.07" y2="600.6" stroke="#222" stroke-width="0.8"/>
<text x="614.36" y="615.8" font-family="'Liberation Sans', sans-serif" font-size="17.8" font-weight="normal" font-style="normal" fill="#1a1a1a" textLength="42" lengthAdjust="spacingAndGlyphs">2000</text>
<line x1="730.6" y1="597.2" x2="730.6" y2="600.6" stroke="#222" stroke-width="0.8"/>
<text x="709.9" y="615.8" font-family="'Liberation Sans', sans-serif" font-size="17.8" font-weight="normal" font-style="normal" fill="#1a1a1a" textLength="42" lengthAdjust="spacingAndGlyphs">3000</text>
<line x1="440.6" y1="597.2" x2="444" y2="597.2" stroke="#222" stroke-width="0.8"/>
<text x="428.4" y="603.65" font-family="'Liberation Sans', sans-serif" font-size="17.8" font-weight="normal" font-style="normal" fill="#1a1a1a" textLength="9.22" lengthAdjust="spacingAndGlyphs">0</text>
<line x1="440.6" y1="553.36" x2="444" y2="553.36" stroke="#222" stroke-width="0.8"/>
<text x="417.95" y="559.81" font-family="'Liberation Sans', sans-serif" font-size="17.8" font-weight="normal" font-style="normal" fill="#1a1a1a" textLength="19.69" lengthAdjust="spacingAndGlyphs">20</text>
<line x1="440.6" y1="509.52" x2="444" y2="509.52" stroke="#222" stroke-width="0.8"/>
<text x="417.95" y="515.97" font-family="'Liberation Sans', sans-serif" font-size="17.8" font-weight="normal" font-style="normal" fill="#1a1a1a" textLength="19.69" lengthAdjust="spacingAndGlyphs">40</text>
<line x1="440.6" y1="465.68" x2="444" y2="465.68" stroke="#222" stroke-width="0.8"/>
<text x="417.95" y="472.13" font-family="'Liberation Sans', sans-serif" font-size="17.8" font-weight="normal" font-style="normal" fill="#1a1a1a" textLength="19.69" lengthAdjust="spacingAndGlyphs">60</text>
<line x1="440.6" y1="421.84" x2="444" y2="421.84" stroke="#222" stroke-width="0.8"/>
<text x="417.95" y="428.29" font-family="'Liberation Sans', sans-serif" font-size="17.8" font-weight="normal" font-style="normal" fill="#1a1a1a" textLength="19.69" lengthAdjust="spacingAndGlyphs">80</text>
<line x1="440.6" y1="378" x2="444" y2="378" stroke="#222" stroke-width="0.8"/>
<text x="407.71" y="384.45" font-family="'Liberation Sans', sans-serif" font-size="17.8" font-weight="normal" font-style="normal" fill="#1a1a1a" textLength="29.86" lengthAdjust="spacingAndGlyphs">100</text>
<rect x="444" y="378" width="286.6" height="219.2" fill="none" stroke="#1c1c1c" stroke-width="0.8"/>
</g>
<g>
<line x1="449" y1="352.3" x2="732" y2="352.3" stroke="#000" stroke-width="3.2"/>
<line x1="449" y1="337.8" x2="449" y2="366.8" stroke="#000" stroke-width="3.5"/>
<line x1="732" y1="337.8" x2="732" y2="366.8" stroke="#000" stroke-width="3.5"/>
<line x1="505.6" y1="340.8" x2="505.6" y2="363.5" stroke="#000" stroke-width="1.3"/>
<line x1="562.2" y1="340.8" x2="562.2" y2="363.5" stroke="#000" stroke-width="1.3"/>
<line x1="618.8" y1="340.8" x2="618.8" y2="363.5" stroke="#000" stroke-width="1.3"/>
<line x1="675.4" y1="340.8" x2="675.4" y2="363.5" stroke="#000" stroke-width="1.3"/>
<polygon points="497.3,327.2 513.9,327.2 505.6,341.5" fill="#000" stroke="none" stroke-width="1"/>
</g>
<text x="487.3" y="322.3" font-family="'Liberation Serif', serif" font-size="22" font-weight="normal" font-style="normal" fill="#000" textLength="15.95" lengthAdjust="spacingAndGlyphs" stroke="#000" stroke-width="0.25" stroke-linejoin="round">Δ</text>
<text x="505" y="322.3" font-family="'Liberation Serif', serif" font-size="22" font-weight="bold" font-style="italic" fill="#000" textLength="11.74" lengthAdjust="spacingAndGlyphs" stroke="#000" stroke-width="0.95" stroke-linejoin="round">G</text>
<text x="526" y="322.3" font-family="'Liberation Serif', serif" font-size="22" font-weight="bold" font-style="normal" fill="#000" textLength="15.7" lengthAdjust="spacingAndGlyphs" stroke="#000" stroke-width="0.45" stroke-linejoin="round">=</text>
<text x="548.3" y="322.3" font-family="'Liberation Serif', serif" font-size="22" font-weight="bold" font-style="normal" fill="#000" textLength="24.4" lengthAdjust="spacingAndGlyphs" stroke="#000" stroke-width="0.45" stroke-linejoin="round">40</text>
<text x="583.3" y="322.3" font-family="'Liberation Serif', serif" font-size="25.5" font-weight="bold" font-style="italic" fill="#000" textLength="30.07" lengthAdjust="spacingAndGlyphs" stroke="#000" stroke-width="0.45" stroke-linejoin="round">me</text>
<text x="615.01" y="322.3" font-family="'Liberation Serif', serif" font-size="22" font-weight="bold" font-style="italic" fill="#000" textLength="13.6" lengthAdjust="spacingAndGlyphs" stroke="#000" stroke-width="0.7" stroke-linejoin="round">V</text>
<text x="633.75" y="322.3" font-family="'Liberation Serif', serif" font-size="22" font-weight="bold" font-style="italic" fill="#000" textLength="6.22" lengthAdjust="spacingAndGlyphs" stroke="#000" stroke-width="0.7" stroke-linejoin="round">/</text>
<text x="643.3" y="322.3" font-family="'Liberation Serif', serif" font-size="25.5" font-weight="bold" font-style="italic" fill="#000" textLength="60.02" lengthAdjust="spacingAndGlyphs" stroke="#000" stroke-width="0.45" stroke-linejoin="round">atom</text>
<text x="386.2" y="360.2" font-family="'Liberation Sans', sans-serif" font-size="22" font-weight="bold" font-style="normal" fill="#000" textLength="23.24" lengthAdjust="spacingAndGlyphs" stroke="#000" stroke-width="0.7">(c)</text>
<text x="0" y="0" font-family="'Liberation Sans', sans-serif" font-size="20.6" font-weight="bold" font-style="normal" fill="#000" textLength="173.82" lengthAdjust="spacingAndGlyphs" transform="translate(397.8 574.8) rotate(-90)" stroke="#000" stroke-width="0.45">Pressure (GPa)</text>
<text x="490.5" y="640.3" font-family="'Liberation Sans', sans-serif" font-size="20.6" font-weight="bold" font-style="normal" fill="#000" textLength="192.49" lengthAdjust="spacingAndGlyphs" stroke="#000" stroke-width="0.45">Temperature (K)</text>
</g>
<g id="panel-d">
<rect x="74.4" y="743.7" width="288.1" height="220.8" fill="#98fb98"/>
<path d="M131.6 964.5 L134 958 L139 949 L146 939 L156 928 L168 917 L180 908 L194 898 L210 889 L226 881 L242 873.6 L260 866 L280 858.4 L300.7 850.3 L320 842.6 L341 834.2 L362.5 825.3 L362.5 964.5Z" fill="#5a2b84"/>
<path d="M74.4 743.7 L124.5 743.7 L110 747.4 L95 750.6 L74.4 754.8Z" fill="#5a2b84"/>
<path d="M342.3 964.5 L362.5 957.5 L362.5 964.5Z" fill="#c8e645"/>
<text x="118.8" y="832.4" font-family="'Liberation Sans', sans-serif" font-size="15.8" font-weight="bold" font-style="normal" fill="#0d1a0d" textLength="79.91" lengthAdjust="spacingAndGlyphs">n-diamond</text>
<text x="136.2" y="853.3" font-family="'Liberation Sans', sans-serif" font-size="15.8" font-weight="bold" font-style="normal" fill="#0d1a0d" textLength="45.83" lengthAdjust="spacingAndGlyphs">(S291)</text>
<text x="266.2" y="905.7" font-family="'Liberation Sans', sans-serif" font-size="15.8" font-weight="bold" font-style="normal" fill="#12081c" textLength="61.8" lengthAdjust="spacingAndGlyphs">Diaphite</text>
<text x="274" y="927.2" font-family="'Liberation Sans', sans-serif" font-size="15.8" font-weight="bold" font-style="normal" fill="#12081c" textLength="46.03" lengthAdjust="spacingAndGlyphs">(S353)</text>
<g>
<line x1="74.4" y1="964.5" x2="74.4" y2="967.9" stroke="#222" stroke-width="0.8"/>
<text x="69.8" y="982.9" font-family="'Liberation Sans', sans-serif" font-size="17.8" font-weight="normal" font-style="normal" fill="#1a1a1a" textLength="9.22" lengthAdjust="spacingAndGlyphs">0</text>
<line x1="170.43" y1="964.5" x2="170.43" y2="967.9" stroke="#222" stroke-width="0.8"/>
<text x="149.73" y="982.9" font-family="'Liberation Sans', sans-serif" font-size="17.8" font-weight="normal" font-style="normal" fill="#1a1a1a" textLength="42" lengthAdjust="spacingAndGlyphs">1000</text>
<line x1="266.47" y1="964.5" x2="266.47" y2="967.9" stroke="#222" stroke-width="0.8"/>
<text x="245.76" y="982.9" font-family="'Liberation Sans', sans-serif" font-size="17.8" font-weight="normal" font-style="normal" fill="#1a1a1a" textLength="42" lengthAdjust="spacingAndGlyphs">2000</text>
<line x1="362.5" y1="964.5" x2="362.5" y2="967.9" stroke="#222" stroke-width="0.8"/>
<text x="341.8" y="982.9" font-family="'Liberation Sans', sans-serif" font-size="17.8" font-weight="normal" font-style="normal" fill="#1a1a1a" textLength="42" lengthAdjust="spacingAndGlyphs">3000</text>
<line x1="71" y1="964.5" x2="74.4" y2="964.5" stroke="#222" stroke-width="0.8"/>
<text x="58.8" y="970.95" font-family="'Liberation Sans', sans-serif" font-size="17.8" font-weight="normal" font-style="normal" fill="#1a1a1a" textLength="9.22" lengthAdjust="spacingAndGlyphs">0</text>
<line x1="71" y1="920.34" x2="74.4" y2="920.34" stroke="#222" stroke-width="0.8"/>
<text x="48.35" y="926.79" font-family="'Liberation Sans', sans-serif" font-size="17.8" font-weight="normal" font-style="normal" fill="#1a1a1a" textLength="19.69" lengthAdjust="spacingAndGlyphs">20</text>
<line x1="71" y1="876.18" x2="74.4" y2="876.18" stroke="#222" stroke-width="0.8"/>
<text x="48.35" y="882.63" font-family="'Liberation Sans', sans-serif" font-size="17.8" font-weight="normal" font-style="normal" fill="#1a1a1a" textLength="19.69" lengthAdjust="spacingAndGlyphs">40</text>
<line x1="71" y1="832.02" x2="74.4" y2="832.02" stroke="#222" stroke-width="0.8"/>
<text x="48.35" y="838.47" font-family="'Liberation Sans', sans-serif" font-size="17.8" font-weight="normal" font-style="normal" fill="#1a1a1a" textLength="19.69" lengthAdjust="spacingAndGlyphs">60</text>
<line x1="71" y1="787.86" x2="74.4" y2="787.86" stroke="#222" stroke-width="0.8"/>
<text x="48.35" y="794.31" font-family="'Liberation Sans', sans-serif" font-size="17.8" font-weight="normal" font-style="normal" fill="#1a1a1a" textLength="19.69" lengthAdjust="spacingAndGlyphs">80</text>
<line x1="71" y1="743.7" x2="74.4" y2="743.7" stroke="#222" stroke-width="0.8"/>
<text x="38.11" y="750.15" font-family="'Liberation Sans', sans-serif" font-size="17.8" font-weight="normal" font-style="normal" fill="#1a1a1a" textLength="29.86" lengthAdjust="spacingAndGlyphs">100</text>
<rect x="74.4" y="743.7" width="288.1" height="220.8" fill="none" stroke="#1c1c1c" stroke-width="0.8"/>
</g>
<g>
<line x1="75.5" y1="722.6" x2="358.6" y2="722.6" stroke="#000" stroke-width="3.2"/>
<line x1="75.5" y1="707.4" x2="75.5" y2="736.6" stroke="#000" stroke-width="3.5"/>
<line x1="358.6" y1="707.4" x2="358.6" y2="736.6" stroke="#000" stroke-width="3.5"/>
<line x1="132.12" y1="711.1" x2="132.12" y2="733.8" stroke="#000" stroke-width="1.3"/>
<line x1="188.74" y1="711.1" x2="188.74" y2="733.8" stroke="#000" stroke-width="1.3"/>
<line x1="245.36" y1="711.1" x2="245.36" y2="733.8" stroke="#000" stroke-width="1.3"/>
<line x1="301.98" y1="711.1" x2="301.98" y2="733.8" stroke="#000" stroke-width="1.3"/>
<polygon points="238.4,697.4 255,697.4 246.7,711" fill="#000" stroke="none" stroke-width="1"/>
</g>
<text x="105.9" y="692.9" font-family="'Liberation Serif', serif" font-size="22" font-weight="normal" font-style="normal" fill="#000" textLength="15.95" lengthAdjust="spacingAndGlyphs" stroke="#000" stroke-width="0.25" stroke-linejoin="round">Δ</text>
<text x="122.9" y="692.9" font-family="'Liberation Serif', serif" font-size="22" font-weight="bold" font-style="italic" fill="#000" textLength="12.44" lengthAdjust="spacingAndGlyphs" stroke="#000" stroke-width="0.95" stroke-linejoin="round">G</text>
<text x="144.1" y="692.9" font-family="'Liberation Serif', serif" font-size="22" font-weight="bold" font-style="normal" fill="#000" textLength="16.3" lengthAdjust="spacingAndGlyphs" stroke="#000" stroke-width="0.45" stroke-linejoin="round">=</text>
<text x="168" y="692.9" font-family="'Liberation Serif', serif" font-size="22" font-weight="bold" font-style="normal" fill="#000" textLength="37.2" lengthAdjust="spacingAndGlyphs" stroke="#000" stroke-width="0.45" stroke-linejoin="round">140</text>
<text x="215.3" y="692.9" font-family="'Liberation Serif', serif" font-size="25.5" font-weight="bold" font-style="italic" fill="#000" textLength="30.33" lengthAdjust="spacingAndGlyphs" stroke="#000" stroke-width="0.45" stroke-linejoin="round">me</text>
<text x="247.28" y="692.9" font-family="'Liberation Serif', serif" font-size="22" font-weight="bold" font-style="italic" fill="#000" textLength="13.72" lengthAdjust="spacingAndGlyphs" stroke="#000" stroke-width="0.7" stroke-linejoin="round">V</text>
<text x="265.82" y="692.9" font-family="'Liberation Serif', serif" font-size="22" font-weight="bold" font-style="italic" fill="#000" textLength="6.48" lengthAdjust="spacingAndGlyphs" stroke="#000" stroke-width="0.7" stroke-linejoin="round">/</text>
<text x="275.4" y="692.9" font-family="'Liberation Serif', serif" font-size="25.5" font-weight="bold" font-style="italic" fill="#000" textLength="60.52" lengthAdjust="spacingAndGlyphs" stroke="#000" stroke-width="0.45" stroke-linejoin="round">atom</text>
<text x="0.5" y="725.8" font-family="'Liberation Sans', sans-serif" font-size="22" font-weight="bold" font-style="normal" fill="#000" textLength="25.54" lengthAdjust="spacingAndGlyphs" stroke="#000" stroke-width="0.7">(d)</text>
<text x="0" y="0" font-family="'Liberation Sans', sans-serif" font-size="20.6" font-weight="bold" font-style="normal" fill="#000" textLength="174.62" lengthAdjust="spacingAndGlyphs" transform="translate(27.8 941.8) rotate(-90)" stroke="#000" stroke-width="0.45">Pressure (GPa)</text>
<text x="121.2" y="1006.7" font-family="'Liberation Sans', sans-serif" font-size="20.6" font-weight="bold" font-style="normal" fill="#000" textLength="193.59" lengthAdjust="spacingAndGlyphs" stroke="#000" stroke-width="0.45">Temperature (K)</text>
</g>
<g id="panel-e">
<clipPath id="ce"><rect x="439.3" y="743.7" width="288.6" height="220.9"/></clipPath>
<g clip-path="url(#ce)">
<rect x="439.3" y="743.7" width="288.6" height="220.9" fill="#008080"/>
<path d="M576.1 743.7 L577.2 752 L575 773.4 L570.8 799 L566.5 820.3 L561.2 841.7 L557 857 L570 861 L592 863.7 L614 864.8 L636 864.2 L651 862.3 L664.6 860 L674.6 851.6 L684.4 840.6 L691 831.8 L696.5 824.1 L692.1 814.2 L686.6 801 L680 785.6 L673.4 772.4 L666.4 759.6 L658 753.2 L646.6 743.7Z" fill="#deb887"/>
<path d="M439.3 743.7 L576.1 743.7 L577.2 752 L575 773.4 L570.8 799 L566.5 820.3 L561.2 841.7 L557 857 L536.7 866.7 L515.3 875.2 L494 882.7 L472.7 890 L450.3 897.2 L439.3 899.8Z" fill="#d95f02"/>
<path d="M646.6 743.7 L666.6 743.7 L666.6 759.8 L658 753.2Z" fill="#9932cc"/>
<path d="M666.4 743.7 L666.4 759.6 L673.4 772.4 L680 785.6 L686.6 801 L692.1 814.2 L696.5 824.1 L706.4 831.8 L715.2 839.5 L724 849 L728 851.4 L728 743.7Z" fill="#000"/>
<path d="M696.5 824.1 L691 831.8 L684.4 840.6 L674.6 851.6 L664.6 860 L684.4 857.6 L702 855.1 L719.6 852.2 L728 851.2 L724 849 L715.2 839.5 L706.4 831.8Z" fill="#a9a9a9"/>
<path d="M439.3 938.6 L467.3 933.9 L472.7 933.2 L494 930.7 L515.3 927.9 L536.7 924.3 L558 920 L572 916.6 L585 914.6 L603 919.2 L614 921.4 L625 923.2 L636 924.3 L647 925 L658 925.1 L669 925 L680 924.3 L691 923.2 L702 921.8 L714.1 920.3 L728 925.6 L728 964.6 L439.3 964.6Z" fill="#0000ff"/>
<path d="M439.3 899.8 L450.3 897.2 L472.7 901.9 L494 906 L515.3 909.3 L536.7 911.2 L558 912.5 L579.3 913.4 L585 914.6 L572 916.6 L558 920 L536.7 924.3 L515.3 927.9 L494 930.7 L472.7 933.2 L467.3 933.9 L458 932.2 L451.3 929.6 L445 926.6 L439.3 922.8Z" fill="#f5fffa"/>
<path d="M439.3 922.8 L445 926.6 L451.3 929.6 L458 932.2 L467.3 933.9 L439.3 938.6Z" fill="#ffa500"/>
<path d="M585 914.6 L594 910.6 L603 906 L614 899.4 L625 893.9 L636 890.2 L647 888.4 L658 887.7 L669 888.4 L680 890.2 L691 892.8 L702 896.8 L706.4 899 L710.8 910.4 L714.1 920.3 L702 921.8 L691 923.2 L680 924.3 L669 925 L658 925.1 L647 925 L636 924.3 L625 923.2 L614 921.4 L603 919.2Z" fill="#2a9bff"/>
<path d="M706.4 899 L728 884.8 L728 925.6 L714.1 920.3 L710.8 910.4Z" fill="#b8860b"/>
</g>
<text x="484.1" y="806" font-family="'Liberation Sans', sans-serif" font-size="16" font-weight="bold" font-style="normal" fill="#140800" textLength="29.2" lengthAdjust="spacingAndGlyphs">G92</text>
<text x="608.2" y="802.5" font-family="'Liberation Sans', sans-serif" font-size="16" font-weight="bold" font-style="normal" fill="#14100a" textLength="37.82" lengthAdjust="spacingAndGlyphs">G173</text>
<text x="687" y="794.3" font-family="'Liberation Sans', sans-serif" font-size="16" font-weight="bold" font-style="normal" fill="#fff" textLength="37.52" lengthAdjust="spacingAndGlyphs">G178</text>
<text x="675" y="848" font-family="'Liberation Sans', sans-serif" font-size="10" font-weight="bold" font-style="normal" fill="#111" textLength="48.59" lengthAdjust="spacingAndGlyphs">H-carbon</text>
<path d="M715.2 839.5 L724 849 L728 851.4 L728 838Z" fill="#000"/>
<text x="539.6" y="888.4" font-family="'Liberation Sans', sans-serif" font-size="16" font-weight="bold" font-style="normal" fill="#001212" textLength="71.61" lengthAdjust="spacingAndGlyphs">W-carbon</text>
<text x="464.8" y="922.7" font-family="'Liberation Sans', sans-serif" font-size="16" font-weight="bold" font-style="normal" fill="#111" textLength="29.2" lengthAdjust="spacingAndGlyphs">G21</text>
<text x="643.2" y="913.3" font-family="'Liberation Sans', sans-serif" font-size="16" font-weight="bold" font-style="normal" fill="#03101c" textLength="38.02" lengthAdjust="spacingAndGlyphs">G120</text>
<text x="552.5" y="951.5" font-family="'Liberation Sans', sans-serif" font-size="16" font-weight="bold" font-style="normal" fill="#00001c" textLength="63.21" lengthAdjust="spacingAndGlyphs">C2/m-16</text>
<g>
<line x1="439.3" y1="964.6" x2="439.3" y2="968" stroke="#222" stroke-width="0.8"/>
<text x="434.7" y="982.9" font-family="'Liberation Sans', sans-serif" font-size="17.8" font-weight="normal" font-style="normal" fill="#1a1a1a" textLength="9.22" lengthAdjust="spacingAndGlyphs">0</text>
<line x1="535.5" y1="964.6" x2="535.5" y2="968" stroke="#222" stroke-width="0.8"/>
<text x="514.8" y="982.9" font-family="'Liberation Sans', sans-serif" font-size="17.8" font-weight="normal" font-style="normal" fill="#1a1a1a" textLength="42" lengthAdjust="spacingAndGlyphs">1000</text>
<line x1="631.7" y1="964.6" x2="631.7" y2="968" stroke="#222" stroke-width="0.8"/>
<text x="611" y="982.9" font-family="'Liberation Sans', sans-serif" font-size="17.8" font-weight="normal" font-style="normal" fill="#1a1a1a" textLength="42" lengthAdjust="spacingAndGlyphs">2000</text>
<line x1="727.9" y1="964.6" x2="727.9" y2="968" stroke="#222" stroke-width="0.8"/>
<text x="707.2" y="982.9" font-family="'Liberation Sans', sans-serif" font-size="17.8" font-weight="normal" font-style="normal" fill="#1a1a1a" textLength="42" lengthAdjust="spacingAndGlyphs">3000</text>
<line x1="435.9" y1="964.6" x2="439.3" y2="964.6" stroke="#222" stroke-width="0.8"/>
<text x="423.7" y="971.05" font-family="'Liberation Sans', sans-serif" font-size="17.8" font-weight="normal" font-style="normal" fill="#1a1a1a" textLength="9.22" lengthAdjust="spacingAndGlyphs">0</text>
<line x1="435.9" y1="920.42" x2="439.3" y2="920.42" stroke="#222" stroke-width="0.8"/>
<text x="413.25" y="926.87" font-family="'Liberation Sans', sans-serif" font-size="17.8" font-weight="normal" font-style="normal" fill="#1a1a1a" textLength="19.69" lengthAdjust="spacingAndGlyphs">20</text>
<line x1="435.9" y1="876.24" x2="439.3" y2="876.24" stroke="#222" stroke-width="0.8"/>
<text x="413.25" y="882.69" font-family="'Liberation Sans', sans-serif" font-size="17.8" font-weight="normal" font-style="normal" fill="#1a1a1a" textLength="19.69" lengthAdjust="spacingAndGlyphs">40</text>
<line x1="435.9" y1="832.06" x2="439.3" y2="832.06" stroke="#222" stroke-width="0.8"/>
<text x="413.25" y="838.51" font-family="'Liberation Sans', sans-serif" font-size="17.8" font-weight="normal" font-style="normal" fill="#1a1a1a" textLength="19.69" lengthAdjust="spacingAndGlyphs">60</text>
<line x1="435.9" y1="787.88" x2="439.3" y2="787.88" stroke="#222" stroke-width="0.8"/>
<text x="413.25" y="794.33" font-family="'Liberation Sans', sans-serif" font-size="17.8" font-weight="normal" font-style="normal" fill="#1a1a1a" textLength="19.69" lengthAdjust="spacingAndGlyphs">80</text>
<line x1="435.9" y1="743.7" x2="439.3" y2="743.7" stroke="#222" stroke-width="0.8"/>
<text x="403.01" y="750.15" font-family="'Liberation Sans', sans-serif" font-size="17.8" font-weight="normal" font-style="normal" fill="#1a1a1a" textLength="29.86" lengthAdjust="spacingAndGlyphs">100</text>
<rect x="439.3" y="743.7" width="288.6" height="220.9" fill="none" stroke="#1c1c1c" stroke-width="0.8"/>
</g>
<g>
<line x1="442" y1="719.8" x2="724.9" y2="719.8" stroke="#000" stroke-width="3.2"/>
<line x1="442" y1="704.8" x2="442" y2="734.6" stroke="#000" stroke-width="3.5"/>
<line x1="724.9" y1="704.8" x2="724.9" y2="734.6" stroke="#000" stroke-width="3.5"/>
<line x1="498.58" y1="708.3" x2="498.58" y2="731" stroke="#000" stroke-width="1.3"/>
<line x1="555.16" y1="708.3" x2="555.16" y2="731" stroke="#000" stroke-width="1.3"/>
<line x1="611.74" y1="708.3" x2="611.74" y2="731" stroke="#000" stroke-width="1.3"/>
<line x1="668.32" y1="708.3" x2="668.32" y2="731" stroke="#000" stroke-width="1.3"/>
<polygon points="716.6,693.3 733.2,693.3 724.9,705.5" fill="#000" stroke="none" stroke-width="1"/>
</g>
<text x="479.8" y="692.2" font-family="'Liberation Serif', serif" font-size="22" font-weight="normal" font-style="normal" fill="#000" textLength="15.65" lengthAdjust="spacingAndGlyphs" stroke="#000" stroke-width="0.25" stroke-linejoin="round">Δ</text>
<text x="496.8" y="692.2" font-family="'Liberation Serif', serif" font-size="22" font-weight="bold" font-style="italic" fill="#000" textLength="12.44" lengthAdjust="spacingAndGlyphs" stroke="#000" stroke-width="0.95" stroke-linejoin="round">G</text>
<text x="518" y="692.2" font-family="'Liberation Serif', serif" font-size="22" font-weight="bold" font-style="normal" fill="#000" textLength="16.4" lengthAdjust="spacingAndGlyphs" stroke="#000" stroke-width="0.45" stroke-linejoin="round">=</text>
<text x="542.5" y="692.2" font-family="'Liberation Serif', serif" font-size="22" font-weight="bold" font-style="normal" fill="#000" textLength="36.9" lengthAdjust="spacingAndGlyphs" stroke="#000" stroke-width="0.45" stroke-linejoin="round">220</text>
<text x="589.2" y="692.2" font-family="'Liberation Serif', serif" font-size="25.5" font-weight="bold" font-style="italic" fill="#000" textLength="30.52" lengthAdjust="spacingAndGlyphs" stroke="#000" stroke-width="0.45" stroke-linejoin="round">me</text>
<text x="621.38" y="692.2" font-family="'Liberation Serif', serif" font-size="22" font-weight="bold" font-style="italic" fill="#000" textLength="13.81" lengthAdjust="spacingAndGlyphs" stroke="#000" stroke-width="0.7" stroke-linejoin="round">V</text>
<text x="639.72" y="692.2" font-family="'Liberation Serif', serif" font-size="22" font-weight="bold" font-style="italic" fill="#000" textLength="6.48" lengthAdjust="spacingAndGlyphs" stroke="#000" stroke-width="0.7" stroke-linejoin="round">/</text>
<text x="649.7" y="692.2" font-family="'Liberation Serif', serif" font-size="25.5" font-weight="bold" font-style="italic" fill="#000" textLength="60.42" lengthAdjust="spacingAndGlyphs" stroke="#000" stroke-width="0.45" stroke-linejoin="round">atom</text>
<text x="389.6" y="724.9" font-family="'Liberation Sans', sans-serif" font-size="22" font-weight="bold" font-style="normal" fill="#000" textLength="25.35" lengthAdjust="spacingAndGlyphs" stroke="#000" stroke-width="0.7">(e)</text>
<text x="0" y="0" font-family="'Liberation Sans', sans-serif" font-size="20.6" font-weight="bold" font-style="normal" fill="#000" textLength="174.82" lengthAdjust="spacingAndGlyphs" transform="translate(393 941.8) rotate(-90)" stroke="#000" stroke-width="0.45">Pressure (GPa)</text>
<text x="486.2" y="1006.7" font-family="'Liberation Sans', sans-serif" font-size="20.6" font-weight="bold" font-style="normal" fill="#000" textLength="193.49" lengthAdjust="spacingAndGlyphs" stroke="#000" stroke-width="0.45">Temperature (K)</text>
</g>
</svg></body></html>
